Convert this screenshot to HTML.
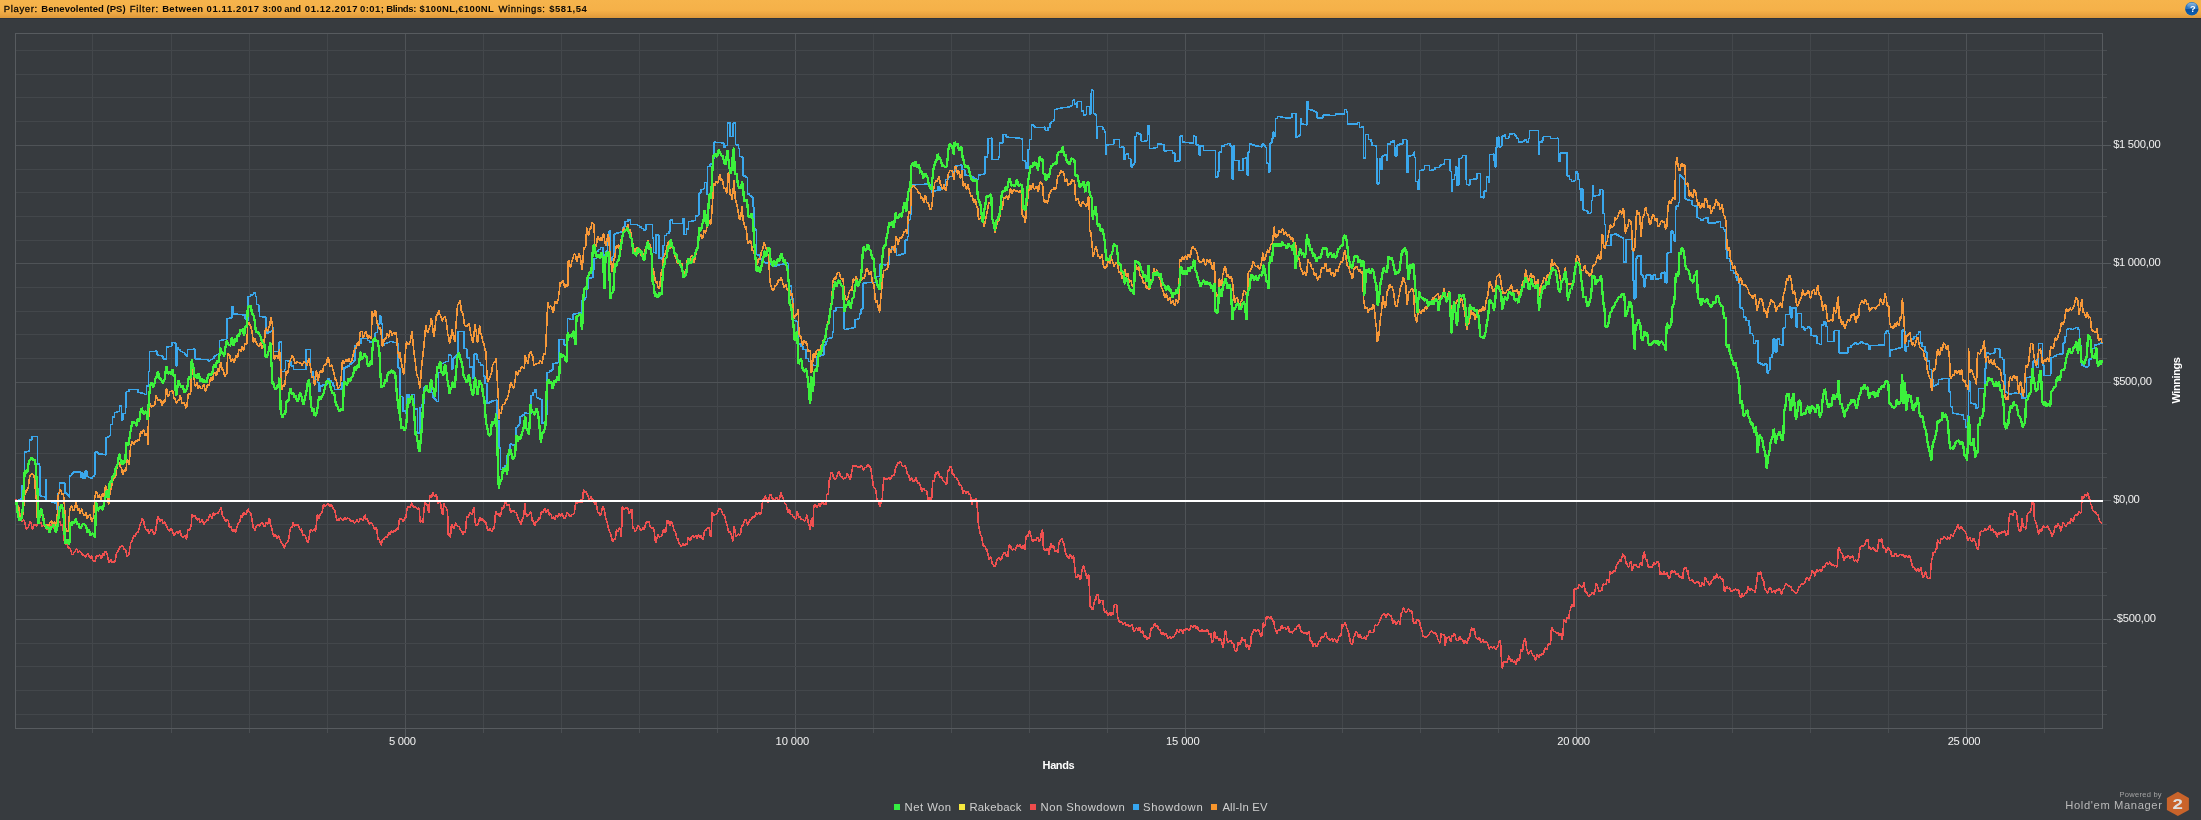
<!DOCTYPE html>
<html><head><meta charset="utf-8"><title>Graph</title><style>
html,body{margin:0;padding:0;background:#373b3f;}
body{width:2201px;height:820px;overflow:hidden;position:relative;font-family:"Liberation Sans",sans-serif;}
#hdr{position:absolute;left:0;top:0;width:2201px;height:18px;background:linear-gradient(#f6b44c 0%,#f5b149 55%,#eaa441 80%,#dc983a 100%);}
#hdrline{position:absolute;left:0;top:18px;width:2201px;height:1px;background:#2a323d;}
#hdr span{position:absolute;top:2.5px;font-size:9.5px;line-height:12px;color:#111;white-space:nowrap;}
#hdr b{font-weight:bold;}
svg{position:absolute;left:0;top:0;will-change:transform;}
svg text{font-family:"Liberation Sans",sans-serif;}
</style></head><body>
<div id="hdr"></div><div id="hdrline"></div>
<svg width="2201" height="820" viewBox="0 0 2201 820">
<g shape-rendering="crispEdges"><line x1="92.5" y1="33.5" x2="92.5" y2="728.5" stroke="#43474b"/><line x1="171.5" y1="33.5" x2="171.5" y2="728.5" stroke="#43474b"/><line x1="249.5" y1="33.5" x2="249.5" y2="728.5" stroke="#43474b"/><line x1="327.5" y1="33.5" x2="327.5" y2="728.5" stroke="#43474b"/><line x1="405.5" y1="33.5" x2="405.5" y2="728.5" stroke="#4f5357"/><line x1="483.5" y1="33.5" x2="483.5" y2="728.5" stroke="#43474b"/><line x1="561.5" y1="33.5" x2="561.5" y2="728.5" stroke="#43474b"/><line x1="639.5" y1="33.5" x2="639.5" y2="728.5" stroke="#43474b"/><line x1="717.5" y1="33.5" x2="717.5" y2="728.5" stroke="#43474b"/><line x1="795.5" y1="33.5" x2="795.5" y2="728.5" stroke="#4f5357"/><line x1="873.5" y1="33.5" x2="873.5" y2="728.5" stroke="#43474b"/><line x1="951.5" y1="33.5" x2="951.5" y2="728.5" stroke="#43474b"/><line x1="1029.5" y1="33.5" x2="1029.5" y2="728.5" stroke="#43474b"/><line x1="1107.5" y1="33.5" x2="1107.5" y2="728.5" stroke="#43474b"/><line x1="1185.5" y1="33.5" x2="1185.5" y2="728.5" stroke="#4f5357"/><line x1="1264.5" y1="33.5" x2="1264.5" y2="728.5" stroke="#43474b"/><line x1="1342.5" y1="33.5" x2="1342.5" y2="728.5" stroke="#43474b"/><line x1="1420.5" y1="33.5" x2="1420.5" y2="728.5" stroke="#43474b"/><line x1="1498.5" y1="33.5" x2="1498.5" y2="728.5" stroke="#43474b"/><line x1="1576.5" y1="33.5" x2="1576.5" y2="728.5" stroke="#4f5357"/><line x1="1654.5" y1="33.5" x2="1654.5" y2="728.5" stroke="#43474b"/><line x1="1732.5" y1="33.5" x2="1732.5" y2="728.5" stroke="#43474b"/><line x1="1810.5" y1="33.5" x2="1810.5" y2="728.5" stroke="#43474b"/><line x1="1888.5" y1="33.5" x2="1888.5" y2="728.5" stroke="#43474b"/><line x1="1966.5" y1="33.5" x2="1966.5" y2="728.5" stroke="#4f5357"/><line x1="2044.5" y1="33.5" x2="2044.5" y2="728.5" stroke="#43474b"/><line x1="15.5" y1="714.5" x2="2102.5" y2="714.5" stroke="#43474b"/><line x1="15.5" y1="690.5" x2="2102.5" y2="690.5" stroke="#43474b"/><line x1="15.5" y1="666.5" x2="2102.5" y2="666.5" stroke="#43474b"/><line x1="15.5" y1="643.5" x2="2102.5" y2="643.5" stroke="#43474b"/><line x1="15.5" y1="619.5" x2="2102.5" y2="619.5" stroke="#4f5357"/><line x1="15.5" y1="595.5" x2="2102.5" y2="595.5" stroke="#43474b"/><line x1="15.5" y1="572.5" x2="2102.5" y2="572.5" stroke="#43474b"/><line x1="15.5" y1="548.5" x2="2102.5" y2="548.5" stroke="#43474b"/><line x1="15.5" y1="524.5" x2="2102.5" y2="524.5" stroke="#43474b"/><line x1="15.5" y1="477.5" x2="2102.5" y2="477.5" stroke="#43474b"/><line x1="15.5" y1="453.5" x2="2102.5" y2="453.5" stroke="#43474b"/><line x1="15.5" y1="429.5" x2="2102.5" y2="429.5" stroke="#43474b"/><line x1="15.5" y1="406.5" x2="2102.5" y2="406.5" stroke="#43474b"/><line x1="15.5" y1="382.5" x2="2102.5" y2="382.5" stroke="#4f5357"/><line x1="15.5" y1="358.5" x2="2102.5" y2="358.5" stroke="#43474b"/><line x1="15.5" y1="334.5" x2="2102.5" y2="334.5" stroke="#43474b"/><line x1="15.5" y1="311.5" x2="2102.5" y2="311.5" stroke="#43474b"/><line x1="15.5" y1="287.5" x2="2102.5" y2="287.5" stroke="#43474b"/><line x1="15.5" y1="263.5" x2="2102.5" y2="263.5" stroke="#4f5357"/><line x1="15.5" y1="240.5" x2="2102.5" y2="240.5" stroke="#43474b"/><line x1="15.5" y1="216.5" x2="2102.5" y2="216.5" stroke="#43474b"/><line x1="15.5" y1="192.5" x2="2102.5" y2="192.5" stroke="#43474b"/><line x1="15.5" y1="169.5" x2="2102.5" y2="169.5" stroke="#43474b"/><line x1="15.5" y1="145.5" x2="2102.5" y2="145.5" stroke="#4f5357"/><line x1="15.5" y1="121.5" x2="2102.5" y2="121.5" stroke="#43474b"/><line x1="15.5" y1="97.5" x2="2102.5" y2="97.5" stroke="#43474b"/><line x1="15.5" y1="74.5" x2="2102.5" y2="74.5" stroke="#43474b"/><line x1="15.5" y1="50.5" x2="2102.5" y2="50.5" stroke="#43474b"/></g>
<g shape-rendering="crispEdges"><rect x="15.5" y="33.5" width="2087.0" height="695.0" fill="none" stroke="#575b5f"/><line x1="92.5" y1="729.0" x2="92.5" y2="732.5" stroke="#4a4e52"/><line x1="171.5" y1="729.0" x2="171.5" y2="732.5" stroke="#4a4e52"/><line x1="249.5" y1="729.0" x2="249.5" y2="732.5" stroke="#4a4e52"/><line x1="327.5" y1="729.0" x2="327.5" y2="732.5" stroke="#4a4e52"/><line x1="405.5" y1="729.0" x2="405.5" y2="737.5" stroke="#555a5e"/><line x1="483.5" y1="729.0" x2="483.5" y2="732.5" stroke="#4a4e52"/><line x1="561.5" y1="729.0" x2="561.5" y2="732.5" stroke="#4a4e52"/><line x1="639.5" y1="729.0" x2="639.5" y2="732.5" stroke="#4a4e52"/><line x1="717.5" y1="729.0" x2="717.5" y2="732.5" stroke="#4a4e52"/><line x1="795.5" y1="729.0" x2="795.5" y2="737.5" stroke="#555a5e"/><line x1="873.5" y1="729.0" x2="873.5" y2="732.5" stroke="#4a4e52"/><line x1="951.5" y1="729.0" x2="951.5" y2="732.5" stroke="#4a4e52"/><line x1="1029.5" y1="729.0" x2="1029.5" y2="732.5" stroke="#4a4e52"/><line x1="1107.5" y1="729.0" x2="1107.5" y2="732.5" stroke="#4a4e52"/><line x1="1185.5" y1="729.0" x2="1185.5" y2="737.5" stroke="#555a5e"/><line x1="1264.5" y1="729.0" x2="1264.5" y2="732.5" stroke="#4a4e52"/><line x1="1342.5" y1="729.0" x2="1342.5" y2="732.5" stroke="#4a4e52"/><line x1="1420.5" y1="729.0" x2="1420.5" y2="732.5" stroke="#4a4e52"/><line x1="1498.5" y1="729.0" x2="1498.5" y2="732.5" stroke="#4a4e52"/><line x1="1576.5" y1="729.0" x2="1576.5" y2="737.5" stroke="#555a5e"/><line x1="1654.5" y1="729.0" x2="1654.5" y2="732.5" stroke="#4a4e52"/><line x1="1732.5" y1="729.0" x2="1732.5" y2="732.5" stroke="#4a4e52"/><line x1="1810.5" y1="729.0" x2="1810.5" y2="732.5" stroke="#4a4e52"/><line x1="1888.5" y1="729.0" x2="1888.5" y2="732.5" stroke="#4a4e52"/><line x1="1966.5" y1="729.0" x2="1966.5" y2="737.5" stroke="#555a5e"/><line x1="2044.5" y1="729.0" x2="2044.5" y2="732.5" stroke="#4a4e52"/><line x1="2103.0" y1="714.5" x2="2106.5" y2="714.5" stroke="#4a4e52"/><line x1="2103.0" y1="690.5" x2="2106.5" y2="690.5" stroke="#4a4e52"/><line x1="2103.0" y1="666.5" x2="2106.5" y2="666.5" stroke="#4a4e52"/><line x1="2103.0" y1="643.5" x2="2106.5" y2="643.5" stroke="#4a4e52"/><line x1="2103.0" y1="619.5" x2="2110.5" y2="619.5" stroke="#555a5e"/><line x1="2103.0" y1="595.5" x2="2106.5" y2="595.5" stroke="#4a4e52"/><line x1="2103.0" y1="572.5" x2="2106.5" y2="572.5" stroke="#4a4e52"/><line x1="2103.0" y1="548.5" x2="2106.5" y2="548.5" stroke="#4a4e52"/><line x1="2103.0" y1="524.5" x2="2106.5" y2="524.5" stroke="#4a4e52"/><line x1="2103.0" y1="500.5" x2="2110.5" y2="500.5" stroke="#555a5e"/><line x1="2103.0" y1="477.5" x2="2106.5" y2="477.5" stroke="#4a4e52"/><line x1="2103.0" y1="453.5" x2="2106.5" y2="453.5" stroke="#4a4e52"/><line x1="2103.0" y1="429.5" x2="2106.5" y2="429.5" stroke="#4a4e52"/><line x1="2103.0" y1="406.5" x2="2106.5" y2="406.5" stroke="#4a4e52"/><line x1="2103.0" y1="382.5" x2="2110.5" y2="382.5" stroke="#555a5e"/><line x1="2103.0" y1="358.5" x2="2106.5" y2="358.5" stroke="#4a4e52"/><line x1="2103.0" y1="334.5" x2="2106.5" y2="334.5" stroke="#4a4e52"/><line x1="2103.0" y1="311.5" x2="2106.5" y2="311.5" stroke="#4a4e52"/><line x1="2103.0" y1="287.5" x2="2106.5" y2="287.5" stroke="#4a4e52"/><line x1="2103.0" y1="263.5" x2="2110.5" y2="263.5" stroke="#555a5e"/><line x1="2103.0" y1="240.5" x2="2106.5" y2="240.5" stroke="#4a4e52"/><line x1="2103.0" y1="216.5" x2="2106.5" y2="216.5" stroke="#4a4e52"/><line x1="2103.0" y1="192.5" x2="2106.5" y2="192.5" stroke="#4a4e52"/><line x1="2103.0" y1="169.5" x2="2106.5" y2="169.5" stroke="#4a4e52"/><line x1="2103.0" y1="145.5" x2="2110.5" y2="145.5" stroke="#555a5e"/><line x1="2103.0" y1="121.5" x2="2106.5" y2="121.5" stroke="#4a4e52"/><line x1="2103.0" y1="97.5" x2="2106.5" y2="97.5" stroke="#4a4e52"/><line x1="2103.0" y1="74.5" x2="2106.5" y2="74.5" stroke="#4a4e52"/><line x1="2103.0" y1="50.5" x2="2106.5" y2="50.5" stroke="#4a4e52"/></g>
<g fill="none" stroke-linejoin="bevel" stroke-linecap="butt" shape-rendering="crispEdges">
<path d="M16.1,499.0 L17.3,502.9 L18.3,507.3 L19.1,511.6 L20.4,515.5 L21.0,519.1 L22.2,521.6 L23.5,519.5 L24.7,522.0 L25.3,525.3 L26.5,529.5 L26.9,528.2 L28.1,527.8 L29.4,524.2 L30.2,521.2 L31.2,523.3 L32.0,528.1 L32.6,529.2 L33.8,525.0 L35.3,524.6 L35.7,525.3 L36.6,526.7 L37.9,521.7 L39.3,522.5 L39.5,522.9 L40.8,522.7 L42.1,526.3 L43.0,525.5 L43.8,524.6 L45.6,525.5 L46.6,528.6 L47.3,529.6 L49.1,524.0 L50.3,526.6 L50.3,526.6 L51.4,523.7 L52.8,524.9 L54.3,528.8 L54.9,527.9 L55.5,525.5 L57.0,527.1 L58.5,523.1 L58.5,523.1 L60.0,521.4 L61.5,526.2 L62.2,524.7 L63.0,527.8 L64.2,540.2 L64.9,543.9 L65.4,543.9 L66.8,544.0 L68.5,548.3 L69.5,548.0 L70.3,548.7 L71.9,554.3 L73.2,554.7 L73.4,553.6 L75.3,551.1 L75.9,549.2 L77.1,549.4 L78.3,552.7 L79.6,550.9 L80.5,551.9 L81.4,552.6 L82.5,554.7 L84.2,555.8 L85.0,556.7 L85.5,557.1 L87.2,553.9 L88.4,554.2 L89.6,557.2 L89.9,558.2 L91.5,555.5 L92.7,560.4 L94.0,561.6 L94.2,561.8 L95.2,560.9 L96.7,555.1 L97.9,556.6 L97.9,556.7 L99.6,554.5 L101.4,558.6 L101.5,558.4 L102.8,552.9 L103.9,555.4 L105.2,551.1 L105.6,551.4 L107.4,555.0 L108.8,562.5 L109.0,562.9 L110.8,559.2 L112.5,562.9 L113.8,561.9 L114.3,563.0 L115.0,561.4 L116.3,554.3 L117.1,552.3 L117.6,552.5 L119.5,547.2 L120.7,546.6 L120.8,546.6 L122.6,545.8 L123.5,547.2 L123.8,548.8 L125.6,549.9 L127.1,556.3 L127.3,556.7 L128.9,554.1 L129.0,553.5 L130.6,544.1 L130.8,542.7 L131.9,542.0 L133.7,535.5 L134.4,536.1 L135.0,536.9 L136.5,532.0 L137.2,532.6 L138.4,531.7 L139.9,525.4 L140.2,523.9 L141.6,521.9 L142.3,518.4 L143.4,519.8 L144.7,526.6 L145.4,528.3 L146.4,530.1 L147.8,529.3 L148.1,531.1 L148.9,533.2 L150.8,529.9 L151.8,530.2 L152.4,530.3 L154.1,535.1 L155.5,532.3 L155.7,530.7 L157.1,520.7 L157.7,517.0 L158.5,517.2 L159.8,521.7 L161.0,519.8 L161.6,518.9 L162.9,523.5 L164.4,521.9 L164.6,522.3 L166.1,524.9 L168.0,529.8 L168.3,530.1 L169.5,531.2 L170.9,528.2 L172.0,530.1 L173.7,535.6 L173.8,535.6 L175.0,534.3 L176.8,530.9 L178.3,533.3 L180.0,530.6 L180.2,531.0 L181.3,535.4 L182.9,537.6 L183.1,537.7 L184.9,535.8 L186.5,539.3 L186.6,539.1 L187.6,531.7 L188.4,529.3 L189.4,530.1 L190.8,526.8 L191.1,527.0 L192.0,514.4 L192.7,516.1 L194.3,516.1 L195.6,516.3 L195.7,516.8 L196.9,520.0 L198.7,518.3 L199.4,520.3 L200.2,522.6 L202.0,519.8 L203.0,522.3 L203.8,524.4 L205.7,521.9 L205.8,522.0 L206.9,519.4 L208.1,520.2 L208.5,518.3 L210.0,514.6 L211.8,518.3 L212.2,517.3 L213.5,512.6 L214.7,515.1 L216.6,513.3 L216.7,513.2 L217.9,513.4 L219.5,510.6 L221.1,507.5 L221.3,507.9 L222.4,515.5 L223.9,517.2 L224.1,517.8 L225.6,522.0 L226.9,519.6 L227.7,519.7 L228.3,520.8 L229.6,528.1 L230.7,526.1 L231.4,528.7 L232.6,531.7 L234.2,529.7 L235.0,531.9 L235.7,532.0 L236.9,527.0 L237.8,524.4 L238.1,523.4 L239.6,522.4 L241.1,515.7 L241.4,516.0 L242.3,518.0 L243.4,512.6 L244.2,513.3 L244.8,514.3 L246.4,513.9 L247.8,508.7 L247.8,508.8 L249.1,511.8 L250.4,513.0 L250.6,512.9 L251.6,517.4 L253.3,527.6 L253.3,527.6 L255.1,530.4 L256.1,527.1 L256.2,526.4 L257.7,524.7 L259.5,526.3 L259.7,525.6 L261.0,523.4 L262.5,522.9 L263.8,526.1 L265.1,526.3 L265.2,526.0 L266.2,522.3 L267.7,524.2 L269.2,518.4 L269.8,519.3 L270.4,524.4 L272.1,529.7 L272.5,532.7 L273.7,536.6 L275.5,534.3 L276.2,536.6 L277.0,538.8 L278.5,535.5 L279.7,539.1 L279.8,539.0 L281.3,542.6 L282.9,544.4 L283.5,547.1 L284.3,548.2 L285.7,543.6 L287.1,542.8 L287.2,542.9 L288.8,538.3 L290.0,529.9 L290.8,526.9 L291.8,527.6 L293.1,522.6 L294.4,526.4 L294.5,526.2 L295.6,524.2 L296.7,525.5 L298.1,524.7 L298.2,524.8 L299.9,530.1 L301.4,528.9 L303.1,535.7 L303.6,535.4 L304.4,534.5 L305.8,536.9 L307.2,541.8 L308.2,543.0 L309.0,538.0 L310.0,530.3 L310.9,529.0 L312.5,531.0 L314.4,528.8 L315.5,531.3 L316.1,527.9 L317.3,514.9 L317.4,514.6 L318.9,518.4 L320.6,513.2 L321.0,513.7 L322.1,511.9 L323.5,504.6 L323.7,504.3 L325.1,506.6 L327.0,504.2 L327.4,504.1 L328.5,504.1 L330.2,506.6 L331.0,504.5 L331.4,504.1 L333.3,508.9 L334.7,510.3 L335.0,511.3 L336.8,520.4 L337.4,520.9 L337.9,519.0 L339.2,520.4 L340.5,517.6 L341.8,519.9 L342.0,519.7 L343.3,520.4 L344.7,517.3 L345.9,519.7 L347.5,518.3 L347.7,518.2 L349.2,518.7 L350.8,521.5 L352.5,520.3 L354.3,522.9 L354.8,522.7 L355.8,522.1 L357.2,519.6 L358.5,522.7 L360.3,518.4 L361.2,519.1 L361.6,519.1 L363.2,520.5 L364.8,514.8 L364.9,515.0 L366.0,519.7 L367.2,518.2 L368.5,523.0 L368.9,524.0 L370.2,522.9 L371.8,522.9 L373.1,525.6 L373.1,525.7 L375.0,530.1 L376.1,527.0 L376.8,529.1 L377.7,536.9 L378.2,539.6 L379.2,539.6 L381.0,545.1 L381.3,544.7 L382.5,539.7 L384.1,539.0 L384.2,539.0 L385.7,536.3 L387.2,537.4 L388.7,532.4 L389.6,533.9 L390.1,534.9 L391.5,530.6 L393.0,532.8 L394.2,530.3 L395.3,531.7 L395.5,531.3 L397.0,527.9 L398.2,529.9 L398.4,528.4 L399.1,520.8 L400.0,518.9 L401.9,519.2 L403.3,522.1 L405.0,517.6 L405.5,518.8 L406.7,511.4 L406.8,510.3 L407.9,506.1 L409.2,507.5 L409.7,507.8 L411.6,503.3 L411.9,503.1 L413.0,506.3 L414.7,507.7 L414.9,507.4 L416.2,507.2 L417.4,509.4 L417.4,509.3 L418.8,507.8 L419.3,509.7 L420.2,522.3 L420.2,522.4 L421.9,520.9 L422.6,523.2 L423.4,517.5 L423.8,512.2 L424.8,502.4 L425.1,501.6 L426.5,505.1 L427.5,505.0 L427.9,508.6 L428.8,513.1 L429.6,499.0 L429.9,495.3 L431.4,497.5 L432.8,492.7 L433.0,492.9 L434.5,496.6 L436.1,494.5 L436.6,495.7 L437.6,502.3 L437.9,503.3 L439.0,501.5 L440.3,502.5 L440.7,504.5 L442.0,513.2 L442.7,515.0 L443.3,508.4 L444.0,503.4 L444.7,506.1 L445.8,507.4 L446.1,507.1 L447.5,511.4 L447.6,511.2 L448.2,535.4 L449.0,533.6 L450.4,537.6 L450.6,535.5 L451.3,526.4 L452.1,524.3 L453.8,529.1 L454.0,528.6 L455.6,522.7 L456.8,525.1 L456.8,525.1 L458.5,526.6 L459.1,526.7 L460.1,529.4 L461.3,530.6 L461.3,530.8 L463.0,534.4 L463.2,534.4 L464.1,531.5 L465.4,532.9 L465.4,532.7 L466.5,518.2 L466.9,516.7 L468.3,517.2 L468.6,516.0 L470.1,512.1 L471.4,514.3 L472.0,514.3 L473.8,507.1 L473.8,507.4 L475.0,521.0 L475.2,522.1 L476.3,525.6 L476.7,524.4 L477.9,524.8 L478.7,521.6 L479.7,517.5 L480.5,517.7 L481.3,520.5 L483.1,519.0 L483.3,519.7 L484.9,522.5 L485.5,521.6 L486.7,526.3 L486.9,527.5 L488.4,530.8 L489.7,529.2 L490.1,528.2 L491.6,532.0 L492.9,528.2 L493.3,529.5 L494.1,527.9 L494.6,524.3 L495.5,513.3 L495.7,510.7 L497.2,514.2 L497.9,514.1 L498.7,513.5 L499.7,516.9 L500.5,516.3 L501.9,508.9 L502.2,507.4 L503.6,508.0 L504.3,505.1 L505.3,501.6 L506.1,502.2 L507.2,505.7 L508.9,504.5 L509.0,504.6 L510.5,512.1 L511.6,512.4 L512.1,510.7 L513.5,510.3 L514.4,511.3 L514.6,512.3 L516.1,512.4 L517.1,514.5 L517.9,518.1 L518.9,520.7 L519.5,520.5 L520.9,524.7 L521.3,524.7 L522.1,520.3 L523.5,516.1 L523.9,513.6 L525.0,503.5 L525.6,511.5 L525.7,513.6 L526.9,516.2 L528.7,514.2 L529.0,514.5 L530.1,512.7 L531.2,511.8 L531.8,518.0 L532.3,521.1 L533.2,520.1 L534.5,525.4 L534.7,525.5 L536.0,521.8 L537.2,522.1 L537.2,521.9 L538.7,517.9 L540.0,518.9 L540.1,518.6 L541.3,511.8 L541.8,511.1 L543.1,512.8 L544.5,508.8 L544.8,508.4 L546.1,513.0 L548.0,509.3 L548.2,510.1 L549.5,515.4 L550.8,513.8 L551.0,514.4 L552.2,518.3 L553.6,516.6 L553.7,517.2 L554.7,520.2 L556.3,515.2 L557.4,517.0 L557.7,517.2 L559.2,513.1 L559.3,513.0 L560.5,516.6 L561.9,513.5 L562.0,513.5 L563.4,517.6 L563.8,518.3 L564.6,518.5 L565.7,517.3 L566.5,514.8 L567.3,512.4 L569.1,515.3 L569.2,515.3 L570.8,516.5 L572.6,514.0 L572.9,514.7 L574.1,513.7 L574.4,512.1 L575.6,502.9 L575.8,502.5 L577.2,503.9 L578.4,501.8 L578.7,501.1 L580.1,502.6 L581.1,499.5 L581.7,500.4 L582.4,502.9 L583.3,491.8 L583.5,489.7 L584.8,492.5 L585.3,491.2 L586.5,492.1 L587.2,494.8 L588.0,496.1 L589.4,499.6 L589.5,499.7 L590.8,496.6 L592.1,498.7 L592.3,499.5 L593.6,499.6 L593.9,501.2 L594.9,504.5 L595.8,502.2 L596.2,502.6 L597.6,511.6 L597.9,512.9 L599.5,512.9 L600.3,515.5 L601.2,513.8 L602.2,508.0 L602.9,506.7 L604.4,509.5 L604.7,512.5 L605.8,518.4 L605.9,518.4 L607.2,522.4 L607.6,524.2 L608.8,529.7 L609.5,531.5 L610.6,533.9 L611.3,537.0 L612.4,540.8 L613.1,541.1 L614.0,538.9 L615.2,539.9 L615.3,539.7 L616.4,530.3 L616.6,530.0 L618.2,531.7 L619.5,527.8 L620.0,528.4 L621.4,537.4 L621.4,536.9 L622.3,507.5 L622.6,506.7 L624.1,509.3 L625.6,507.7 L625.9,507.7 L626.7,507.7 L628.0,508.3 L629.3,513.4 L629.6,513.1 L630.9,509.2 L631.8,509.4 L632.5,522.7 L632.9,528.9 L633.9,528.2 L635.1,531.2 L635.7,531.1 L636.9,528.5 L637.8,525.6 L638.4,525.2 L640.1,529.0 L641.4,530.6 L641.5,530.5 L642.8,527.7 L644.1,529.4 L645.1,526.5 L645.7,523.4 L647.0,521.4 L647.3,522.4 L648.8,521.2 L649.7,524.9 L650.1,526.4 L651.8,528.6 L652.5,528.0 L653.4,528.2 L654.3,531.7 L655.1,539.8 L655.6,543.1 L656.8,538.5 L657.9,535.0 L658.0,535.0 L659.6,537.1 L661.1,536.2 L661.6,535.7 L662.8,532.5 L663.4,529.7 L664.0,529.1 L665.1,532.5 L665.8,531.6 L667.0,521.3 L667.1,520.5 L668.6,520.9 L669.5,524.5 L669.9,525.7 L671.2,521.3 L671.7,521.6 L672.8,525.1 L674.1,530.3 L674.4,530.5 L675.5,532.0 L676.2,535.8 L676.7,538.3 L677.8,538.5 L678.1,540.0 L679.0,543.3 L680.1,544.2 L680.8,546.1 L681.4,546.5 L682.8,543.8 L683.6,544.7 L684.5,545.7 L685.8,543.3 L687.0,544.1 L687.2,543.7 L688.1,537.6 L688.5,537.2 L689.9,540.9 L690.9,539.0 L691.5,536.9 L692.8,535.3 L693.6,536.3 L694.3,538.2 L695.6,535.0 L696.4,537.4 L696.8,538.4 L698.3,534.9 L699.1,536.0 L699.7,538.2 L700.9,535.8 L701.0,535.6 L702.8,539.5 L703.7,536.2 L704.0,533.7 L705.0,530.0 L705.7,530.8 L707.4,527.8 L709.0,527.8 L709.2,528.4 L710.2,535.6 L711.0,536.6 L712.0,516.4 L712.3,512.0 L713.7,515.4 L715.4,514.6 L715.6,514.8 L717.2,513.6 L718.3,510.2 L718.7,508.9 L719.9,509.6 L720.1,508.9 L721.5,509.8 L722.6,514.4 L722.9,514.6 L724.5,515.4 L725.6,520.6 L725.6,520.6 L727.5,526.8 L728.4,531.8 L728.7,532.5 L729.8,531.6 L731.1,534.0 L731.5,535.0 L732.7,540.9 L732.9,541.1 L734.2,525.8 L734.4,526.4 L735.7,536.2 L736.1,537.0 L738.0,534.1 L738.4,534.3 L739.8,535.1 L740.8,532.9 L741.3,528.5 L742.1,525.1 L743.1,525.3 L744.5,520.1 L744.8,519.3 L746.1,519.9 L747.6,524.9 L747.8,525.2 L749.5,520.4 L750.3,519.7 L751.0,519.7 L752.8,516.5 L753.1,517.0 L754.5,517.7 L755.8,512.9 L755.9,512.9 L757.0,514.8 L758.5,513.4 L758.8,512.7 L760.6,514.7 L761.3,512.4 L762.3,503.1 L763.1,499.5 L763.7,500.2 L764.9,496.0 L765.5,496.4 L767.3,501.1 L767.7,502.9 L768.9,500.2 L769.5,496.1 L770.4,493.9 L771.3,495.3 L772.0,498.1 L773.2,499.4 L773.5,498.7 L775.2,500.9 L775.9,498.7 L776.5,496.9 L778.1,500.0 L779.5,498.7 L779.6,498.4 L780.8,492.4 L781.0,492.4 L782.0,496.8 L783.2,498.0 L783.2,498.1 L784.8,503.4 L786.0,504.3 L786.4,505.3 L787.7,512.1 L787.8,512.2 L789.3,509.1 L790.0,511.4 L790.1,512.6 L790.6,515.0 L792.0,514.3 L792.8,516.0 L793.9,516.8 L795.7,519.1 L796.5,517.4 L796.9,513.2 L797.4,511.1 L798.1,515.8 L799.2,517.2 L799.9,516.2 L801.2,519.6 L802.9,519.4 L802.9,519.4 L804.5,521.1 L805.6,519.4 L806.0,517.5 L807.1,514.7 L807.8,520.3 L808.3,522.9 L808.9,524.1 L810.2,530.0 L810.8,525.6 L811.5,518.3 L812.2,521.2 L812.9,526.9 L813.8,506.0 L813.9,506.1 L815.4,504.7 L816.9,507.6 L817.5,506.7 L818.8,503.6 L820.0,507.0 L821.2,503.3 L821.2,503.2 L822.5,502.4 L824.3,504.9 L824.8,503.8 L825.9,504.1 L826.1,504.9 L826.8,493.9 L827.5,495.1 L828.5,492.3 L829.0,482.2 L829.0,481.3 L830.2,478.2 L830.8,473.0 L831.6,472.3 L833.0,475.3 L833.2,476.4 L834.9,479.3 L835.0,478.7 L836.2,478.7 L837.6,473.7 L837.8,473.3 L839.0,471.1 L839.4,471.6 L840.1,475.5 L841.3,476.6 L841.5,476.1 L843.3,479.0 L844.0,478.7 L844.6,477.4 L846.1,478.0 L846.8,474.9 L847.3,473.4 L848.7,476.1 L850.2,479.7 L850.4,479.8 L851.7,472.2 L851.7,471.9 L853.1,465.2 L853.2,465.2 L854.5,466.9 L855.4,465.5 L855.8,466.0 L857.6,466.7 L857.7,466.9 L859.2,467.9 L860.6,466.1 L861.4,465.8 L861.9,466.0 L863.6,470.1 L864.1,469.5 L864.9,467.3 L866.2,467.7 L866.9,466.0 L867.9,464.0 L868.7,465.0 L869.2,467.1 L870.5,466.4 L870.5,466.5 L872.3,478.7 L872.4,478.8 L873.6,487.6 L873.7,487.5 L875.5,489.0 L876.0,491.1 L876.7,498.2 L877.3,501.1 L878.4,500.4 L879.7,506.6 L879.8,506.8 L881.4,501.4 L882.1,501.8 L882.8,489.3 L882.8,489.1 L883.9,478.1 L884.2,477.2 L885.5,478.8 L887.0,478.8 L887.2,479.0 L889.0,477.3 L889.7,478.6 L890.4,479.3 L892.1,476.0 L893.8,474.5 L894.3,475.7 L895.0,471.8 L895.6,466.9 L896.5,466.7 L898.0,462.2 L898.0,462.2 L899.5,464.0 L900.3,461.4 L901.3,463.0 L901.6,464.9 L902.6,466.8 L904.1,466.6 L904.4,465.7 L905.4,465.3 L906.2,468.8 L907.3,474.0 L908.0,474.5 L908.5,474.2 L909.8,480.1 L910.8,479.7 L911.7,477.8 L913.0,481.1 L914.5,481.7 L916.1,477.6 L916.3,477.9 L917.8,484.0 L919.0,483.0 L919.3,483.0 L920.5,485.9 L921.7,491.3 L921.9,491.5 L923.4,488.2 L925.0,490.8 L925.4,490.0 L926.8,491.5 L927.2,494.5 L928.0,499.1 L929.1,499.2 L929.7,497.4 L930.9,500.5 L931.8,497.7 L932.2,490.1 L932.7,480.9 L933.8,481.3 L934.5,479.4 L935.2,474.7 L935.8,472.7 L936.6,474.2 L938.1,471.3 L938.2,471.4 L939.7,476.9 L941.0,476.8 L941.5,476.3 L942.8,480.6 L943.7,481.3 L944.5,481.8 L945.8,483.9 L946.8,484.1 L947.6,473.5 L947.9,470.1 L948.9,470.5 L950.1,467.3 L950.3,466.6 L951.6,466.7 L951.8,470.3 L952.3,474.4 L953.3,472.9 L954.9,478.0 L955.6,477.1 L956.4,477.9 L957.4,480.3 L958.0,480.4 L959.7,485.6 L960.2,484.9 L961.5,485.5 L962.9,493.3 L963.0,493.5 L964.2,490.3 L966.1,493.4 L966.6,492.4 L967.8,491.1 L969.1,494.3 L969.3,494.2 L970.4,495.0 L971.1,498.8 L971.6,504.6 L971.7,505.3 L972.7,499.9 L973.5,499.1 L974.4,500.6 L976.0,498.8 L976.6,499.7 L977.4,509.3 L977.9,514.0 L978.4,525.3 L979.0,526.8 L980.3,533.9 L980.3,534.1 L981.7,536.5 L982.1,539.4 L982.9,544.8 L983.9,546.2 L984.6,545.4 L986.3,550.1 L986.7,549.5 L987.9,553.6 L988.1,555.6 L989.3,560.0 L990.5,556.1 L991.2,558.4 L992.0,563.0 L993.9,566.0 L994.0,566.8 L995.5,566.4 L996.7,560.8 L996.9,560.2 L998.7,557.7 L999.5,558.6 L1000.0,560.1 L1001.5,558.3 L1001.7,558.8 L1002.8,554.2 L1002.8,554.4 L1004.6,552.5 L1005.9,554.6 L1006.3,555.9 L1007.7,556.7 L1007.7,556.4 L1009.0,545.5 L1009.5,544.7 L1010.8,546.2 L1011.3,548.4 L1012.4,549.7 L1012.6,550.2 L1013.6,548.9 L1015.4,550.1 L1015.9,548.4 L1016.9,544.9 L1018.7,546.6 L1018.7,546.7 L1020.0,544.0 L1021.4,548.3 L1021.7,549.1 L1023.1,545.5 L1024.7,549.8 L1024.8,549.5 L1026.0,537.0 L1026.4,535.5 L1027.7,536.7 L1028.4,534.3 L1028.9,531.6 L1029.7,530.8 L1030.2,533.6 L1031.4,537.1 L1032.0,540.1 L1032.6,541.7 L1033.9,540.6 L1034.4,539.0 L1035.9,541.0 L1036.1,540.5 L1037.5,537.0 L1039.3,541.9 L1040.4,538.6 L1040.6,539.0 L1041.5,532.1 L1042.3,530.7 L1042.6,529.0 L1043.4,548.2 L1043.5,548.1 L1045.3,551.0 L1046.1,550.0 L1046.5,548.7 L1047.9,548.8 L1048.1,549.7 L1049.2,554.4 L1049.2,554.4 L1050.7,542.9 L1050.7,542.9 L1052.0,547.7 L1053.4,545.3 L1053.5,545.2 L1054.9,551.7 L1055.8,551.2 L1056.1,550.4 L1057.9,552.4 L1058.0,552.4 L1058.9,543.1 L1059.3,542.9 L1060.8,539.4 L1061.7,538.5 L1062.0,538.7 L1063.6,543.7 L1063.9,543.7 L1065.1,549.9 L1065.3,551.4 L1066.5,555.9 L1067.9,556.4 L1068.1,557.0 L1069.2,558.6 L1070.3,554.5 L1070.8,555.2 L1072.1,558.5 L1073.6,555.7 L1073.6,556.0 L1074.8,568.3 L1075.2,571.6 L1075.9,577.2 L1076.7,577.4 L1078.5,574.2 L1079.0,575.8 L1080.2,579.6 L1080.9,578.8 L1081.0,577.9 L1081.9,570.4 L1082.4,568.7 L1083.5,565.8 L1083.5,565.6 L1085.0,571.0 L1085.3,571.2 L1086.8,578.7 L1086.8,578.7 L1088.6,574.8 L1088.7,574.7 L1089.4,587.8 L1090.1,606.5 L1090.4,605.9 L1091.6,608.7 L1092.9,609.4 L1093.4,607.0 L1093.8,604.2 L1095.2,599.6 L1095.6,600.6 L1096.5,594.4 L1096.5,594.4 L1098.3,595.3 L1098.3,595.3 L1099.3,604.2 L1099.7,602.3 L1101.1,600.2 L1101.1,600.3 L1102.9,600.4 L1102.9,600.5 L1103.8,609.4 L1104.7,612.4 L1106.5,610.9 L1106.6,611.4 L1108.0,615.9 L1109.3,613.3 L1109.9,612.1 L1111.0,615.4 L1112.1,612.2 L1113.0,614.7 L1113.4,612.0 L1113.9,605.8 L1114.9,604.4 L1116.6,604.4 L1116.7,605.2 L1117.6,616.7 L1118.4,619.3 L1119.0,621.4 L1119.6,622.2 L1121.2,621.1 L1123.0,624.4 L1123.1,624.6 L1124.9,622.2 L1125.8,624.5 L1126.6,625.8 L1128.0,624.6 L1129.3,626.4 L1129.4,626.4 L1130.5,626.8 L1131.6,624.4 L1132.2,625.2 L1133.1,629.1 L1133.6,631.4 L1134.6,631.5 L1136.3,627.9 L1136.8,628.2 L1137.9,630.3 L1139.5,627.1 L1139.6,627.0 L1140.7,632.4 L1142.2,631.1 L1142.6,630.9 L1144.0,636.8 L1145.0,636.6 L1145.6,635.8 L1146.8,639.6 L1147.9,637.1 L1148.6,638.9 L1149.6,637.1 L1150.5,632.4 L1151.3,628.5 L1152.7,627.8 L1152.9,628.1 L1154.5,623.4 L1155.6,625.0 L1156.1,627.0 L1157.4,625.6 L1157.4,625.6 L1158.8,630.0 L1159.6,629.2 L1160.2,630.6 L1160.5,632.3 L1161.9,634.7 L1163.2,632.0 L1163.3,632.3 L1164.4,635.6 L1166.0,633.7 L1166.2,633.7 L1167.8,638.7 L1168.8,637.8 L1169.6,636.4 L1170.8,638.8 L1172.3,637.2 L1172.4,637.3 L1174.1,636.6 L1174.3,636.7 L1175.2,633.8 L1175.5,634.2 L1177.1,629.4 L1177.9,631.1 L1178.8,633.1 L1180.0,629.9 L1181.1,629.1 L1181.6,630.0 L1182.9,633.3 L1184.2,629.2 L1184.3,629.4 L1185.6,630.1 L1186.1,629.0 L1187.0,628.3 L1188.7,630.2 L1188.9,630.2 L1189.9,629.5 L1190.7,626.7 L1191.1,625.6 L1192.9,627.6 L1193.5,626.3 L1194.6,625.1 L1196.2,628.8 L1196.2,628.9 L1197.4,626.1 L1198.6,630.8 L1198.9,630.7 L1200.4,631.8 L1200.8,631.6 L1201.9,629.5 L1203.0,631.6 L1204.9,630.6 L1205.3,631.3 L1206.4,631.7 L1207.2,629.8 L1207.7,629.6 L1209.2,634.8 L1209.4,634.6 L1210.8,633.2 L1210.9,633.6 L1211.7,641.8 L1212.2,643.1 L1213.6,640.0 L1213.9,635.5 L1214.5,631.3 L1215.5,636.7 L1216.3,638.3 L1217.2,636.8 L1218.9,640.4 L1219.1,639.9 L1220.4,638.2 L1220.9,639.4 L1222.0,643.6 L1223.3,648.0 L1223.3,647.5 L1224.5,636.4 L1224.5,635.9 L1225.5,629.7 L1226.4,634.3 L1226.9,639.9 L1227.7,642.2 L1229.0,642.0 L1229.1,641.7 L1230.8,640.4 L1231.9,642.6 L1232.0,643.0 L1233.7,643.6 L1233.7,643.6 L1234.6,650.0 L1235.5,651.3 L1236.8,650.9 L1236.9,650.4 L1238.3,642.6 L1238.5,641.9 L1240.0,644.9 L1241.0,642.1 L1241.7,637.5 L1241.9,637.2 L1243.2,641.0 L1244.6,639.2 L1244.7,639.3 L1246.2,646.7 L1246.5,646.7 L1247.9,644.8 L1249.2,649.6 L1249.2,649.5 L1250.4,644.3 L1250.7,644.6 L1251.4,634.5 L1251.8,634.9 L1253.2,631.1 L1253.8,630.3 L1254.6,629.3 L1255.6,630.6 L1255.9,631.4 L1257.6,630.1 L1258.4,630.2 L1259.4,631.4 L1259.8,633.4 L1260.9,636.3 L1262.0,635.9 L1262.1,635.1 L1263.0,624.3 L1263.4,622.7 L1264.6,626.7 L1265.3,624.1 L1265.8,618.8 L1266.1,616.9 L1267.0,618.2 L1268.3,616.6 L1268.4,616.7 L1269.5,618.5 L1271.2,616.7 L1271.2,616.7 L1272.5,620.7 L1273.8,621.6 L1273.9,621.2 L1274.8,628.7 L1275.2,628.2 L1276.7,633.5 L1276.8,633.7 L1278.6,628.9 L1280.2,631.0 L1280.3,630.7 L1281.5,625.5 L1282.2,626.0 L1283.2,628.6 L1284.7,627.2 L1285.8,629.0 L1286.3,629.7 L1288.0,626.7 L1288.6,627.9 L1289.3,631.9 L1290.4,632.1 L1290.7,631.1 L1291.9,633.0 L1293.5,631.3 L1294.1,630.6 L1295.2,628.6 L1295.9,629.7 L1296.7,626.8 L1296.8,626.4 L1298.1,625.9 L1298.6,624.6 L1299.8,626.2 L1300.1,628.3 L1301.1,632.0 L1302.3,631.0 L1303.2,632.9 L1303.7,633.7 L1305.4,632.0 L1305.9,632.9 L1307.3,634.7 L1308.7,631.2 L1309.2,632.9 L1310.0,640.0 L1310.5,641.5 L1311.7,641.1 L1312.3,644.2 L1313.1,646.4 L1314.6,643.0 L1315.1,644.3 L1316.0,646.0 L1317.1,646.2 L1317.8,645.1 L1318.8,641.8 L1319.7,641.5 L1320.0,641.4 L1321.1,637.0 L1322.4,637.3 L1322.6,637.7 L1324.0,636.9 L1325.1,633.9 L1325.3,633.0 L1326.1,632.2 L1326.9,636.9 L1327.9,638.7 L1328.4,638.3 L1330.0,640.5 L1330.6,640.2 L1331.7,638.5 L1333.2,641.4 L1333.4,640.8 L1334.3,638.9 L1335.8,640.2 L1336.1,641.5 L1337.1,642.7 L1337.9,640.8 L1338.6,637.3 L1338.9,636.1 L1340.4,636.4 L1341.1,634.8 L1342.1,624.7 L1342.2,624.2 L1343.2,626.4 L1345.1,622.3 L1345.3,622.6 L1346.9,628.5 L1347.1,628.4 L1348.5,632.4 L1348.9,634.4 L1350.4,642.0 L1350.7,643.5 L1351.7,643.9 L1352.6,644.2 L1353.0,640.7 L1353.9,635.8 L1354.4,636.6 L1355.8,631.7 L1356.2,631.3 L1357.1,632.3 L1358.1,636.0 L1358.8,637.9 L1360.0,634.7 L1360.8,636.4 L1361.7,638.7 L1363.1,638.4 L1363.6,638.4 L1364.6,636.7 L1365.9,640.2 L1366.3,639.1 L1367.2,635.5 L1368.3,635.1 L1369.0,632.1 L1369.9,629.8 L1371.0,632.9 L1371.8,632.2 L1372.7,632.7 L1374.0,631.8 L1374.5,627.2 L1375.1,624.9 L1375.8,625.8 L1376.9,625.5 L1378.2,624.2 L1378.5,623.8 L1380.3,619.4 L1380.9,618.3 L1381.6,615.7 L1383.1,614.2 L1383.1,614.1 L1384.6,613.5 L1385.5,616.5 L1385.9,617.2 L1387.7,613.2 L1389.2,614.6 L1389.3,615.1 L1391.1,615.9 L1391.5,616.9 L1392.8,623.4 L1392.8,623.4 L1394.4,620.3 L1395.9,624.9 L1396.5,624.2 L1397.4,622.4 L1399.1,620.9 L1400.1,624.6 L1400.3,623.3 L1401.0,613.2 L1402.1,612.5 L1403.5,607.6 L1403.8,608.2 L1404.9,611.5 L1406.5,612.0 L1406.7,612.0 L1408.5,608.4 L1410.1,611.7 L1410.2,611.4 L1411.5,610.6 L1412.4,614.8 L1413.0,620.2 L1413.9,624.2 L1414.2,622.8 L1415.8,623.6 L1416.6,620.4 L1417.0,619.4 L1418.7,620.2 L1419.7,622.4 L1420.4,626.4 L1421.2,628.4 L1422.2,631.6 L1422.6,634.6 L1423.3,636.6 L1424.9,637.0 L1425.7,637.1 L1426.7,636.6 L1428.6,635.0 L1429.4,633.6 L1430.2,632.2 L1431.8,631.1 L1433.1,632.8 L1433.6,634.1 L1435.1,632.4 L1436.6,635.1 L1436.7,634.8 L1438.0,640.3 L1438.3,639.6 L1439.7,643.3 L1440.4,641.0 L1440.8,636.5 L1441.3,633.6 L1442.4,634.6 L1444.2,634.9 L1444.6,634.8 L1445.3,645.7 L1446.0,641.8 L1447.1,637.4 L1447.5,638.4 L1449.0,636.6 L1450.4,641.6 L1450.7,641.5 L1451.9,635.5 L1452.6,635.5 L1453.4,636.5 L1454.1,633.5 L1454.7,633.7 L1455.9,639.0 L1456.5,640.1 L1457.7,640.8 L1458.7,639.5 L1459.6,636.5 L1460.5,637.0 L1461.1,639.3 L1462.6,639.5 L1463.2,641.9 L1464.1,643.5 L1465.2,640.2 L1466.9,643.6 L1467.0,643.7 L1468.4,637.6 L1468.7,638.3 L1469.7,637.4 L1470.0,635.4 L1470.1,633.6 L1471.5,628.1 L1471.9,628.1 L1473.1,630.9 L1474.3,628.2 L1474.4,628.6 L1475.5,636.7 L1476.2,637.8 L1478.0,639.5 L1478.3,638.8 L1479.4,636.9 L1480.6,641.9 L1481.0,642.1 L1482.0,641.7 L1483.1,638.9 L1484.3,642.6 L1484.7,642.2 L1486.2,641.8 L1487.4,643.3 L1488.0,644.6 L1489.2,649.1 L1489.3,649.1 L1490.7,646.1 L1492.0,647.6 L1492.2,648.2 L1493.8,646.8 L1493.9,646.8 L1495.6,649.8 L1496.9,647.2 L1497.5,647.9 L1498.5,644.7 L1498.8,642.4 L1499.7,640.6 L1500.6,642.7 L1501.3,657.2 L1501.3,657.7 L1502.4,669.3 L1503.1,664.1 L1503.9,661.5 L1504.5,663.0 L1505.7,661.9 L1506.6,662.7 L1507.1,661.9 L1508.8,656.1 L1509.0,656.0 L1510.6,661.3 L1511.2,661.3 L1511.9,659.8 L1513.7,662.1 L1514.0,661.2 L1514.9,661.3 L1515.8,665.2 L1516.6,662.4 L1517.1,659.3 L1518.2,658.4 L1519.4,660.8 L1519.7,659.6 L1520.7,650.0 L1521.1,649.0 L1522.6,651.9 L1522.6,651.8 L1523.1,644.6 L1524.4,639.8 L1525.5,638.3 L1525.7,640.8 L1526.8,649.8 L1526.9,649.5 L1528.3,654.3 L1529.1,653.5 L1530.2,650.9 L1531.3,650.7 L1531.8,653.3 L1533.2,655.8 L1533.6,655.2 L1535.4,660.3 L1535.5,660.4 L1536.9,654.2 L1537.7,655.2 L1538.6,657.7 L1539.9,654.6 L1541.3,655.7 L1542.5,653.2 L1543.2,655.0 L1544.1,650.7 L1544.3,651.0 L1545.5,647.8 L1546.9,649.5 L1547.3,648.3 L1547.8,645.7 L1549.0,643.4 L1550.5,645.2 L1550.5,645.1 L1551.4,628.1 L1552.0,627.3 L1553.8,631.5 L1554.2,631.6 L1555.2,631.7 L1556.7,633.5 L1556.9,633.4 L1558.0,632.6 L1559.3,635.4 L1560.2,633.5 L1560.7,633.2 L1562.4,639.9 L1562.5,638.8 L1563.9,619.6 L1564.1,619.1 L1565.7,622.5 L1567.1,617.8 L1568.2,618.0 L1568.8,618.7 L1569.7,610.8 L1570.1,610.6 L1571.6,604.8 L1571.7,604.4 L1573.5,606.9 L1573.8,606.5 L1574.3,589.3 L1574.7,588.4 L1576.2,589.6 L1577.1,588.6 L1577.9,588.5 L1579.1,584.8 L1581.0,586.1 L1581.6,587.3 L1582.4,587.9 L1584.0,582.6 L1584.0,582.6 L1585.2,591.6 L1585.3,591.9 L1586.5,591.4 L1587.1,593.1 L1588.1,595.7 L1589.5,595.7 L1590.0,594.6 L1591.3,594.9 L1591.7,593.6 L1592.6,591.9 L1594.1,594.7 L1594.4,594.3 L1595.9,584.9 L1596.3,583.2 L1597.3,585.6 L1598.7,590.8 L1599.0,591.1 L1600.4,591.0 L1601.7,590.5 L1602.3,587.3 L1603.6,583.7 L1604.1,584.5 L1605.7,584.6 L1606.3,582.8 L1607.4,579.0 L1609.0,582.1 L1609.1,582.1 L1610.0,571.2 L1610.4,572.4 L1612.1,573.9 L1612.2,574.1 L1613.8,570.6 L1614.5,571.1 L1615.3,571.0 L1616.6,564.8 L1616.9,564.4 L1618.2,562.8 L1618.2,562.8 L1619.9,559.8 L1621.0,561.2 L1621.1,561.0 L1622.7,554.1 L1622.8,554.0 L1624.4,556.5 L1624.6,555.8 L1625.6,559.9 L1626.1,563.4 L1626.9,563.5 L1628.2,567.0 L1629.2,566.3 L1630.1,562.8 L1631.0,560.9 L1631.7,567.0 L1632.3,570.8 L1633.5,564.9 L1634.7,564.3 L1635.0,565.9 L1636.4,564.7 L1637.0,567.0 L1637.8,566.9 L1639.0,567.6 L1639.2,566.7 L1640.7,562.6 L1642.0,565.6 L1642.1,565.2 L1642.9,557.4 L1643.5,553.4 L1644.4,551.6 L1644.7,554.0 L1645.6,559.2 L1646.3,560.2 L1646.9,559.5 L1647.7,563.6 L1648.4,567.8 L1649.4,567.0 L1651.0,566.9 L1651.1,566.9 L1652.3,567.7 L1653.7,562.9 L1653.9,563.0 L1655.4,565.1 L1656.1,563.3 L1656.5,562.2 L1658.4,562.1 L1659.0,563.5 L1659.7,571.0 L1660.3,574.6 L1661.5,572.8 L1662.7,575.1 L1663.0,574.2 L1664.1,571.8 L1665.4,575.1 L1665.8,574.4 L1667.1,572.7 L1668.6,577.4 L1669.4,578.4 L1669.9,577.4 L1671.6,570.3 L1672.2,570.5 L1673.2,573.0 L1674.6,570.5 L1674.9,571.2 L1676.0,574.5 L1677.6,573.3 L1677.7,573.3 L1679.3,576.6 L1680.4,577.4 L1680.9,576.9 L1682.7,578.7 L1682.8,578.6 L1683.5,569.8 L1684.5,567.8 L1686.0,567.4 L1687.1,571.4 L1687.7,570.1 L1688.6,577.2 L1688.8,577.0 L1689.9,580.8 L1691.2,580.1 L1691.4,580.2 L1692.6,580.2 L1693.8,582.1 L1694.1,582.7 L1695.5,583.9 L1695.9,582.6 L1697.3,581.7 L1698.9,582.2 L1699.6,584.6 L1700.5,586.9 L1702.3,582.6 L1703.7,585.8 L1704.2,584.4 L1705.0,577.6 L1705.1,577.0 L1706.7,581.2 L1707.8,581.6 L1708.0,581.6 L1709.4,585.5 L1710.6,584.2 L1711.2,581.2 L1712.8,579.9 L1712.9,580.0 L1714.3,576.6 L1715.4,578.6 L1716.1,576.5 L1716.6,574.1 L1717.0,574.2 L1718.1,578.0 L1719.7,576.9 L1720.0,576.4 L1721.7,579.7 L1722.5,578.1 L1723.3,582.3 L1724.3,591.1 L1724.9,591.4 L1726.7,586.3 L1727.0,586.6 L1728.0,588.7 L1729.3,588.0 L1729.8,588.7 L1731.0,591.3 L1732.5,591.0 L1732.7,590.8 L1734.5,589.7 L1735.8,589.2 L1736.2,589.7 L1737.6,590.7 L1738.4,588.8 L1739.4,594.2 L1739.5,594.9 L1740.7,597.9 L1741.9,593.0 L1742.6,594.8 L1743.3,596.9 L1745.1,593.0 L1745.3,593.3 L1746.7,592.7 L1748.1,586.8 L1748.3,586.4 L1749.8,590.9 L1750.8,588.4 L1751.0,588.0 L1752.6,590.2 L1752.7,590.5 L1754.4,590.8 L1754.8,592.5 L1755.9,588.2 L1756.3,585.5 L1757.7,574.0 L1758.1,572.4 L1759.3,574.7 L1760.5,571.8 L1760.9,572.5 L1761.9,578.3 L1763.2,580.2 L1763.7,581.4 L1764.5,586.8 L1765.0,589.4 L1766.7,591.1 L1766.9,592.2 L1768.0,593.2 L1769.1,588.3 L1769.2,588.2 L1770.6,588.1 L1772.3,592.4 L1772.8,591.7 L1773.5,590.4 L1775.3,593.2 L1775.5,592.9 L1776.8,589.2 L1778.4,590.3 L1779.2,588.7 L1779.7,589.1 L1781.2,594.1 L1781.5,594.3 L1782.8,589.5 L1784.3,588.0 L1784.6,586.5 L1786.1,583.1 L1787.4,584.9 L1787.6,585.5 L1789.4,585.9 L1790.1,586.8 L1791.0,586.6 L1792.2,590.4 L1792.9,590.3 L1793.7,591.7 L1795.3,592.4 L1795.6,593.4 L1797.0,593.0 L1798.0,589.9 L1798.7,587.2 L1800.1,586.8 L1800.2,586.4 L1801.6,583.0 L1802.9,584.0 L1803.4,584.0 L1805.1,582.2 L1805.7,580.1 L1806.6,577.7 L1807.9,578.2 L1808.4,579.2 L1809.3,580.4 L1810.9,575.6 L1811.2,575.6 L1812.1,570.5 L1812.3,570.7 L1813.5,571.7 L1814.8,575.9 L1814.9,576.0 L1816.7,569.9 L1817.6,570.1 L1818.2,571.8 L1820.0,569.5 L1820.3,570.4 L1821.5,571.8 L1822.9,566.4 L1823.1,566.5 L1824.4,568.1 L1825.6,563.9 L1825.8,563.7 L1827.2,562.1 L1828.4,564.6 L1828.5,564.1 L1830.2,561.9 L1831.7,565.5 L1832.2,565.2 L1833.1,565.0 L1834.7,565.8 L1834.9,565.9 L1836.0,565.2 L1837.1,567.3 L1837.5,562.8 L1838.2,549.4 L1839.1,547.7 L1840.4,551.6 L1840.4,551.6 L1842.1,553.3 L1842.3,553.9 L1844.0,560.5 L1844.1,560.6 L1845.3,557.6 L1845.9,557.0 L1847.1,557.5 L1848.3,555.5 L1849.6,557.6 L1850.0,558.6 L1851.3,556.6 L1852.6,555.9 L1853.2,558.0 L1854.0,561.1 L1855.8,559.8 L1856.0,560.4 L1857.4,562.2 L1858.7,558.2 L1858.9,556.8 L1860.0,547.7 L1860.4,547.4 L1860.5,547.4 L1861.8,545.8 L1863.1,546.6 L1863.2,546.6 L1864.9,545.0 L1864.9,544.9 L1866.3,540.4 L1868.0,539.8 L1868.1,540.4 L1869.1,549.0 L1869.7,547.1 L1871.3,550.1 L1871.3,549.9 L1872.6,547.3 L1874.1,549.0 L1874.3,549.0 L1875.8,550.9 L1877.1,551.1 L1877.7,549.4 L1878.9,539.8 L1879.0,539.5 L1880.2,541.5 L1881.4,538.6 L1881.9,540.1 L1883.2,547.5 L1883.3,547.7 L1885.1,548.3 L1886.0,552.0 L1886.3,552.6 L1887.8,547.3 L1888.7,548.0 L1889.6,550.1 L1890.5,550.5 L1891.4,554.9 L1891.8,557.0 L1892.6,555.6 L1894.2,556.5 L1894.2,556.6 L1895.5,552.8 L1897.0,556.8 L1898.8,555.3 L1898.8,555.3 L1900.5,554.3 L1901.7,555.6 L1902.4,554.9 L1903.3,554.0 L1904.7,557.7 L1905.9,555.1 L1906.1,555.3 L1907.6,557.4 L1909.4,555.6 L1909.5,555.8 L1911.2,561.1 L1911.4,561.9 L1912.5,566.3 L1913.0,567.1 L1914.8,568.0 L1915.2,569.4 L1916.6,571.2 L1917.7,568.0 L1918.5,570.0 L1919.3,571.6 L1920.9,567.8 L1921.1,568.1 L1922.6,576.6 L1922.9,577.7 L1923.9,576.3 L1925.3,571.8 L1925.8,572.4 L1927.1,577.9 L1927.6,578.7 L1929.1,578.6 L1930.2,578.5 L1930.6,571.8 L1931.7,559.2 L1932.0,559.4 L1933.3,552.4 L1934.4,552.3 L1934.9,553.0 L1936.2,548.6 L1936.8,549.4 L1937.5,539.1 L1937.9,540.6 L1939.7,544.0 L1939.9,543.7 L1941.0,538.5 L1942.5,539.8 L1942.7,539.2 L1943.9,536.9 L1945.3,537.7 L1945.4,537.8 L1946.6,539.6 L1948.1,536.7 L1948.1,536.9 L1949.6,539.2 L1951.1,534.2 L1951.8,535.1 L1952.9,536.7 L1954.4,532.4 L1954.5,532.6 L1955.5,529.1 L1956.0,529.8 L1957.7,524.8 L1957.8,524.5 L1959.5,529.7 L1961.0,526.8 L1961.2,526.4 L1963.0,529.7 L1963.7,530.1 L1964.9,531.7 L1965.5,532.3 L1966.3,534.1 L1967.4,539.0 L1968.0,540.4 L1969.7,537.2 L1970.1,538.1 L1971.5,541.8 L1972.3,541.6 L1973.0,538.8 L1973.8,538.2 L1974.2,540.8 L1975.6,542.4 L1975.9,544.3 L1977.1,548.7 L1978.3,549.7 L1978.7,545.9 L1979.6,536.1 L1980.2,532.9 L1981.4,530.9 L1981.9,531.7 L1983.2,531.3 L1984.7,529.3 L1985.0,528.9 L1986.2,530.4 L1987.5,529.4 L1988.0,529.1 L1989.9,524.9 L1990.2,525.9 L1991.1,530.8 L1992.0,529.6 L1992.5,528.4 L1994.2,532.6 L1994.8,531.5 L1995.5,531.4 L1997.0,537.1 L1997.2,537.0 L1998.4,532.3 L1999.4,533.7 L1999.6,534.2 L2001.0,532.9 L2001.2,532.2 L2002.3,531.4 L2003.0,532.4 L2003.5,532.4 L2004.8,530.9 L2005.8,534.4 L2006.1,535.7 L2007.3,532.9 L2008.1,534.7 L2008.9,518.7 L2008.9,518.2 L2010.1,513.9 L2011.2,513.0 L2011.2,513.1 L2012.8,515.6 L2014.0,510.4 L2014.0,510.4 L2015.2,512.9 L2016.2,511.9 L2016.8,515.3 L2017.6,522.5 L2018.1,525.6 L2019.1,530.8 L2019.9,531.5 L2020.9,530.8 L2021.7,520.9 L2022.0,517.9 L2023.0,525.0 L2023.5,527.9 L2024.8,527.4 L2025.9,529.2 L2026.5,524.2 L2027.2,515.7 L2028.1,513.2 L2029.9,512.0 L2030.5,512.6 L2031.8,504.8 L2031.9,503.5 L2033.1,500.7 L2033.7,503.0 L2034.2,514.8 L2034.5,520.3 L2035.3,520.8 L2036.3,523.4 L2036.9,525.2 L2038.5,534.0 L2038.7,534.3 L2040.3,529.5 L2041.4,531.6 L2041.5,531.7 L2043.0,526.0 L2044.7,527.8 L2044.7,527.8 L2046.0,527.4 L2046.9,526.3 L2047.4,526.0 L2049.1,529.0 L2049.2,529.1 L2050.8,531.9 L2051.5,534.9 L2052.1,536.3 L2053.4,532.6 L2053.9,532.3 L2054.7,527.9 L2055.7,525.2 L2056.5,527.4 L2057.9,524.1 L2058.1,523.9 L2060.0,527.1 L2060.6,530.8 L2061.1,531.2 L2062.9,523.0 L2063.0,522.6 L2064.4,524.1 L2065.2,526.1 L2066.2,526.5 L2067.4,523.6 L2067.9,522.9 L2069.6,523.3 L2069.8,523.3 L2071.1,518.5 L2071.2,518.5 L2072.8,521.9 L2073.4,521.3 L2074.6,516.1 L2075.8,514.6 L2076.4,515.4 L2077.5,515.6 L2078.9,511.7 L2079.1,511.3 L2080.5,513.4 L2081.3,512.3 L2082.0,496.6 L2082.1,496.4 L2083.4,498.4 L2084.4,495.4 L2084.9,494.0 L2086.4,496.4 L2087.5,493.4 L2088.1,493.1 L2089.5,499.3 L2089.9,499.0 L2090.8,504.2 L2091.1,504.0 L2092.6,510.2 L2093.0,510.4 L2093.8,511.3 L2094.8,512.1 L2095.6,511.3 L2096.8,514.9 L2097.2,514.5 L2098.0,515.0 L2099.0,519.4 L2099.7,521.0 L2101.5,523.3 L2102.1,523.1" stroke="#f05050" stroke-width="1.6"/>
<path d="M16.1,501.4 L18.6,501.4 L18.6,500.0 L21.0,500.0 L21.0,498.6 L21.9,498.6 L21.9,485.8 L23.8,485.8 L23.8,473.0 L24.7,473.0 L24.7,452.0 L26.5,452.0 L26.5,451.6 L28.3,451.6 L28.3,451.1 L29.3,451.1 L29.3,440.1 L32.0,440.1 L32.0,436.5 L34.3,436.5 L34.3,436.6 L36.6,436.6 L36.6,436.8 L37.5,436.8 L37.5,463.9 L39.3,463.9 L39.3,465.7 L39.9,465.7 L39.9,495.9 L41.9,495.9 L41.9,496.4 L43.9,496.4 L43.9,496.8 L45.4,496.8 L45.4,479.4 L46.1,479.4 L46.1,500.5 L49.0,500.5 L49.0,501.4 L51.9,501.4 L51.9,502.3 L54.9,502.3 L54.9,503.2 L56.7,503.2 L56.7,509.6 L58.2,509.6 L58.2,493.2 L59.4,493.2 L59.4,483.1 L61.3,483.1 L61.3,483.1 L63.1,483.1 L63.1,483.1 L64.9,483.1 L64.9,493.2 L66.8,493.2 L66.8,495.0 L68.6,495.0 L68.6,496.8 L69.5,496.8 L69.5,475.8 L71.3,475.8 L71.3,474.0 L73.2,474.0 L73.2,472.1 L75.9,472.1 L75.9,472.1 L78.6,472.1 L78.6,472.1 L80.5,472.1 L80.5,477.6 L81.4,477.6 L81.4,473.0 L83.2,473.0 L83.2,478.5 L85.0,478.5 L85.0,471.2 L86.9,471.2 L86.9,476.7 L88.7,476.7 L88.7,477.4 L90.5,477.4 L90.5,478.2 L92.4,478.2 L92.4,476.5 L94.2,476.5 L94.2,474.9 L95.1,474.9 L95.1,452.0 L97.9,452.0 L97.9,453.8 L100.3,453.8 L100.3,454.1 L102.7,454.1 L102.7,454.4 L105.2,454.4 L105.2,454.8 L106.1,454.8 L106.1,437.4 L107.9,437.4 L107.9,436.5 L109.7,436.5 L109.7,435.5 L110.3,435.5 L110.3,430.2 L110.3,430.0 L110.3,424.5 L112.5,424.5 L112.5,417.2 L114.3,417.2 L114.3,412.6 L116.1,412.6 L116.1,412.1 L118.0,412.1 L118.0,411.7 L119.3,411.7 L119.3,406.2 L121.6,406.2 L121.6,419.9 L122.9,419.9 L122.9,413.5 L125.3,413.5 L125.3,408.0 L126.2,408.0 L126.2,391.6 L128.9,391.6 L128.9,389.7 L131.1,389.7 L131.1,389.7 L133.2,389.7 L133.2,389.7 L135.3,389.7 L135.3,389.7 L138.1,389.7 L138.1,392.5 L140.2,392.5 L140.2,393.1 L142.4,393.1 L142.4,393.7 L144.5,393.7 L144.5,394.3 L146.3,394.3 L146.3,386.1 L148.5,386.1 L148.5,371.4 L149.6,371.4 L149.6,351.7 L152.5,351.7 L152.5,351.3 L155.5,351.3 L155.5,351.0 L156.9,351.0 L156.9,355.0 L158.9,355.0 L158.9,355.4 L161.0,355.4 L161.0,355.9 L162.8,355.9 L162.8,359.0 L165.5,359.0 L165.5,359.0 L166.4,359.0 L166.4,346.8 L168.7,346.8 L168.7,346.3 L171.0,346.3 L171.0,345.8 L171.9,345.8 L171.9,342.6 L173.6,342.6 L173.6,342.8 L175.2,342.8 L175.2,343.1 L175.9,343.1 L175.9,366.0 L177.0,366.0 L177.0,348.0 L178.6,348.0 L178.6,349.7 L180.2,349.7 L180.2,351.3 L182.4,351.3 L182.4,352.7 L184.7,352.7 L184.7,354.1 L186.2,354.1 L186.2,355.9 L187.5,355.9 L187.5,349.5 L189.5,349.5 L189.5,349.4 L191.5,349.4 L191.5,349.3 L193.5,349.3 L193.5,349.1 L194.8,349.1 L194.8,359.0 L197.8,359.0 L197.8,359.1 L200.7,359.1 L200.7,359.3 L203.7,359.3 L203.7,359.4 L206.7,359.4 L206.7,359.6 L208.1,359.6 L208.1,360.8 L210.2,360.8 L210.2,359.7 L212.2,359.7 L212.2,358.6 L214.0,358.6 L214.0,355.9 L216.3,355.9 L216.3,354.5 L218.6,354.5 L218.6,353.2 L219.5,353.2 L219.5,340.4 L221.6,340.4 L221.6,339.9 L223.7,339.9 L223.7,339.4 L225.9,339.4 L225.9,338.9 L226.8,338.9 L226.8,318.4 L229.1,318.4 L229.1,318.2 L231.4,318.2 L231.4,318.0 L231.9,318.0 L231.9,306.5 L233.2,306.5 L233.2,313.8 L235.5,313.8 L235.5,314.1 L237.8,314.1 L237.8,314.3 L240.1,314.3 L240.1,314.5 L242.3,314.5 L242.3,314.8 L245.1,314.8 L245.1,319.3 L246.9,319.3 L246.9,321.2 L247.8,321.2 L247.8,296.5 L250.6,296.5 L250.6,294.8 L253.3,294.8 L253.3,293.2 L255.7,293.2 L255.7,296.5 L256.4,296.5 L256.4,304.7 L258.3,304.7 L258.3,311.1 L258.8,311.1 L258.8,305.6 L259.7,305.6 L259.7,316.6 L262.6,316.6 L262.6,317.0 L265.6,317.0 L265.6,317.5 L266.1,317.5 L266.1,333.0 L268.4,333.0 L268.4,332.1 L270.7,332.1 L270.7,331.2 L272.5,331.2 L272.5,327.9 L273.4,327.9 L273.4,351.3 L275.7,351.3 L275.7,351.5 L278.0,351.5 L278.0,351.7 L278.9,351.7 L278.9,342.2 L280.7,342.2 L280.7,342.2 L281.7,342.2 L281.7,371.4 L284.4,371.4 L284.4,369.6 L285.3,369.6 L285.3,360.5 L287.6,360.5 L287.6,360.9 L289.9,360.9 L289.9,361.4 L290.8,361.4 L290.8,366.0 L293.6,366.0 L293.6,369.6 L296.4,369.6 L296.4,369.6 L299.3,369.6 L299.3,369.6 L302.2,369.6 L302.2,369.6 L305.1,369.6 L305.1,369.6 L305.8,369.6 L305.8,349.5 L307.6,349.5 L307.6,349.5 L309.5,349.5 L309.5,349.5 L310.4,349.5 L310.4,371.4 L312.8,371.4 L312.8,376.9 L315.0,376.9 L315.0,379.7 L317.3,379.7 L317.3,382.4 L319.2,382.4 L319.2,391.6 L320.4,391.6 L320.4,386.1 L322.5,386.1 L322.5,385.2 L324.6,385.2 L324.6,384.3 L327.4,384.3 L327.4,378.8 L329.2,378.8 L329.2,380.6 L331.0,380.6 L331.0,382.4 L332.9,382.4 L332.9,386.1 L334.7,386.1 L334.7,389.7 L337.4,389.7 L337.4,389.3 L340.2,389.3 L340.2,388.8 L342.0,388.8 L342.0,382.4 L343.9,382.4 L343.9,367.8 L345.7,367.8 L345.7,366.9 L347.5,366.9 L347.5,366.0 L349.6,366.0 L349.6,364.1 L351.8,364.1 L351.8,362.3 L353.9,362.3 L353.9,360.5 L354.8,360.5 L354.8,345.8 L357.1,345.8 L357.1,344.5 L359.4,344.5 L359.4,343.1 L361.2,343.1 L361.2,338.5 L363.5,338.5 L363.5,338.5 L365.8,338.5 L365.8,338.5 L367.6,338.5 L367.6,340.4 L369.5,340.4 L369.5,342.2 L371.3,342.2 L371.3,341.7 L373.1,341.7 L373.1,341.3 L375.2,341.3 L375.2,332.7 L377.4,332.7 L377.4,324.2 L379.5,324.2 L379.5,315.7 L380.8,315.7 L380.8,323.9 L382.3,323.9 L382.3,344.9 L384.7,344.9 L384.7,343.7 L387.1,343.7 L387.1,342.5 L389.6,342.5 L389.6,341.3 L391.7,341.3 L391.7,341.9 L393.8,341.9 L393.8,342.5 L396.0,342.5 L396.0,343.1 L397.8,343.1 L397.8,367.8 L400.0,367.8 L400.0,387.9 L400.0,379.8 L400.1,396.6 L402.8,396.6 L402.8,411.2 L405.5,411.2 L405.5,413.0 L406.8,413.0 L406.8,394.8 L409.2,394.8 L409.2,398.0 L411.9,398.0 L411.9,394.4 L414.7,394.4 L414.7,409.0 L417.4,409.0 L417.4,433.2 L419.8,433.2 L419.8,407.6 L422.0,407.6 L422.0,403.9 L423.8,403.9 L423.8,387.1 L426.6,387.1 L426.6,390.7 L429.3,390.7 L429.3,387.1 L431.2,387.1 L431.2,392.6 L433.0,392.6 L433.0,398.0 L434.8,398.0 L434.8,399.9 L436.6,399.9 L436.6,401.7 L438.5,401.7 L438.5,372.4 L441.2,372.4 L441.2,363.3 L443.5,363.3 L443.5,362.4 L445.8,362.4 L445.8,361.5 L448.5,361.5 L448.5,355.1 L451.3,355.1 L451.3,368.8 L453.1,368.8 L453.1,357.8 L454.9,357.8 L454.9,356.0 L456.8,356.0 L456.8,354.1 L458.0,354.1 L458.0,331.3 L460.1,331.3 L460.1,331.3 L462.2,331.3 L462.2,331.3 L464.1,331.3 L464.1,348.7 L466.8,348.7 L466.8,357.8 L469.6,357.8 L469.6,367.0 L472.3,367.0 L472.3,377.9 L474.1,377.9 L474.1,354.1 L476.9,354.1 L476.9,359.6 L478.7,359.6 L478.7,362.4 L480.5,362.4 L480.5,365.1 L483.3,365.1 L483.3,376.1 L485.1,376.1 L485.1,383.4 L486.9,383.4 L486.9,403.5 L489.2,403.5 L489.2,402.2 L491.5,402.2 L491.5,400.8 L493.8,400.8 L493.8,400.3 L496.1,400.3 L496.1,399.9 L497.0,399.9 L497.0,420.4 L498.8,420.4 L498.8,447.8 L500.7,447.8 L500.7,469.7 L502.5,469.7 L502.5,467.9 L504.3,467.9 L504.3,466.1 L507.1,466.1 L507.1,455.1 L509.8,455.1 L509.8,444.1 L512.1,444.1 L512.1,445.0 L514.4,445.0 L514.4,446.0 L515.8,446.0 L515.8,427.7 L517.4,427.7 L517.4,425.8 L518.9,425.8 L518.9,424.0 L519.9,424.0 L519.9,416.7 L522.1,416.7 L522.1,414.9 L524.4,414.9 L524.4,413.0 L526.7,413.0 L526.7,413.5 L529.0,413.5 L529.0,414.0 L530.8,414.0 L530.8,395.7 L532.9,395.7 L532.9,392.5 L535.0,392.5 L535.0,389.3 L536.3,389.3 L536.3,397.5 L538.1,397.5 L538.1,398.4 L540.0,398.4 L540.0,399.3 L541.8,399.3 L541.8,423.1 L544.5,423.1 L544.5,422.2 L545.5,422.2 L545.5,414.9 L546.9,414.9 L546.9,372.4 L549.4,372.4 L549.4,371.1 L551.9,371.1 L551.9,369.7 L552.8,369.7 L552.8,363.3 L555.5,363.3 L555.5,362.8 L558.3,362.8 L558.3,362.4 L559.2,362.4 L559.2,339.5 L561.0,339.5 L561.0,339.5 L562.8,339.5 L562.8,339.5 L563.8,339.5 L563.8,345.0 L566.5,345.0 L566.5,343.2 L567.4,343.2 L567.4,318.5 L569.2,318.5 L569.2,318.9 L571.1,318.9 L571.1,319.4 L572.9,319.4 L572.9,313.9 L575.6,313.9 L575.6,313.5 L578.4,313.5 L578.4,313.0 L581.1,313.0 L581.1,321.2 L582.0,321.2 L582.0,300.2 L584.8,300.2 L584.8,297.4 L586.6,297.4 L586.6,288.3 L588.4,288.3 L588.4,278.2 L591.2,278.2 L591.2,277.3 L593.0,277.3 L593.0,270.0 L594.0,270.0 L594.0,258.5 L596.7,258.5 L596.7,251.2 L598.5,251.2 L598.5,249.4 L600.4,249.4 L600.4,247.6 L603.1,247.6 L603.1,254.9 L605.8,254.9 L605.8,251.2 L607.5,251.2 L607.5,241.0 L609.1,241.0 L609.1,230.7 L610.4,230.7 L610.4,260.4 L612.2,260.4 L612.2,256.7 L614.1,256.7 L614.1,233.8 L616.2,233.8 L616.2,233.2 L618.3,233.2 L618.3,232.6 L620.5,232.6 L620.5,232.0 L623.2,232.0 L623.2,227.1 L625.0,227.1 L625.0,221.6 L627.8,221.6 L627.8,219.8 L630.5,219.8 L630.5,224.3 L632.8,224.3 L632.8,224.3 L635.1,224.3 L635.1,224.3 L637.4,224.3 L637.4,225.7 L639.7,225.7 L639.7,227.1 L641.5,227.1 L641.5,228.4 L643.3,228.4 L643.3,229.8 L646.1,229.8 L646.1,224.3 L648.4,224.3 L648.4,224.3 L650.7,224.3 L650.7,224.3 L652.5,224.3 L652.5,238.0 L653.4,238.0 L653.4,252.7 L655.6,252.7 L655.6,253.6 L656.1,253.6 L656.1,234.4 L658.0,234.4 L658.0,235.3 L658.9,235.3 L658.9,258.2 L661.6,258.2 L661.6,259.1 L662.9,259.1 L662.9,245.4 L664.4,245.4 L664.4,235.3 L666.7,235.3 L666.7,233.5 L668.9,233.5 L668.9,231.6 L670.2,231.6 L670.2,219.8 L672.6,219.8 L672.6,223.4 L675.3,223.4 L675.3,223.4 L678.1,223.4 L678.1,223.4 L680.8,223.4 L680.8,223.4 L682.7,223.4 L682.7,218.8 L684.1,218.8 L684.1,234.4 L686.3,234.4 L686.3,228.9 L688.5,228.9 L688.5,221.6 L691.1,221.6 L691.1,221.1 L693.6,221.1 L693.6,220.7 L695.5,220.7 L695.5,216.1 L697.7,216.1 L697.7,215.2 L698.8,215.2 L698.8,193.2 L701.0,193.2 L701.0,189.6 L703.7,189.6 L703.7,188.7 L704.6,188.7 L704.6,182.3 L706.4,182.3 L706.4,194.1 L707.4,194.1 L707.4,166.7 L710.1,166.7 L710.1,164.0 L712.8,164.0 L712.8,159.4 L713.8,159.4 L713.8,142.0 L716.2,142.0 L716.2,142.3 L718.6,142.3 L718.6,142.6 L721.1,142.6 L721.1,142.9 L723.8,142.9 L723.8,147.5 L725.6,147.5 L725.6,145.7 L727.5,145.7 L727.5,122.8 L729.3,122.8 L729.3,122.5 L730.2,122.5 L730.2,136.5 L732.0,136.5 L732.0,136.5 L733.0,136.5 L733.0,122.8 L734.8,122.8 L734.8,122.8 L735.7,122.8 L735.7,144.8 L738.4,144.8 L738.4,148.4 L739.4,148.4 L739.4,156.7 L742.1,156.7 L742.1,157.6 L743.0,157.6 L743.0,175.9 L745.8,175.9 L745.8,177.7 L747.6,177.7 L747.6,194.1 L749.4,194.1 L749.4,195.5 L751.2,195.5 L751.2,196.9 L753.1,196.9 L753.1,207.0 L754.0,207.0 L754.0,228.9 L755.8,228.9 L755.8,230.7 L756.7,230.7 L756.7,254.9 L759.5,254.9 L759.5,258.5 L762.2,258.5 L762.2,262.2 L765.0,262.2 L765.0,262.8 L767.7,262.8 L767.7,263.4 L770.5,263.4 L770.5,264.0 L772.3,264.0 L772.3,264.9 L774.1,264.9 L774.1,265.8 L776.9,265.8 L776.9,265.2 L779.6,265.2 L779.6,264.5 L782.3,264.5 L782.3,263.8 L785.1,263.8 L785.1,263.1 L787.8,263.1 L787.8,264.0 L788.7,264.0 L788.7,286.0 L791.5,286.0 L791.5,298.8 L793.3,298.8 L793.3,320.7 L796.1,320.7 L796.1,321.6 L797.9,321.6 L797.9,344.5 L799.4,344.5 L799.4,343.9 L801.2,343.9 L801.2,346.7 L803.0,346.7 L803.0,349.4 L805.8,349.4 L805.8,358.6 L808.5,358.6 L808.5,361.3 L810.3,361.3 L810.3,363.1 L812.2,363.1 L812.2,365.0 L814.0,365.0 L814.0,365.4 L815.8,365.4 L815.8,365.9 L816.7,365.9 L816.7,356.7 L819.0,356.7 L819.0,355.8 L821.3,355.8 L821.3,354.9 L824.0,354.9 L824.0,344.9 L825.9,344.9 L825.9,341.7 L827.7,341.7 L827.7,338.5 L829.5,338.5 L829.5,338.0 L831.4,338.0 L831.4,337.5 L832.3,337.5 L832.3,332.1 L833.6,332.1 L833.6,311.0 L835.9,311.0 L835.9,307.4 L838.4,307.4 L838.4,307.4 L840.8,307.4 L840.8,307.4 L843.2,307.4 L843.2,307.4 L844.2,307.4 L844.2,329.3 L846.7,329.3 L846.7,328.9 L849.2,328.9 L849.2,328.4 L851.7,328.4 L851.7,327.9 L854.2,327.9 L854.2,327.5 L855.1,327.5 L855.1,319.3 L857.0,319.3 L857.0,318.8 L858.8,318.8 L858.8,318.3 L859.7,318.3 L859.7,313.8 L861.0,313.8 L861.0,309.2 L862.8,309.2 L862.8,283.2 L865.1,283.2 L865.1,282.8 L867.4,282.8 L867.4,282.3 L870.1,282.3 L870.1,282.3 L872.9,282.3 L872.9,282.3 L875.6,282.3 L875.6,276.8 L877.4,276.8 L877.4,276.4 L879.3,276.4 L879.3,275.9 L880.2,275.9 L880.2,264.0 L882.0,264.0 L882.0,264.5 L883.9,264.5 L883.9,264.9 L886.1,264.9 L886.1,264.5 L888.4,264.5 L888.4,264.0 L889.3,264.0 L889.3,249.4 L892.1,249.4 L892.1,248.9 L894.8,248.9 L894.8,248.5 L896.7,248.5 L896.7,255.4 L898.8,255.4 L898.8,254.8 L900.9,254.8 L900.9,254.2 L903.1,254.2 L903.1,253.6 L904.9,253.6 L904.9,239.9 L907.6,239.9 L907.6,236.2 L908.5,236.2 L908.5,219.8 L910.4,219.8 L910.4,214.3 L911.3,214.3 L911.3,185.0 L913.8,185.0 L913.8,184.8 L916.4,184.8 L916.4,184.6 L919.0,184.6 L919.0,184.5 L921.5,184.5 L921.5,184.3 L924.1,184.3 L924.1,184.1 L926.8,184.1 L926.8,184.5 L929.6,184.5 L929.6,185.0 L931.4,185.0 L931.4,192.3 L933.2,192.3 L933.2,191.4 L935.1,191.4 L935.1,190.5 L937.8,190.5 L937.8,186.8 L940.0,186.8 L940.0,190.5 L940.1,189.7 L941.9,189.7 L941.9,187.5 L943.7,187.5 L943.7,185.2 L945.5,185.2 L945.5,179.7 L948.3,179.7 L948.3,176.9 L950.1,176.9 L950.1,176.5 L951.9,176.5 L951.9,176.0 L953.8,176.0 L953.8,171.0 L955.6,171.0 L955.6,166.0 L957.9,166.0 L957.9,165.5 L960.2,165.5 L960.2,165.0 L962.0,165.0 L962.0,169.6 L964.8,169.6 L964.8,175.1 L967.0,175.1 L967.0,175.6 L969.3,175.6 L969.3,176.0 L971.8,176.0 L971.8,177.2 L974.2,177.2 L974.2,178.5 L976.6,178.5 L976.6,179.7 L978.5,179.7 L978.5,175.1 L980.8,175.1 L980.8,174.7 L983.0,174.7 L983.0,174.2 L984.9,174.2 L984.9,156.8 L987.6,156.8 L987.6,153.2 L988.2,153.2 L988.2,138.5 L990.7,138.5 L990.7,138.2 L991.8,138.2 L991.8,159.6 L993.8,159.6 L993.8,159.6 L995.8,159.6 L995.8,159.6 L998.6,159.6 L998.6,156.8 L999.5,156.8 L999.5,143.1 L1002.2,143.1 L1002.2,142.2 L1003.2,142.2 L1003.2,134.5 L1005.9,134.5 L1005.9,137.1 L1008.9,137.1 L1008.9,137.3 L1011.8,137.3 L1011.8,137.6 L1014.8,137.6 L1014.8,137.9 L1017.8,137.9 L1017.8,138.2 L1019.6,138.2 L1019.6,138.5 L1021.4,138.5 L1021.4,138.9 L1022.4,138.9 L1022.4,160.5 L1025.1,160.5 L1025.1,162.3 L1026.0,162.3 L1026.0,168.7 L1027.9,168.7 L1027.9,149.5 L1029.7,149.5 L1029.7,139.4 L1031.5,139.4 L1031.5,124.8 L1033.3,124.8 L1033.3,126.2 L1035.2,126.2 L1035.2,127.6 L1037.5,127.6 L1037.5,127.5 L1039.7,127.5 L1039.7,127.4 L1042.0,127.4 L1042.0,127.3 L1044.3,127.3 L1044.3,127.2 L1045.2,127.2 L1045.2,130.3 L1048.0,130.3 L1048.0,127.6 L1049.8,127.6 L1049.8,123.0 L1051.6,123.0 L1051.6,121.6 L1053.5,121.6 L1053.5,120.2 L1054.4,120.2 L1054.4,109.3 L1057.1,109.3 L1057.1,108.3 L1059.9,108.3 L1059.9,108.0 L1062.6,108.0 L1062.6,107.7 L1065.3,107.7 L1065.3,107.4 L1067.5,107.4 L1067.5,106.8 L1069.6,106.8 L1069.6,106.2 L1071.7,106.2 L1071.7,105.6 L1072.7,105.6 L1072.7,100.1 L1074.5,100.1 L1074.5,103.8 L1076.3,103.8 L1076.3,107.4 L1077.2,107.4 L1077.2,101.6 L1078.8,101.6 L1078.8,101.6 L1080.3,101.6 L1080.3,101.6 L1081.4,101.6 L1081.4,111.1 L1083.6,111.1 L1083.6,115.1 L1085.5,115.1 L1085.5,114.8 L1086.4,114.8 L1086.4,106.5 L1088.8,106.5 L1088.8,106.5 L1089.5,106.5 L1089.5,113.8 L1091.0,113.8 L1091.0,113.8 L1091.3,90.1 L1093.1,90.1 L1093.1,90.6 L1093.7,90.6 L1093.7,113.8 L1095.5,113.8 L1095.5,114.8 L1096.4,114.8 L1096.4,138.2 L1097.4,138.2 L1097.4,126.6 L1099.2,126.6 L1099.2,126.6 L1101.0,126.6 L1101.0,126.6 L1102.8,126.6 L1102.8,129.4 L1104.7,129.4 L1104.7,132.1 L1105.6,132.1 L1105.6,154.1 L1106.5,154.1 L1106.5,144.9 L1108.6,144.9 L1108.6,144.6 L1110.8,144.6 L1110.8,144.3 L1112.9,144.3 L1112.9,144.0 L1113.8,144.0 L1113.8,139.4 L1115.6,139.4 L1115.6,139.4 L1117.5,139.4 L1117.5,139.4 L1119.3,139.4 L1119.3,147.7 L1121.1,147.7 L1121.1,146.8 L1123.9,146.8 L1123.9,159.6 L1125.7,159.6 L1125.7,154.1 L1128.4,154.1 L1128.4,158.6 L1130.8,158.6 L1130.8,166.9 L1132.4,166.9 L1132.4,165.0 L1133.9,165.0 L1133.9,163.2 L1134.8,163.2 L1134.8,136.7 L1136.7,136.7 L1136.7,133.0 L1138.5,133.0 L1138.5,133.8 L1140.3,133.8 L1140.3,134.5 L1141.2,134.5 L1141.2,141.3 L1144.0,141.3 L1144.0,140.8 L1146.7,140.8 L1146.7,140.4 L1147.6,140.4 L1147.6,125.7 L1149.1,125.7 L1149.1,125.7 L1149.5,148.6 L1151.6,148.6 L1151.6,148.3 L1153.7,148.3 L1153.7,148.0 L1155.9,148.0 L1155.9,147.7 L1157.7,147.7 L1157.7,144.0 L1160.0,144.0 L1160.0,144.2 L1162.3,144.2 L1162.3,144.4 L1164.1,144.4 L1164.1,151.0 L1166.9,151.0 L1166.9,150.7 L1169.6,150.7 L1169.6,150.4 L1172.3,150.4 L1172.3,153.2 L1175.1,153.2 L1175.1,161.4 L1177.4,161.4 L1177.4,160.9 L1179.7,160.9 L1179.7,160.5 L1180.2,160.5 L1180.2,135.8 L1182.4,135.8 L1182.4,142.2 L1184.7,142.2 L1184.7,142.4 L1187.0,142.4 L1187.0,142.6 L1189.3,142.6 L1189.3,142.9 L1191.5,142.9 L1191.5,143.1 L1193.4,143.1 L1193.4,135.8 L1194.8,135.8 L1194.8,136.7 L1196.1,136.7 L1196.1,144.9 L1198.9,144.9 L1198.9,155.0 L1200.7,155.0 L1200.7,145.8 L1203.4,145.8 L1203.4,150.4 L1206.2,150.4 L1206.2,150.4 L1208.9,150.4 L1208.9,150.4 L1211.7,150.4 L1211.7,150.4 L1214.4,150.4 L1214.4,150.4 L1215.3,150.4 L1215.3,176.9 L1218.1,176.9 L1218.1,171.4 L1219.0,171.4 L1219.0,152.2 L1221.7,152.2 L1221.7,145.8 L1224.5,145.8 L1224.5,144.7 L1227.2,144.7 L1227.2,143.6 L1230.0,143.6 L1230.0,145.8 L1231.8,145.8 L1231.8,178.8 L1233.6,178.8 L1233.6,145.8 L1234.5,145.8 L1234.5,160.5 L1236.4,160.5 L1236.4,160.5 L1238.2,160.5 L1238.2,160.5 L1239.1,160.5 L1239.1,170.5 L1241.8,170.5 L1241.8,170.5 L1243.1,170.5 L1243.1,158.6 L1244.8,158.6 L1244.8,158.2 L1246.4,158.2 L1246.4,157.7 L1247.0,157.7 L1247.0,175.1 L1248.2,175.1 L1248.2,152.2 L1249.7,152.2 L1249.7,144.0 L1252.2,144.0 L1252.2,144.9 L1254.6,144.9 L1254.6,145.8 L1256.8,145.8 L1256.8,146.1 L1258.9,146.1 L1258.9,146.5 L1261.0,146.5 L1261.0,146.8 L1262.0,146.8 L1262.0,144.0 L1263.8,144.0 L1263.8,145.8 L1265.6,145.8 L1265.6,147.7 L1266.5,147.7 L1266.5,163.2 L1268.4,163.2 L1268.4,172.4 L1269.8,172.4 L1269.8,143.1 L1272.0,143.1 L1272.0,138.5 L1272.9,138.5 L1272.9,132.1 L1273.9,132.1 L1273.9,136.7 L1275.3,136.7 L1275.3,118.4 L1277.5,118.4 L1277.5,116.6 L1280.3,116.6 L1280.3,117.1 L1283.0,117.1 L1283.0,117.6 L1285.7,117.6 L1285.7,118.0 L1288.5,118.0 L1288.5,117.8 L1291.2,117.8 L1291.2,117.5 L1292.1,117.5 L1292.1,113.3 L1294.9,113.3 L1294.9,113.3 L1295.8,113.3 L1295.8,137.6 L1297.6,137.6 L1297.6,136.2 L1299.5,136.2 L1299.5,134.9 L1300.4,134.9 L1300.4,118.4 L1301.3,118.4 L1301.3,123.9 L1303.6,123.9 L1303.6,124.4 L1305.9,124.4 L1305.9,124.8 L1306.8,124.8 L1306.8,101.6 L1308.6,101.6 L1308.6,109.3 L1310.7,109.3 L1310.7,110.2 L1312.9,110.2 L1312.9,111.1 L1315.0,111.1 L1315.0,112.0 L1316.8,112.0 L1316.8,118.0 L1319.1,118.0 L1319.1,118.0 L1321.4,118.0 L1321.4,118.0 L1323.2,118.0 L1323.2,115.1 L1325.5,115.1 L1325.5,115.0 L1327.7,115.0 L1327.7,114.9 L1330.0,114.9 L1330.0,114.8 L1330.1,115.7 L1331.9,115.7 L1331.9,115.7 L1333.7,115.7 L1333.7,115.7 L1335.5,115.7 L1335.5,113.8 L1338.3,113.8 L1338.3,113.8 L1341.0,113.8 L1341.0,113.8 L1343.8,113.8 L1343.8,113.8 L1344.7,113.8 L1344.7,109.3 L1346.5,109.3 L1346.5,112.0 L1347.4,112.0 L1347.4,123.9 L1350.2,123.9 L1350.2,123.9 L1352.9,123.9 L1352.9,123.9 L1355.7,123.9 L1355.7,123.9 L1357.5,123.9 L1357.5,122.4 L1359.3,122.4 L1359.3,127.6 L1361.2,127.6 L1361.2,127.1 L1363.0,127.1 L1363.0,126.6 L1363.5,126.6 L1363.5,158.6 L1364.8,158.6 L1364.8,157.7 L1365.7,157.7 L1365.7,134.5 L1367.9,134.5 L1367.9,134.9 L1368.5,134.9 L1368.5,139.4 L1371.2,139.4 L1371.2,142.2 L1372.1,142.2 L1372.1,145.5 L1373.7,145.5 L1373.7,145.7 L1375.2,145.7 L1375.2,145.8 L1376.3,145.8 L1376.3,158.6 L1377.1,158.6 L1377.1,184.3 L1378.9,184.3 L1378.9,182.4 L1379.4,182.4 L1379.4,158.6 L1380.7,158.6 L1380.7,169.6 L1382.2,169.6 L1382.2,155.9 L1384.0,155.9 L1384.0,155.0 L1386.8,155.0 L1386.8,160.5 L1387.7,160.5 L1387.7,144.0 L1390.4,144.0 L1390.4,142.2 L1393.2,142.2 L1393.2,140.4 L1394.6,140.4 L1394.6,140.7 L1395.0,155.9 L1396.5,155.9 L1396.5,155.9 L1397.2,155.9 L1397.2,144.9 L1399.7,144.9 L1399.7,144.0 L1402.3,144.0 L1402.3,143.1 L1403.2,143.1 L1403.2,139.4 L1404.8,139.4 L1404.8,139.7 L1406.3,139.7 L1406.3,140.0 L1406.9,140.0 L1406.9,172.4 L1408.2,172.4 L1408.2,172.4 L1408.7,172.4 L1408.7,155.9 L1410.5,155.9 L1410.5,155.4 L1412.4,155.4 L1412.4,155.0 L1413.6,155.0 L1413.6,152.2 L1414.7,152.2 L1414.7,157.7 L1415.5,157.7 L1415.5,181.5 L1417.9,181.5 L1417.9,189.7 L1419.1,189.7 L1419.1,178.8 L1419.7,178.8 L1419.7,170.5 L1421.5,170.5 L1421.5,170.1 L1423.3,170.1 L1423.3,169.6 L1424.3,169.6 L1424.3,165.6 L1426.1,165.6 L1426.1,165.6 L1427.9,165.6 L1427.9,165.6 L1429.7,165.6 L1429.7,170.5 L1431.6,170.5 L1431.6,170.1 L1433.4,170.1 L1433.4,169.6 L1435.2,169.6 L1435.2,167.4 L1437.1,167.4 L1437.1,167.4 L1438.9,167.4 L1438.9,167.4 L1439.8,167.4 L1439.8,165.0 L1441.6,165.0 L1441.6,164.6 L1443.5,164.6 L1443.5,164.1 L1444.4,164.1 L1444.4,159.6 L1446.9,159.6 L1446.9,159.6 L1449.5,159.6 L1449.5,159.6 L1450.2,159.6 L1450.2,171.4 L1451.3,171.4 L1451.3,191.6 L1452.6,191.6 L1452.6,179.7 L1454.4,179.7 L1454.4,175.1 L1455.7,175.1 L1455.7,166.9 L1456.8,166.9 L1456.8,185.2 L1458.1,185.2 L1458.1,184.3 L1459.0,184.3 L1459.0,158.6 L1461.7,158.6 L1461.7,157.7 L1462.7,157.7 L1462.7,155.4 L1464.3,155.4 L1464.3,155.6 L1466.0,155.6 L1466.0,155.9 L1466.3,184.3 L1468.5,184.3 L1468.5,185.2 L1470.0,185.2 L1470.0,179.7 L1472.7,179.7 L1472.7,179.2 L1475.5,179.2 L1475.5,178.8 L1476.9,178.8 L1476.9,173.6 L1478.5,173.6 L1478.5,173.6 L1480.0,173.6 L1480.0,173.6 L1480.6,173.6 L1480.6,197.1 L1483.1,197.1 L1483.1,198.0 L1484.2,198.0 L1484.2,191.2 L1486.4,191.2 L1486.4,190.7 L1486.8,176.9 L1488.6,176.9 L1488.6,182.4 L1489.7,182.4 L1489.7,154.6 L1491.3,154.6 L1491.3,154.3 L1492.8,154.3 L1492.8,154.1 L1493.8,154.1 L1493.8,160.5 L1494.7,160.5 L1494.7,166.9 L1495.9,166.9 L1495.9,147.7 L1497.0,147.7 L1497.0,137.6 L1498.3,137.6 L1498.3,137.1 L1499.2,137.1 L1499.2,146.8 L1501.4,146.8 L1501.4,145.8 L1502.0,145.8 L1502.0,135.8 L1504.7,135.8 L1504.7,134.9 L1505.6,134.9 L1505.6,138.5 L1508.4,138.5 L1508.4,137.1 L1509.3,137.1 L1509.3,134.0 L1511.1,134.0 L1511.1,133.8 L1513.0,133.8 L1513.0,133.6 L1514.8,133.6 L1514.8,135.9 L1516.6,135.9 L1516.6,138.2 L1518.4,138.2 L1518.4,142.2 L1521.2,142.2 L1521.2,142.2 L1523.0,142.2 L1523.0,140.8 L1524.8,140.8 L1524.8,139.4 L1526.7,139.4 L1526.7,142.2 L1528.5,142.2 L1528.5,138.5 L1529.4,138.5 L1529.4,130.3 L1532.2,130.3 L1532.2,130.3 L1534.9,130.3 L1534.9,130.3 L1537.6,130.3 L1537.6,130.3 L1538.6,130.3 L1538.6,154.1 L1539.5,154.1 L1539.5,142.2 L1542.2,142.2 L1542.2,140.4 L1543.1,140.4 L1543.1,136.7 L1545.9,136.7 L1545.9,136.7 L1548.6,136.7 L1548.6,136.7 L1550.5,136.7 L1550.5,138.5 L1552.6,138.5 L1552.6,138.4 L1554.7,138.4 L1554.7,138.3 L1556.9,138.3 L1556.9,138.2 L1558.3,138.2 L1558.3,161.4 L1560.0,161.4 L1560.0,153.2 L1562.0,153.2 L1562.0,153.0 L1564.0,153.0 L1564.0,152.8 L1566.0,152.8 L1566.0,152.6 L1566.9,152.6 L1566.9,176.0 L1569.7,176.0 L1569.7,179.7 L1571.5,179.7 L1571.5,181.5 L1573.3,181.5 L1573.3,181.1 L1575.1,181.1 L1575.1,180.6 L1575.7,180.6 L1575.7,171.4 L1577.0,171.4 L1577.0,173.3 L1577.9,173.3 L1577.9,179.7 L1579.4,179.7 L1579.4,188.8 L1580.6,188.8 L1580.6,200.7 L1581.9,200.7 L1581.9,188.8 L1583.0,188.8 L1583.0,209.9 L1584.6,209.9 L1584.6,210.3 L1586.1,210.3 L1586.1,210.8 L1587.9,210.8 L1587.9,213.5 L1590.3,213.5 L1590.3,212.6 L1591.6,212.6 L1591.6,200.7 L1592.5,200.7 L1592.5,186.1 L1593.4,186.1 L1593.4,196.1 L1595.7,196.1 L1595.7,195.7 L1598.0,195.7 L1598.0,195.2 L1599.8,195.2 L1599.8,189.7 L1601.7,189.7 L1601.7,189.7 L1602.8,189.7 L1602.8,208.0 L1603.0,213.5 L1604.5,213.5 L1604.5,224.5 L1605.4,224.5 L1605.4,245.7 L1608.1,245.7 L1608.1,245.7 L1610.9,245.7 L1610.9,234.8 L1612.7,234.8 L1612.7,234.3 L1614.5,234.3 L1614.5,233.8 L1616.8,233.8 L1616.8,235.2 L1619.1,235.2 L1619.1,236.6 L1621.0,236.6 L1621.0,237.5 L1622.8,237.5 L1622.8,238.4 L1623.7,238.4 L1623.7,262.2 L1625.5,262.2 L1625.5,262.2 L1626.1,262.2 L1626.1,239.3 L1628.1,239.3 L1628.1,239.3 L1630.1,239.3 L1630.1,239.3 L1631.6,239.3 L1631.6,249.4 L1632.8,249.4 L1632.8,280.5 L1633.8,280.5 L1633.8,298.8 L1635.2,298.8 L1635.2,297.9 L1635.9,297.9 L1635.9,258.5 L1637.0,258.5 L1637.0,255.8 L1638.6,255.8 L1638.6,255.8 L1640.2,255.8 L1640.2,255.8 L1641.1,255.8 L1641.1,275.0 L1642.9,275.0 L1642.9,277.7 L1643.8,277.7 L1643.8,286.9 L1645.1,286.9 L1645.1,278.6 L1646.2,278.6 L1646.2,275.0 L1648.2,275.0 L1648.2,275.0 L1650.2,275.0 L1650.2,275.0 L1651.1,275.0 L1651.1,279.6 L1653.0,279.6 L1653.0,275.0 L1655.7,275.0 L1655.7,279.0 L1657.5,279.0 L1657.5,278.8 L1659.4,278.8 L1659.4,278.6 L1661.2,278.6 L1661.2,273.2 L1663.9,273.2 L1663.9,272.2 L1664.8,272.2 L1664.8,282.3 L1666.3,282.3 L1666.3,283.2 L1667.0,283.2 L1667.0,253.0 L1668.7,253.0 L1668.7,252.6 L1670.3,252.6 L1670.3,252.1 L1671.2,252.1 L1671.2,231.1 L1673.1,231.1 L1673.1,233.8 L1674.0,233.8 L1674.0,241.2 L1675.5,241.2 L1675.5,241.2 L1675.8,206.2 L1678.4,206.2 L1678.4,202.6 L1679.3,202.6 L1679.3,175.1 L1681.1,175.1 L1681.1,177.0 L1683.0,177.0 L1683.0,178.8 L1684.8,178.8 L1684.8,198.9 L1687.1,198.9 L1687.1,199.8 L1689.4,199.8 L1689.4,200.7 L1692.1,200.7 L1692.1,205.3 L1693.9,205.3 L1693.9,205.8 L1695.8,205.8 L1695.8,206.2 L1696.9,206.2 L1696.9,217.4 L1698.7,217.4 L1698.7,218.7 L1700.5,218.7 L1700.5,220.1 L1703.3,220.1 L1703.3,218.7 L1706.0,218.7 L1706.0,217.4 L1707.8,217.4 L1707.8,222.9 L1710.6,222.9 L1710.6,222.9 L1713.3,222.9 L1713.3,222.9 L1716.1,222.9 L1716.1,222.2 L1718.8,222.2 L1718.8,221.6 L1720.6,221.6 L1720.6,227.4 L1723.4,227.4 L1723.4,229.3 L1725.2,229.3 L1725.2,232.0 L1726.1,232.0 L1726.1,249.4 L1727.0,249.4 L1727.0,258.5 L1729.8,258.5 L1729.8,261.3 L1730.7,261.3 L1730.7,270.4 L1733.4,270.4 L1733.4,273.2 L1735.3,273.2 L1735.3,276.8 L1737.1,276.8 L1737.1,280.5 L1738.9,280.5 L1738.9,284.1 L1739.8,284.1 L1739.8,307.9 L1742.6,307.9 L1742.6,309.7 L1743.5,309.7 L1743.5,317.1 L1746.2,317.1 L1746.2,320.7 L1749.0,320.7 L1749.0,326.2 L1749.9,326.2 L1749.9,333.5 L1752.6,333.5 L1752.6,335.3 L1753.6,335.3 L1753.6,343.6 L1755.4,343.6 L1755.4,340.8 L1757.2,340.8 L1757.2,340.8 L1757.2,340.8 L1758.2,340.8 L1758.2,362.9 L1760.2,362.9 L1760.2,363.8 L1762.2,363.8 L1762.2,364.8 L1764.9,364.8 L1764.9,363.8 L1766.8,363.8 L1766.8,373.0 L1768.6,373.0 L1768.6,370.2 L1769.9,370.2 L1769.9,357.4 L1772.2,357.4 L1772.2,353.8 L1773.2,353.8 L1773.2,339.1 L1775.0,339.1 L1775.0,351.9 L1776.8,351.9 L1776.8,339.1 L1779.6,339.1 L1779.6,344.6 L1781.2,344.6 L1781.2,345.1 L1782.9,345.1 L1782.9,345.5 L1783.2,328.0 L1784.7,328.0 L1784.7,327.1 L1785.6,327.1 L1785.6,314.3 L1788.3,314.3 L1788.3,314.3 L1789.3,314.3 L1789.3,307.0 L1791.1,307.0 L1791.1,317.9 L1792.0,317.9 L1792.0,307.9 L1794.4,307.9 L1794.4,307.9 L1796.2,307.9 L1796.2,327.1 L1797.5,327.1 L1797.5,313.4 L1799.0,313.4 L1799.0,313.4 L1800.6,313.4 L1800.6,313.4 L1801.7,313.4 L1801.7,327.1 L1803.9,327.1 L1803.9,329.8 L1805.7,329.8 L1805.7,328.4 L1807.5,328.4 L1807.5,327.1 L1809.7,327.1 L1809.7,328.0 L1810.8,328.0 L1810.8,335.3 L1813.3,335.3 L1813.3,335.8 L1815.8,335.8 L1815.8,336.2 L1817.1,336.2 L1817.1,343.5 L1819.4,343.5 L1819.4,344.4 L1821.3,344.4 L1821.3,325.2 L1824.0,325.2 L1824.0,321.6 L1825.8,321.6 L1825.8,326.2 L1827.3,326.2 L1827.3,341.7 L1830.2,341.7 L1830.2,341.7 L1833.2,341.7 L1833.2,341.7 L1834.1,341.7 L1834.1,330.7 L1835.9,330.7 L1835.9,330.7 L1837.7,330.7 L1837.7,330.7 L1839.0,330.7 L1839.0,352.9 L1841.4,352.9 L1841.4,352.9 L1843.9,352.9 L1843.9,352.9 L1846.3,352.9 L1846.3,352.9 L1848.1,352.9 L1848.1,347.4 L1850.9,347.4 L1850.9,345.5 L1852.7,345.5 L1852.7,344.2 L1854.5,344.2 L1854.5,342.8 L1856.4,342.8 L1856.4,344.6 L1858.2,344.6 L1858.2,343.3 L1860.0,343.3 L1860.0,341.9 L1862.8,341.9 L1862.8,343.7 L1865.1,343.7 L1865.1,344.0 L1867.4,344.0 L1867.4,344.3 L1868.3,344.3 L1868.3,349.2 L1870.1,349.2 L1870.1,345.5 L1872.8,345.5 L1872.8,345.4 L1875.6,345.4 L1875.6,345.3 L1878.3,345.3 L1878.3,345.2 L1881.1,345.2 L1881.1,345.1 L1883.8,345.1 L1883.8,345.0 L1884.7,345.0 L1884.7,333.7 L1886.2,333.7 L1886.2,330.9 L1888.4,330.9 L1888.4,333.7 L1889.3,333.7 L1889.3,356.5 L1890.6,356.5 L1890.6,350.1 L1892.7,350.1 L1892.7,349.7 L1894.8,349.7 L1894.8,349.2 L1896.6,349.2 L1896.6,348.3 L1898.9,348.3 L1898.9,347.8 L1901.2,347.8 L1901.2,347.4 L1902.1,347.4 L1902.1,330.0 L1903.4,330.0 L1903.4,330.9 L1904.8,330.9 L1904.8,351.0 L1906.7,351.0 L1906.7,346.5 L1908.5,346.5 L1908.5,341.0 L1911.2,341.0 L1911.2,338.8 L1914.0,338.8 L1914.0,336.7 L1916.7,336.7 L1916.7,334.6 L1918.6,334.6 L1918.6,331.8 L1920.4,331.8 L1920.4,342.8 L1922.2,342.8 L1922.2,346.5 L1925.0,346.5 L1925.0,351.9 L1926.8,351.9 L1926.8,361.1 L1929.5,361.1 L1929.5,369.3 L1931.4,369.3 L1931.4,379.4 L1933.2,379.4 L1933.2,385.8 L1935.0,385.8 L1935.0,384.9 L1936.9,384.9 L1936.9,384.0 L1938.7,384.0 L1938.7,379.4 L1941.0,379.4 L1941.0,378.9 L1943.3,378.9 L1943.3,378.5 L1945.5,378.5 L1945.5,378.5 L1947.8,378.5 L1947.8,378.5 L1949.1,378.5 L1949.1,392.2 L1950.6,392.2 L1950.6,406.8 L1952.4,406.8 L1952.4,413.2 L1954.2,413.2 L1954.2,413.7 L1956.1,413.7 L1956.1,414.1 L1958.8,414.1 L1958.8,414.6 L1961.5,414.6 L1961.5,415.0 L1963.4,415.0 L1963.4,419.6 L1965.6,419.6 L1965.6,426.9 L1967.4,426.9 L1967.4,416.0 L1968.5,416.0 L1968.5,391.3 L1969.2,391.3 L1969.2,381.2 L1970.3,381.2 L1970.3,403.2 L1971.9,403.2 L1971.9,403.6 L1973.4,403.6 L1973.4,404.1 L1975.8,404.1 L1975.8,408.6 L1977.6,408.6 L1977.6,407.7 L1978.4,407.7 L1978.4,388.5 L1980.9,388.5 L1980.9,388.5 L1983.5,388.5 L1983.5,388.5 L1985.0,388.5 L1985.0,368.4 L1986.2,368.4 L1986.2,352.9 L1989.0,352.9 L1989.0,353.8 L1991.3,353.8 L1991.3,353.3 L1993.6,353.3 L1993.6,352.9 L1994.8,352.9 L1994.8,348.3 L1996.5,348.3 L1996.5,348.7 L1998.1,348.7 L1998.1,349.2 L2000.0,349.2 L2000.0,357.4 L2002.7,357.4 L2002.7,359.3 L2004.0,359.3 L2004.0,374.8 L2005.1,374.8 L2005.1,392.2 L2007.1,392.2 L2007.1,393.1 L2009.1,393.1 L2009.1,394.0 L2011.8,394.0 L2011.8,393.6 L2014.6,393.6 L2014.6,393.1 L2017.3,393.1 L2017.3,393.6 L2020.1,393.6 L2020.1,394.0 L2021.9,394.0 L2021.9,398.6 L2023.5,398.6 L2023.5,398.1 L2025.2,398.1 L2025.2,397.7 L2026.5,397.7 L2026.5,377.6 L2028.8,377.6 L2028.8,377.1 L2031.0,377.1 L2031.0,376.6 L2032.9,376.6 L2032.9,361.1 L2035.6,361.1 L2035.6,360.2 L2036.5,360.2 L2036.5,367.5 L2038.4,367.5 L2038.4,364.8 L2038.7,343.7 L2041.7,343.7 L2041.7,343.7 L2042.4,343.7 L2042.4,364.8 L2043.9,364.8 L2043.9,375.7 L2045.7,375.7 L2045.7,375.7 L2047.5,375.7 L2047.5,375.7 L2050.3,375.7 L2050.3,373.9 L2050.8,373.9 L2050.8,357.4 L2053.7,357.4 L2053.7,356.1 L2056.7,356.1 L2056.7,354.7 L2058.9,354.7 L2058.9,354.2 L2061.2,354.2 L2061.2,353.8 L2063.1,353.8 L2063.1,342.8 L2064.9,342.8 L2064.9,336.4 L2066.7,336.4 L2066.7,330.0 L2067.0,329.5 L2067.9,329.5 L2067.9,328.6 L2069.8,328.6 L2069.8,329.0 L2071.6,329.0 L2071.6,329.5 L2073.4,329.5 L2073.4,328.6 L2075.3,328.6 L2075.3,327.7 L2078.0,327.7 L2078.0,329.5 L2079.5,329.5 L2079.5,346.0 L2081.7,346.0 L2081.7,365.2 L2083.5,365.2 L2083.5,366.1 L2085.3,366.1 L2085.3,367.0 L2088.1,367.0 L2088.1,366.1 L2089.0,366.1 L2089.0,358.8 L2091.7,358.8 L2091.7,348.7 L2094.5,348.7 L2094.5,345.0 L2096.3,345.0 L2096.3,344.6 L2098.1,344.6 L2098.1,344.1 L2100.1,344.1 L2100.1,343.2 L2102.1,343.2 L2102.1,342.3" stroke="#3aa7ec" stroke-width="1.5"/>
<path d="M16.1,500.6 L17.3,507.2 L18.6,506.8 L19.2,511.0 L19.9,516.1 L21.8,518.0 L21.9,519.0 L23.1,513.2 L23.8,505.2 L24.4,496.5 L25.6,490.2 L26.0,492.3 L27.2,489.1 L27.4,490.4 L28.5,486.3 L29.3,478.7 L30.3,475.0 L32.0,473.5 L32.1,474.0 L33.8,475.0 L34.8,480.7 L35.6,493.3 L36.6,501.5 L37.4,519.4 L37.5,521.5 L39.2,518.3 L40.6,515.4 L41.2,513.1 L41.9,515.1 L43.6,517.5 L43.9,519.7 L45.1,526.3 L46.6,525.7 L47.0,524.7 L48.6,526.3 L49.4,523.9 L49.8,522.4 L51.6,520.7 L52.9,525.9 L53.0,525.3 L54.6,521.4 L56.2,529.1 L56.7,527.8 L57.9,501.6 L58.5,491.9 L59.1,494.0 L60.3,489.6 L61.3,491.7 L61.6,494.2 L63.0,493.8 L64.0,498.5 L64.7,509.3 L65.8,529.1 L66.4,530.6 L67.7,531.9 L68.6,528.7 L68.9,521.3 L69.9,508.6 L70.2,509.4 L71.6,505.3 L72.8,510.1 L73.2,510.3 L74.4,509.7 L75.9,502.6 L76.3,502.1 L77.8,511.2 L79.1,507.8 L79.6,510.5 L80.3,513.4 L81.6,508.7 L82.9,513.4 L83.2,513.4 L84.5,516.1 L86.0,513.0 L86.2,512.4 L87.3,518.6 L88.5,515.5 L89.6,515.1 L90.3,515.0 L91.7,521.6 L93.1,518.2 L93.3,518.9 L94.6,501.7 L94.7,498.1 L96.1,491.2 L96.9,492.3 L98.0,497.5 L99.5,494.7 L99.7,495.6 L100.9,499.5 L102.4,494.1 L102.7,492.7 L103.8,496.9 L105.3,487.6 L106.1,485.8 L106.7,489.1 L108.4,503.2 L108.8,504.4 L109.7,494.9 L110.7,489.2 L111.3,488.9 L112.5,480.9 L113.4,479.5 L114.0,478.1 L115.8,475.9 L117.1,466.6 L117.1,466.1 L118.6,462.3 L119.8,463.1 L120.3,467.0 L121.6,468.4 L122.5,473.6 L123.1,474.2 L124.3,469.8 L125.3,471.8 L126.1,469.2 L127.1,459.8 L127.5,459.3 L128.9,464.6 L129.0,464.2 L130.6,447.2 L130.8,445.7 L132.2,441.5 L133.5,443.6 L133.8,445.0 L135.6,440.7 L136.3,442.1 L137.4,440.3 L139.0,440.1 L139.2,440.1 L140.5,432.2 L141.7,431.9 L142.2,433.5 L143.5,429.1 L144.5,432.5 L145.4,436.0 L147.1,433.1 L147.2,433.6 L148.1,445.0 L148.2,428.4 L148.8,415.6 L149.1,407.2 L149.9,403.0 L151.6,407.1 L153.3,405.6 L153.6,406.3 L154.7,404.6 L156.3,395.6 L156.4,395.6 L157.7,400.0 L159.1,400.0 L159.3,400.3 L160.5,399.4 L161.9,405.4 L162.2,406.0 L163.4,400.3 L164.6,402.6 L165.2,400.2 L166.4,388.4 L166.5,388.3 L168.3,396.5 L169.2,394.2 L169.7,392.0 L171.0,391.3 L171.9,390.6 L172.8,391.5 L174.1,398.7 L174.7,397.8 L175.8,401.6 L175.9,403.2 L177.1,402.7 L178.3,399.9 L178.8,400.9 L180.3,395.5 L181.1,398.6 L182.0,403.4 L183.9,402.4 L185.3,405.9 L185.6,408.2 L186.7,407.3 L188.4,393.5 L188.5,393.0 L189.9,394.8 L191.1,389.8 L191.3,379.0 L191.7,364.8 L192.8,373.6 L193.0,374.0 L194.1,378.6 L194.8,384.5 L195.4,386.5 L196.8,382.5 L198.2,389.1 L198.4,388.4 L199.4,384.8 L200.6,388.7 L201.2,388.3 L202.3,388.7 L203.7,384.2 L205.5,391.5 L205.8,391.1 L207.4,384.7 L208.8,386.0 L210.3,379.0 L210.7,377.5 L212.5,380.8 L213.6,374.0 L214.8,372.6 L215.8,374.5 L216.5,375.9 L217.9,368.2 L218.6,370.4 L219.1,372.0 L220.6,362.1 L221.3,363.3 L222.1,369.6 L223.4,370.2 L224.1,374.4 L225.0,376.5 L226.5,373.7 L226.8,374.1 L227.7,352.8 L228.2,355.4 L229.6,354.9 L230.5,359.7 L231.3,361.6 L232.7,358.7 L233.2,360.3 L234.3,362.4 L235.8,355.5 L235.9,355.8 L237.5,358.2 L238.9,349.1 L240.5,351.0 L240.7,351.5 L241.9,346.6 L243.3,350.0 L243.7,350.3 L245.1,343.0 L246.4,345.2 L246.9,343.5 L247.8,322.9 L247.8,322.9 L249.1,322.7 L250.4,325.9 L250.6,325.3 L251.9,331.0 L253.3,342.1 L253.5,342.2 L254.9,338.4 L256.1,342.0 L256.4,343.4 L257.7,345.0 L259.0,346.4 L259.7,344.8 L260.7,342.4 L262.0,349.1 L263.4,344.4 L263.4,344.4 L264.8,337.0 L265.2,331.1 L265.9,327.8 L267.5,331.5 L269.3,325.9 L269.8,325.8 L270.7,316.8 L271.1,318.7 L272.5,324.6 L272.9,334.1 L273.8,357.9 L274.5,359.8 L275.8,355.6 L277.4,356.0 L278.0,358.4 L278.8,356.4 L279.5,349.0 L280.1,356.8 L281.7,389.3 L281.9,389.8 L283.3,384.7 L284.4,386.3 L284.9,384.2 L286.2,371.8 L286.5,370.8 L287.7,373.3 L289.0,366.5 L289.3,362.7 L290.8,358.7 L290.9,359.1 L292.1,355.1 L293.9,358.9 L294.5,361.7 L295.5,364.1 L297.2,361.9 L297.4,362.3 L298.9,362.7 L300.0,363.9 L300.6,362.6 L302.3,365.3 L303.6,362.0 L303.9,361.7 L305.1,362.7 L306.9,364.9 L307.3,365.0 L308.0,360.8 L309.1,358.3 L309.4,361.5 L310.6,366.9 L310.9,370.2 L312.0,377.8 L313.2,376.6 L314.6,385.6 L315.0,383.9 L316.4,370.3 L316.4,370.3 L317.9,380.8 L318.2,380.8 L319.5,373.3 L320.9,370.4 L321.9,371.9 L322.5,372.7 L324.0,364.9 L324.6,365.2 L325.6,364.5 L326.8,362.9 L327.4,358.5 L328.3,356.8 L330.0,367.1 L330.1,366.9 L331.6,364.2 L333.4,371.7 L333.8,372.5 L335.2,379.3 L336.5,380.4 L337.4,387.0 L338.3,388.8 L340.0,385.3 L340.2,386.1 L341.4,375.4 L342.0,364.2 L342.8,359.9 L344.2,363.5 L345.9,359.4 L346.6,360.5 L347.5,362.1 L348.4,359.3 L348.7,358.6 L350.4,362.1 L351.6,360.9 L353.0,355.8 L353.0,355.6 L354.5,349.8 L354.8,348.4 L356.0,348.3 L357.6,342.6 L358.5,345.7 L358.8,345.3 L360.3,332.2 L360.5,331.6 L362.1,331.2 L363.1,336.7 L363.3,337.6 L364.6,334.1 L364.9,332.8 L366.2,331.6 L367.6,338.8 L367.7,339.0 L369.3,335.1 L371.0,339.0 L371.3,337.8 L372.2,311.5 L372.2,310.8 L373.4,316.9 L375.2,310.2 L375.9,311.9 L376.4,318.4 L377.7,326.2 L378.2,324.6 L379.4,329.4 L380.4,326.9 L381.0,331.0 L382.3,345.7 L382.8,345.9 L384.3,338.6 L385.7,339.4 L385.9,338.6 L387.3,333.2 L389.1,337.3 L389.6,333.6 L390.3,330.0 L392.1,335.4 L393.2,333.1 L393.5,332.4 L395.0,334.8 L396.0,332.1 L396.7,338.0 L397.8,351.8 L398.4,354.0 L399.7,359.1 L400.0,358.7 L400.0,352.3 L400.9,359.1 L401.0,360.0 L402.7,370.7 L403.7,374.7 L404.5,365.9 L406.0,345.0 L406.5,341.0 L407.2,343.9 L408.8,343.6 L409.2,344.4 L410.4,341.3 L411.9,331.3 L412.1,331.9 L413.5,348.1 L414.7,357.6 L415.0,359.5 L416.7,374.2 L417.4,376.7 L418.3,377.4 L419.7,387.9 L420.2,387.9 L421.0,373.9 L422.0,362.3 L422.6,358.1 L423.8,346.7 L423.9,345.9 L425.7,325.4 L425.7,325.4 L427.0,331.9 L428.4,332.0 L428.7,330.3 L430.4,324.8 L431.2,318.2 L431.7,319.7 L433.2,332.5 L433.9,337.0 L434.7,330.7 L436.0,318.4 L436.6,314.6 L437.5,315.6 L438.6,310.3 L439.4,311.3 L439.8,314.1 L441.4,317.7 L442.1,321.3 L443.1,318.5 L444.9,316.4 L444.9,316.5 L446.1,320.0 L447.6,332.5 L447.7,333.8 L448.9,337.2 L449.4,343.5 L450.3,342.1 L452.1,329.9 L452.2,329.5 L453.6,337.4 L454.7,341.4 L454.9,341.5 L455.9,326.2 L457.2,309.7 L457.7,303.8 L458.5,305.1 L459.9,300.1 L460.4,302.5 L461.3,310.6 L462.9,313.3 L463.2,315.4 L464.5,325.4 L465.9,326.5 L466.3,325.1 L467.7,326.2 L468.6,323.4 L469.2,324.2 L470.7,333.7 L471.4,335.8 L472.4,341.1 L473.2,342.8 L473.6,337.8 L475.0,324.5 L475.1,325.3 L476.7,334.4 L477.4,342.6 L478.0,340.4 L479.6,325.5 L479.6,325.4 L480.9,334.5 L481.4,335.0 L482.1,338.0 L483.3,343.3 L483.7,343.4 L485.5,351.6 L486.0,350.7 L486.8,372.6 L486.9,377.5 L488.1,381.9 L489.6,377.3 L489.7,377.4 L491.5,373.0 L492.4,366.5 L492.7,365.0 L494.1,362.6 L495.5,361.7 L496.1,358.1 L497.0,375.3 L497.1,376.7 L498.3,398.1 L498.6,406.8 L499.2,418.5 L499.9,412.9 L501.1,413.5 L501.6,410.5 L502.7,404.2 L504.3,404.6 L504.5,404.9 L506.2,399.0 L507.1,399.6 L508.0,396.2 L508.9,391.5 L509.5,389.0 L510.7,382.0 L511.2,382.8 L513.0,387.1 L513.5,389.2 L514.5,384.8 L516.2,371.8 L516.3,371.7 L517.5,375.4 L518.7,370.7 L519.9,371.8 L520.3,370.4 L521.7,366.4 L522.0,366.2 L523.3,368.2 L524.4,368.2 L524.6,365.8 L525.3,355.5 L526.5,359.1 L527.9,363.2 L528.1,363.1 L529.4,352.9 L530.8,351.4 L531.1,353.4 L532.7,356.1 L533.6,362.9 L534.1,366.0 L535.8,363.2 L536.3,364.7 L537.1,363.7 L538.8,363.5 L539.1,362.5 L540.4,360.0 L541.8,363.4 L542.1,363.4 L543.7,353.2 L545.0,354.4 L545.5,351.9 L546.7,326.2 L546.9,322.1 L547.7,301.9 L547.9,302.1 L549.1,308.3 L550.4,306.1 L551.0,306.3 L551.9,308.0 L552.8,312.8 L553.7,311.3 L554.6,304.2 L555.4,300.9 L556.8,303.7 L558.3,299.5 L558.4,297.4 L559.7,287.7 L560.1,282.2 L561.3,283.2 L562.8,280.5 L563.8,283.7 L564.4,286.7 L565.6,286.7 L566.1,284.7 L567.3,287.2 L567.8,285.5 L568.3,260.9 L568.9,260.3 L570.5,267.4 L571.1,266.6 L571.9,261.0 L573.6,256.3 L573.8,254.4 L575.3,254.2 L576.6,261.5 L576.7,261.8 L578.4,255.4 L579.3,252.9 L579.6,254.0 L580.8,261.0 L582.1,270.3 L582.2,269.2 L583.9,248.0 L584.0,247.6 L585.6,247.5 L585.7,247.0 L586.6,228.4 L587.1,227.8 L588.5,235.6 L589.4,231.6 L589.7,228.3 L590.9,229.2 L591.8,222.8 L592.2,222.3 L593.7,223.9 L594.0,225.0 L594.9,248.5 L595.0,248.3 L596.3,245.5 L597.6,236.5 L597.9,236.2 L599.6,240.6 L600.4,239.4 L600.9,236.7 L602.0,241.1 L603.1,234.7 L603.7,233.7 L604.9,242.4 L605.8,245.4 L606.2,244.6 L607.9,234.1 L608.6,234.9 L609.3,246.4 L610.4,258.5 L610.7,261.5 L612.2,271.0 L612.2,271.6 L613.5,261.4 L614.1,259.3 L614.9,256.8 L615.9,247.2 L616.2,245.7 L617.4,248.1 L618.6,244.7 L619.1,248.3 L620.3,252.6 L620.5,254.2 L621.4,237.8 L622.0,237.0 L623.5,228.4 L624.1,228.1 L624.9,229.7 L626.3,229.9 L627.8,224.4 L627.9,224.3 L629.2,232.0 L630.4,229.5 L630.5,230.1 L631.9,241.0 L632.4,242.2 L633.3,244.7 L634.2,252.9 L635.0,254.9 L636.6,247.0 L636.9,247.7 L638.4,253.8 L639.5,248.6 L639.7,249.0 L641.1,255.7 L642.4,254.4 L642.7,253.3 L644.2,254.8 L645.2,250.6 L645.4,248.5 L646.8,245.4 L647.0,243.4 L648.0,240.4 L649.4,245.2 L649.7,244.4 L650.7,246.9 L651.6,255.0 L652.4,266.1 L653.4,271.5 L653.7,271.3 L655.3,281.0 L656.1,282.1 L656.6,281.1 L658.1,287.3 L659.2,288.7 L659.8,286.8 L661.0,272.6 L662.3,269.3 L662.5,265.7 L663.4,257.7 L664.4,255.8 L665.1,254.2 L666.8,248.5 L667.1,246.1 L668.4,241.7 L668.9,243.6 L670.0,249.1 L671.5,246.4 L671.7,246.4 L673.3,248.5 L673.5,249.7 L674.6,256.1 L676.0,257.2 L676.3,258.4 L677.7,264.1 L679.0,263.0 L679.4,262.1 L680.7,265.7 L681.7,263.4 L682.0,263.8 L683.5,276.2 L684.5,276.5 L684.8,272.8 L686.5,268.3 L687.2,260.9 L688.1,257.9 L689.4,262.0 L690.9,256.6 L691.1,256.0 L692.6,256.1 L694.2,262.4 L694.5,261.6 L695.9,253.6 L697.3,249.7 L697.3,249.7 L699.0,239.5 L699.1,238.4 L700.8,234.0 L702.5,239.2 L702.8,237.9 L704.1,230.5 L705.4,233.4 L705.5,232.8 L707.3,225.9 L707.4,226.3 L708.5,224.9 L709.2,220.7 L710.0,223.0 L711.0,224.1 L711.6,215.3 L712.8,197.5 L713.2,191.0 L713.8,183.1 L714.7,186.0 L716.5,181.1 L716.5,181.1 L718.0,183.2 L719.7,174.5 L720.2,175.1 L721.1,180.6 L722.4,179.9 L722.9,182.0 L723.8,187.5 L724.7,189.0 L725.6,188.2 L726.6,193.6 L727.1,190.2 L728.4,172.0 L728.8,174.7 L730.0,194.1 L730.2,194.9 L731.4,194.7 L732.0,199.7 L733.0,192.2 L733.9,180.1 L734.1,182.6 L735.3,199.3 L735.8,200.3 L737.5,208.2 L737.5,208.3 L739.2,218.1 L739.4,219.4 L740.5,218.8 L742.1,206.2 L742.3,208.2 L743.0,220.4 L743.4,220.7 L745.0,227.3 L745.8,226.2 L746.6,232.3 L747.6,242.9 L748.0,244.1 L749.6,240.3 L750.3,240.7 L751.1,242.1 L752.4,251.0 L753.1,250.2 L754.2,253.5 L754.9,258.0 L755.7,259.0 L757.2,264.4 L757.6,263.6 L758.6,258.0 L759.9,260.1 L761.3,252.2 L761.5,250.8 L762.7,249.4 L764.1,242.6 L764.5,243.9 L766.0,248.0 L766.8,250.6 L767.6,253.9 L768.6,256.6 L769.3,270.3 L769.5,276.6 L770.6,284.8 L772.0,288.4 L772.3,290.1 L773.6,290.4 L774.8,286.4 L775.0,286.0 L776.4,285.2 L777.8,282.2 L778.3,280.0 L780.1,280.4 L780.5,278.2 L781.5,277.9 L783.0,284.4 L783.3,285.3 L784.2,287.3 L785.8,284.4 L786.0,285.0 L787.5,291.1 L789.1,287.2 L789.7,289.7 L790.9,295.9 L792.0,292.9 L792.4,294.5 L793.3,318.9 L793.5,319.5 L794.9,315.6 L795.1,316.6 L796.1,314.1 L796.6,315.8 L798.2,309.3 L798.3,309.4 L798.8,331.1 L799.6,337.1 L800.6,335.9 L800.7,335.8 L802.5,345.2 L803.4,344.3 L804.2,340.2 L805.5,343.9 L806.1,341.1 L807.3,345.9 L807.9,350.8 L808.8,351.7 L810.3,349.8 L810.4,351.8 L811.2,372.7 L812.2,370.4 L812.3,369.1 L813.1,355.2 L813.6,353.3 L815.0,357.4 L815.8,354.6 L816.2,351.7 L817.6,349.3 L818.0,350.2 L819.5,351.1 L820.4,348.8 L820.7,346.6 L822.6,343.9 L823.1,341.1 L824.3,339.0 L825.0,340.0 L825.9,327.9 L826.1,328.5 L827.7,324.9 L827.9,322.9 L829.5,315.1 L829.5,314.8 L830.8,303.6 L831.7,302.2 L832.4,289.1 L832.6,283.6 L833.9,277.8 L835.4,279.5 L836.3,276.5 L837.1,273.8 L838.7,272.0 L840.0,274.8 L840.4,277.4 L841.9,279.4 L842.7,277.9 L843.3,281.9 L844.5,294.7 L844.8,295.1 L846.3,300.3 L847.3,299.4 L847.4,298.8 L849.3,292.3 L850.4,289.6 L850.9,290.5 L851.9,290.2 L853.1,279.6 L853.7,278.8 L854.9,280.6 L856.3,276.4 L856.4,276.5 L858.0,284.3 L859.2,283.7 L859.8,279.9 L861.6,280.0 L861.9,279.2 L862.9,278.1 L864.6,277.7 L865.6,272.2 L866.0,269.6 L867.3,268.9 L868.3,271.3 L869.0,274.6 L870.8,271.0 L871.0,272.5 L872.4,282.1 L873.8,284.5 L874.2,287.3 L875.6,303.2 L875.6,303.3 L876.8,300.7 L877.4,302.4 L878.1,307.5 L879.5,311.8 L879.6,312.8 L881.1,294.1 L881.4,293.0 L882.8,277.0 L883.9,270.1 L884.6,270.7 L886.2,269.0 L887.5,270.0 L888.0,266.5 L889.1,249.9 L889.3,248.6 L890.7,252.6 L892.1,246.4 L892.1,246.4 L893.7,247.6 L894.8,253.0 L895.0,251.3 L895.7,237.2 L896.5,237.0 L898.1,244.4 L898.5,243.4 L899.4,238.2 L901.0,238.1 L901.2,238.3 L902.8,235.8 L904.0,230.8 L904.5,232.3 L906.1,229.8 L906.7,233.9 L907.4,228.5 L908.5,213.6 L909.2,211.3 L910.4,213.7 L910.6,209.1 L911.3,188.9 L912.0,187.4 L913.7,185.3 L914.9,187.2 L915.4,188.6 L916.6,188.8 L917.7,191.1 L918.3,193.1 L920.1,193.2 L921.2,198.7 L921.3,198.8 L922.5,197.7 L923.7,202.7 L924.1,201.5 L925.4,194.8 L925.9,196.4 L926.7,202.5 L928.5,203.3 L928.7,204.2 L929.8,209.7 L931.2,208.7 L931.4,210.1 L932.4,200.8 L933.2,190.6 L933.7,189.5 L934.8,182.7 L936.0,180.7 L936.1,180.9 L937.4,181.4 L938.7,176.8 L938.9,176.8 L940.0,181.2 L940.1,183.3 L940.7,184.1 L942.6,189.5 L943.7,186.7 L944.3,184.6 L945.6,191.3 L946.5,188.6 L946.9,183.8 L948.3,174.3 L948.4,174.2 L949.6,170.9 L951.0,170.4 L951.1,170.9 L952.5,171.1 L953.8,180.2 L954.1,177.3 L954.7,167.0 L955.8,166.6 L957.4,173.5 L957.6,174.3 L958.8,170.7 L960.2,177.8 L960.7,178.3 L961.9,170.3 L962.0,170.6 L962.9,183.2 L963.5,186.5 L965.1,183.0 L965.7,185.8 L966.6,189.9 L967.8,184.3 L969.3,189.8 L969.4,190.4 L970.6,195.6 L971.2,196.7 L972.1,195.0 L973.8,202.8 L974.8,199.7 L975.2,198.9 L977.0,208.0 L977.6,206.7 L978.4,218.8 L978.5,219.7 L979.7,219.0 L981.2,216.4 L981.2,216.5 L982.7,218.5 L984.0,226.5 L984.4,225.1 L985.8,218.6 L986.0,218.2 L987.4,210.5 L988.5,204.4 L989.1,202.8 L990.7,202.2 L991.3,204.0 L992.2,217.1 L993.1,221.8 L993.5,221.5 L994.9,232.2 L995.0,232.3 L996.7,224.4 L997.7,222.2 L997.9,221.3 L999.3,220.3 L1000.4,212.4 L1001.0,208.6 L1002.2,209.6 L1002.2,209.5 L1003.7,197.8 L1005.0,198.3 L1005.0,198.4 L1006.9,195.8 L1007.7,199.2 L1008.6,199.1 L1010.4,188.5 L1010.5,188.5 L1012.1,193.9 L1013.2,190.7 L1013.4,189.7 L1014.7,190.0 L1016.0,190.7 L1016.3,191.4 L1017.5,191.0 L1019.2,192.2 L1019.6,191.1 L1020.8,190.4 L1021.4,193.8 L1022.1,210.9 L1022.4,216.9 L1023.9,216.1 L1025.1,222.5 L1025.7,219.1 L1026.9,203.2 L1027.1,201.5 L1028.3,196.0 L1028.8,190.4 L1029.8,185.2 L1031.4,189.8 L1031.5,189.0 L1032.7,183.5 L1034.0,189.0 L1035.2,188.7 L1035.2,188.7 L1036.6,185.9 L1038.0,192.1 L1038.8,189.4 L1039.6,183.1 L1040.7,181.8 L1041.2,183.9 L1042.5,183.1 L1042.8,187.0 L1043.4,197.1 L1044.6,202.9 L1046.1,200.0 L1046.1,200.2 L1047.5,203.3 L1048.9,197.2 L1049.4,193.8 L1051.2,190.9 L1051.6,189.2 L1053.0,189.7 L1054.6,186.9 L1055.3,189.6 L1056.1,188.2 L1057.1,180.7 L1057.9,175.8 L1059.4,175.5 L1059.9,173.2 L1060.7,170.8 L1062.2,172.2 L1062.6,171.3 L1063.7,172.7 L1065.2,181.7 L1065.3,181.5 L1066.7,178.7 L1067.9,186.0 L1069.0,184.6 L1069.4,183.0 L1070.7,184.4 L1071.8,179.2 L1072.7,179.8 L1073.3,182.0 L1074.5,180.5 L1074.8,185.0 L1075.4,196.3 L1076.3,200.4 L1077.7,197.9 L1078.1,199.3 L1079.5,204.3 L1080.9,206.9 L1081.0,206.7 L1082.5,201.0 L1083.6,202.3 L1084.0,203.8 L1085.5,205.3 L1086.4,207.2 L1086.7,206.4 L1088.2,197.4 L1088.8,197.2 L1089.5,213.9 L1089.7,229.6 L1089.8,231.1 L1091.0,232.6 L1091.0,233.0 L1092.5,250.2 L1092.9,256.5 L1093.8,254.5 L1095.6,246.4 L1095.6,246.0 L1097.2,251.0 L1098.3,256.9 L1098.8,256.0 L1100.5,258.6 L1101.8,254.0 L1102.0,254.5 L1103.5,265.9 L1104.8,269.2 L1105.2,267.3 L1106.9,266.5 L1107.5,263.5 L1108.5,260.2 L1109.6,264.1 L1111.1,257.0 L1111.2,257.1 L1112.3,260.7 L1113.9,265.8 L1114.1,266.3 L1115.7,263.1 L1116.6,262.8 L1117.6,264.1 L1118.5,270.1 L1118.9,272.3 L1120.7,270.6 L1121.9,278.3 L1122.1,278.3 L1123.4,275.0 L1124.8,268.9 L1124.9,269.0 L1126.6,277.4 L1127.6,274.0 L1127.8,273.3 L1129.4,282.5 L1131.0,280.6 L1131.3,282.0 L1132.3,286.2 L1134.0,284.2 L1134.0,284.3 L1135.8,265.9 L1135.8,265.4 L1137.2,269.7 L1138.6,266.8 L1138.7,267.1 L1140.0,275.5 L1141.3,276.5 L1141.7,276.2 L1143.4,283.1 L1145.0,282.3 L1145.0,282.3 L1146.5,288.9 L1147.9,286.8 L1148.6,289.9 L1149.7,289.3 L1151.0,279.6 L1151.4,280.0 L1152.3,280.5 L1153.7,268.4 L1154.1,268.5 L1155.4,273.9 L1157.1,269.8 L1157.8,272.6 L1158.3,276.3 L1160.0,277.8 L1160.5,281.3 L1161.3,286.8 L1163.1,290.7 L1163.3,291.9 L1164.8,297.8 L1166.5,293.5 L1166.9,295.6 L1168.1,301.2 L1169.6,296.9 L1170.6,301.7 L1171.1,304.2 L1173.0,300.0 L1174.3,305.2 L1174.7,306.2 L1176.3,298.9 L1177.6,303.3 L1178.8,299.8 L1179.5,270.3 L1179.7,259.6 L1181.3,261.2 L1182.5,256.3 L1183.4,258.5 L1183.8,259.6 L1185.6,255.7 L1186.8,259.8 L1187.1,259.0 L1188.5,253.8 L1189.9,258.1 L1190.7,255.2 L1191.5,248.6 L1192.9,246.3 L1193.2,248.6 L1194.8,248.3 L1195.3,250.0 L1196.5,250.7 L1198.0,257.1 L1198.3,259.6 L1199.9,262.5 L1200.0,261.7 L1201.9,262.1 L1202.6,259.6 L1203.6,259.1 L1204.8,263.6 L1206.1,265.2 L1206.3,264.4 L1207.4,258.9 L1209.0,263.0 L1209.9,259.8 L1210.4,259.9 L1211.9,268.5 L1212.7,269.6 L1213.3,265.0 L1214.5,261.9 L1214.8,274.8 L1215.4,293.1 L1216.4,292.0 L1217.5,298.3 L1218.1,298.7 L1219.1,279.1 L1219.3,279.1 L1221.1,285.6 L1221.8,283.8 L1222.7,274.8 L1224.2,269.7 L1224.5,266.2 L1225.5,266.6 L1226.8,276.2 L1227.3,276.9 L1228.2,274.8 L1229.8,279.0 L1231.0,276.0 L1231.6,277.5 L1232.8,284.4 L1232.8,285.1 L1234.2,299.9 L1234.6,303.0 L1235.9,298.5 L1237.4,297.3 L1237.5,297.7 L1239.2,306.7 L1240.1,305.5 L1240.4,302.7 L1242.3,299.7 L1242.8,295.1 L1244.0,290.1 L1245.3,292.2 L1245.6,291.9 L1247.1,299.1 L1247.4,299.6 L1248.3,273.4 L1248.6,271.5 L1250.5,270.7 L1251.1,268.3 L1251.6,267.9 L1253.3,261.2 L1254.7,265.4 L1254.7,265.3 L1256.5,266.6 L1257.7,265.5 L1258.4,267.7 L1259.6,269.6 L1261.1,264.9 L1261.4,262.8 L1263.0,252.6 L1263.0,252.7 L1264.2,260.6 L1265.7,257.5 L1265.9,255.9 L1267.5,250.1 L1267.8,249.8 L1268.9,252.9 L1270.3,247.6 L1270.7,244.9 L1272.2,243.8 L1273.0,239.0 L1273.9,226.9 L1274.0,227.0 L1275.3,237.2 L1275.8,237.5 L1276.6,234.1 L1277.9,236.2 L1279.3,230.4 L1279.4,230.6 L1281.1,233.0 L1282.2,229.6 L1282.7,228.6 L1284.4,234.9 L1285.6,231.5 L1285.8,232.3 L1287.4,236.4 L1288.6,234.2 L1289.2,234.5 L1291.0,239.9 L1291.3,239.5 L1292.4,237.0 L1294.1,245.3 L1295.0,242.6 L1295.7,244.7 L1296.8,257.9 L1297.0,259.3 L1298.9,257.8 L1299.5,260.7 L1300.2,266.2 L1301.4,269.7 L1301.6,269.3 L1303.1,274.3 L1304.1,273.0 L1304.7,271.6 L1305.8,276.3 L1306.9,272.2 L1307.0,269.7 L1307.8,259.2 L1308.8,263.0 L1310.5,262.4 L1311.4,267.6 L1311.6,268.6 L1313.1,268.5 L1314.5,275.6 L1315.1,274.3 L1315.7,273.2 L1317.5,280.0 L1317.8,280.1 L1318.7,276.1 L1319.9,277.8 L1321.4,268.4 L1321.5,268.3 L1322.7,267.4 L1324.1,268.6 L1325.1,263.9 L1325.8,263.6 L1327.1,271.1 L1327.9,271.9 L1328.4,271.5 L1329.7,268.0 L1330.8,275.2 L1331.5,273.8 L1332.5,272.0 L1334.3,277.0 L1335.2,274.0 L1336.0,269.2 L1337.6,272.0 L1338.9,267.6 L1339.3,266.6 L1340.9,261.7 L1341.6,262.7 L1342.7,261.1 L1343.4,256.6 L1344.6,250.3 L1345.3,250.6 L1346.1,258.6 L1347.1,264.7 L1347.5,266.2 L1348.9,266.6 L1349.8,271.7 L1350.8,273.3 L1352.4,278.7 L1352.6,278.3 L1353.9,268.8 L1355.3,266.8 L1355.7,268.2 L1357.0,266.8 L1358.1,269.7 L1358.8,271.2 L1360.0,268.9 L1360.8,271.2 L1361.7,273.4 L1362.6,271.1 L1363.6,299.9 L1363.6,299.9 L1365.4,309.1 L1366.3,308.1 L1366.7,307.2 L1368.2,312.3 L1369.9,308.1 L1370.0,308.3 L1371.7,309.6 L1373.2,304.4 L1373.6,304.0 L1374.5,310.0 L1375.7,322.8 L1376.4,327.2 L1377.3,342.1 L1377.6,341.6 L1379.1,333.5 L1379.1,333.5 L1380.2,320.8 L1380.9,314.8 L1381.4,312.1 L1382.8,296.2 L1383.0,296.4 L1384.3,305.1 L1385.5,308.0 L1386.0,304.3 L1387.2,291.2 L1388.2,289.7 L1388.4,290.3 L1389.5,284.2 L1390.9,287.3 L1391.0,286.9 L1392.3,286.7 L1393.7,293.1 L1394.2,297.6 L1395.6,306.8 L1395.7,306.0 L1397.1,306.3 L1398.8,296.8 L1399.2,295.5 L1400.5,286.7 L1401.8,284.4 L1402.0,282.8 L1403.1,277.3 L1403.8,278.7 L1404.3,281.9 L1405.6,283.5 L1405.6,283.6 L1407.0,302.8 L1407.4,305.0 L1408.3,294.1 L1409.3,290.7 L1409.6,292.4 L1410.8,289.6 L1412.6,288.3 L1413.9,295.7 L1413.9,296.3 L1414.8,316.2 L1415.5,316.0 L1416.6,322.6 L1416.9,321.5 L1418.1,311.5 L1419.3,309.2 L1419.6,310.5 L1420.7,313.4 L1422.1,311.0 L1422.3,309.8 L1423.6,311.9 L1425.0,306.8 L1425.7,308.2 L1426.7,309.1 L1427.9,302.2 L1429.3,305.3 L1429.4,305.0 L1431.2,302.9 L1432.6,297.6 L1433.1,298.1 L1433.8,299.3 L1435.2,296.2 L1436.6,295.2 L1437.6,293.4 L1438.1,293.4 L1439.8,302.0 L1440.4,300.0 L1441.1,295.0 L1442.7,296.9 L1443.9,288.4 L1444.0,288.4 L1445.5,295.6 L1446.8,298.9 L1447.2,297.7 L1448.8,291.1 L1449.5,291.5 L1450.7,304.9 L1451.3,308.4 L1452.5,305.5 L1453.7,311.1 L1454.1,310.0 L1455.1,304.7 L1456.5,302.0 L1456.8,301.2 L1458.1,299.6 L1459.3,304.1 L1459.6,303.3 L1461.1,298.4 L1462.3,300.5 L1463.0,306.0 L1464.6,310.7 L1465.1,314.8 L1466.0,324.4 L1466.9,330.0 L1467.8,324.0 L1469.2,322.8 L1470.0,316.2 L1470.1,313.2 L1470.7,310.4 L1471.9,312.7 L1472.3,314.8 L1473.6,312.0 L1474.9,319.8 L1475.5,319.0 L1476.5,313.3 L1477.9,314.0 L1478.3,312.3 L1479.7,309.2 L1481.4,312.2 L1481.9,310.1 L1482.8,306.1 L1484.5,311.3 L1485.6,305.5 L1486.0,301.3 L1487.4,296.6 L1487.8,295.5 L1489.3,282.5 L1489.7,281.3 L1491.5,286.2 L1492.0,286.9 L1492.8,291.4 L1493.8,291.4 L1494.0,289.8 L1495.3,288.8 L1496.6,277.7 L1496.7,277.0 L1498.5,275.3 L1498.8,273.9 L1499.7,274.7 L1501.2,283.1 L1501.3,284.8 L1502.8,291.8 L1503.0,293.4 L1503.9,292.1 L1505.5,293.8 L1506.6,291.3 L1507.1,290.0 L1508.3,290.9 L1509.4,288.8 L1509.7,289.1 L1511.4,284.5 L1513.0,292.0 L1513.1,292.3 L1514.6,290.0 L1515.8,292.1 L1516.7,290.3 L1517.4,289.5 L1519.1,297.5 L1519.4,297.0 L1520.3,290.9 L1521.6,288.1 L1522.2,284.8 L1523.0,281.1 L1524.0,281.0 L1524.4,280.6 L1525.6,270.1 L1525.8,269.8 L1527.3,278.3 L1528.6,281.3 L1529.0,279.8 L1530.7,273.4 L1531.3,274.4 L1531.9,277.9 L1533.1,274.9 L1534.3,278.2 L1535.0,282.5 L1535.6,284.7 L1536.8,283.5 L1537.7,279.0 L1538.0,279.8 L1539.6,295.7 L1539.9,295.6 L1541.6,283.5 L1542.7,283.3 L1543.2,280.1 L1544.2,276.9 L1545.8,280.3 L1546.9,276.8 L1547.5,274.0 L1549.3,277.3 L1549.6,276.5 L1550.8,268.7 L1551.4,261.6 L1552.0,259.6 L1553.2,265.4 L1554.2,263.4 L1554.5,262.6 L1556.3,266.0 L1557.7,267.4 L1557.9,266.9 L1559.4,272.7 L1559.7,275.3 L1560.9,281.8 L1562.3,280.4 L1562.4,281.2 L1564.0,277.5 L1565.1,268.0 L1565.2,268.0 L1566.5,281.2 L1567.7,282.8 L1567.9,284.6 L1569.2,284.3 L1570.6,284.1 L1570.7,284.1 L1572.0,284.3 L1573.2,279.9 L1573.4,280.2 L1575.0,268.8 L1575.2,266.9 L1576.2,259.4 L1576.7,255.1 L1577.8,256.1 L1578.9,258.8 L1579.3,260.5 L1580.5,268.3 L1581.6,270.9 L1581.7,270.7 L1583.4,270.6 L1584.4,265.5 L1584.7,265.3 L1586.4,273.3 L1587.1,272.6 L1587.7,271.7 L1589.0,276.1 L1589.9,275.6 L1590.3,273.2 L1591.5,274.4 L1592.6,267.7 L1593.3,265.0 L1595.0,264.7 L1596.3,260.8 L1596.8,258.6 L1598.1,255.1 L1598.3,255.1 L1599.6,259.4 L1600.8,258.5 L1601.4,250.0 L1602.3,234.0 L1602.6,234.6 L1603.8,245.5 L1604.5,249.0 L1605.0,248.0 L1606.3,242.3 L1607.2,241.5 L1607.5,239.0 L1609.1,230.6 L1609.2,231.0 L1610.5,224.6 L1612.1,227.7 L1613.6,226.1 L1613.9,225.7 L1615.2,217.5 L1617.1,219.1 L1617.3,218.2 L1618.8,213.3 L1620.2,210.2 L1621.0,212.2 L1621.6,214.4 L1623.2,208.7 L1623.7,209.5 L1625.1,229.8 L1625.5,233.6 L1626.3,227.5 L1627.6,227.9 L1628.3,223.9 L1629.3,219.5 L1630.9,221.0 L1631.0,220.6 L1632.2,237.2 L1632.8,250.1 L1633.4,251.4 L1634.5,248.1 L1634.7,248.3 L1635.6,232.6 L1636.5,212.2 L1636.9,210.3 L1638.1,214.8 L1639.2,212.5 L1639.8,216.8 L1641.0,236.6 L1641.1,237.1 L1642.6,218.2 L1642.9,216.8 L1644.2,215.2 L1644.7,210.3 L1645.6,206.9 L1647.0,214.2 L1647.5,213.1 L1648.8,218.1 L1649.3,223.2 L1650.5,224.9 L1652.2,216.0 L1653.0,215.0 L1654.0,216.0 L1655.3,220.6 L1656.6,218.1 L1656.7,218.0 L1658.0,226.6 L1659.4,226.2 L1659.6,224.8 L1661.0,221.2 L1662.1,220.5 L1662.7,222.8 L1664.2,221.3 L1664.8,224.6 L1665.6,229.5 L1666.7,227.3 L1666.8,224.8 L1668.0,208.5 L1668.1,205.9 L1669.6,200.6 L1670.9,204.1 L1672.2,199.6 L1672.6,198.1 L1673.8,197.1 L1674.9,199.9 L1675.5,171.0 L1675.6,165.5 L1676.9,157.2 L1676.9,157.2 L1678.5,168.1 L1679.3,170.5 L1680.0,169.9 L1681.1,165.2 L1681.6,162.9 L1683.0,165.0 L1683.2,166.7 L1684.8,164.8 L1684.8,165.1 L1685.7,183.2 L1686.6,184.9 L1687.5,182.4 L1688.0,183.9 L1689.4,196.6 L1689.4,196.9 L1691.3,192.6 L1692.1,196.4 L1692.7,197.9 L1694.3,189.3 L1695.8,192.1 L1696.1,195.0 L1697.8,205.0 L1697.9,205.4 L1699.1,202.5 L1700.5,208.7 L1700.5,208.7 L1702.3,203.6 L1703.3,206.5 L1703.7,207.6 L1705.0,199.0 L1706.0,198.4 L1706.8,200.5 L1708.2,208.2 L1708.7,207.0 L1709.6,204.8 L1711.1,213.6 L1711.5,213.3 L1712.9,207.0 L1714.2,208.2 L1714.3,208.3 L1716.0,199.7 L1717.0,201.5 L1717.8,205.5 L1719.1,202.8 L1719.7,206.6 L1720.3,209.7 L1722.0,204.6 L1722.5,206.0 L1723.4,213.9 L1724.3,216.3 L1724.7,216.1 L1726.1,221.5 L1726.4,229.6 L1727.0,247.8 L1727.7,251.0 L1729.2,247.4 L1729.8,250.8 L1730.5,259.2 L1731.6,262.9 L1731.8,262.6 L1733.0,268.8 L1734.3,266.5 L1734.8,265.9 L1736.5,275.0 L1737.1,274.1 L1738.1,274.5 L1738.9,281.2 L1739.3,282.6 L1740.4,277.2 L1741.7,279.8 L1742.3,284.5 L1743.5,285.0 L1743.6,284.7 L1745.4,284.8 L1746.8,287.9 L1747.2,287.2 L1748.5,290.9 L1749.0,293.1 L1750.2,294.9 L1751.7,295.5 L1752.6,298.4 L1753.1,298.9 L1754.8,294.0 L1755.4,295.3 L1756.2,304.6 L1757.2,310.8 L1758.1,305.3 L1759.7,300.4 L1760.0,298.8 L1761.4,298.7 L1762.7,302.5 L1763.0,304.3 L1764.3,311.7 L1764.5,311.6 L1765.8,310.8 L1766.9,317.9 L1767.1,317.6 L1768.3,308.0 L1769.6,305.7 L1770.0,303.2 L1771.1,299.7 L1771.8,299.9 L1772.3,301.8 L1774.1,302.4 L1774.6,304.3 L1775.9,311.0 L1776.4,311.7 L1777.5,306.6 L1779.0,306.3 L1779.2,305.1 L1780.5,302.7 L1781.9,308.2 L1782.0,307.7 L1783.2,296.2 L1784.6,290.7 L1785.0,290.0 L1786.5,279.6 L1786.7,278.7 L1788.1,280.4 L1789.2,275.5 L1789.9,275.9 L1791.0,279.5 L1791.4,281.6 L1792.7,293.1 L1792.9,293.5 L1794.4,290.7 L1795.6,296.9 L1796.0,301.3 L1797.4,306.4 L1797.5,306.4 L1798.7,304.2 L1799.3,301.1 L1800.1,300.1 L1801.6,296.2 L1802.7,290.3 L1803.0,289.8 L1804.4,295.3 L1805.5,295.2 L1806.0,293.8 L1807.5,292.8 L1808.2,290.4 L1808.9,291.2 L1810.1,298.1 L1811.0,297.8 L1812.0,292.3 L1813.7,289.1 L1813.7,289.1 L1815.5,295.1 L1816.5,292.6 L1817.4,286.5 L1817.7,284.9 L1818.9,293.0 L1819.2,295.2 L1820.6,296.0 L1821.9,302.3 L1822.3,307.3 L1822.9,310.6 L1824.2,304.9 L1825.5,304.9 L1825.6,304.7 L1826.8,313.7 L1827.4,320.0 L1828.5,321.9 L1829.9,320.7 L1830.2,320.5 L1831.0,319.0 L1832.5,321.2 L1832.9,319.7 L1833.8,307.5 L1834.0,307.0 L1835.6,313.3 L1836.6,310.7 L1837.1,303.3 L1838.4,296.4 L1838.6,302.9 L1839.3,318.7 L1840.4,316.6 L1841.7,325.3 L1842.1,324.2 L1843.3,321.6 L1844.6,328.4 L1844.8,328.6 L1846.4,323.4 L1847.6,320.1 L1848.2,319.1 L1850.1,321.1 L1850.3,320.0 L1851.5,314.2 L1853.0,315.9 L1853.0,315.7 L1854.2,313.7 L1855.8,322.0 L1855.9,322.4 L1857.6,314.8 L1858.5,317.7 L1858.9,314.7 L1859.4,306.1 L1860.7,302.9 L1862.0,300.7 L1862.2,301.1 L1863.7,303.6 L1864.9,299.7 L1865.3,299.2 L1867.1,304.6 L1867.7,303.6 L1868.4,305.3 L1869.5,311.3 L1869.8,310.5 L1871.2,308.9 L1871.3,308.2 L1872.8,307.6 L1874.1,307.3 L1874.3,306.9 L1875.7,309.3 L1877.6,305.4 L1877.7,305.7 L1879.0,305.3 L1880.3,298.9 L1880.5,298.7 L1882.2,302.9 L1883.2,305.1 L1883.7,302.7 L1884.9,294.9 L1885.0,293.5 L1886.2,297.1 L1886.9,304.2 L1887.6,306.5 L1888.7,305.5 L1889.4,318.4 L1889.6,322.8 L1890.6,326.1 L1891.4,327.7 L1891.8,326.6 L1893.5,328.5 L1895.0,322.9 L1895.1,323.1 L1896.2,326.7 L1897.3,321.7 L1898.8,325.8 L1898.8,325.9 L1900.4,316.7 L1901.5,318.7 L1901.9,310.7 L1902.4,298.0 L1903.6,314.3 L1903.9,318.4 L1905.2,344.0 L1905.5,343.3 L1907.2,335.1 L1907.9,334.8 L1908.4,336.2 L1909.7,332.0 L1910.0,332.6 L1911.6,344.0 L1912.5,345.2 L1913.1,342.6 L1914.9,346.2 L1916.1,341.5 L1916.6,337.9 L1918.0,337.3 L1918.1,338.5 L1919.8,347.1 L1919.9,347.2 L1921.7,349.1 L1922.5,349.6 L1923.5,351.7 L1924.7,359.6 L1925.3,358.6 L1925.9,358.0 L1927.3,369.5 L1928.0,372.1 L1928.6,374.9 L1930.2,379.0 L1930.5,380.1 L1931.7,391.2 L1932.0,386.6 L1932.6,372.5 L1933.6,368.6 L1934.8,370.2 L1935.3,368.5 L1936.6,356.7 L1937.2,351.0 L1938.2,349.5 L1939.4,355.4 L1939.9,353.8 L1940.9,347.3 L1941.7,349.0 L1942.1,350.6 L1943.6,343.0 L1944.5,343.4 L1945.4,345.1 L1946.6,350.3 L1948.0,345.1 L1948.1,345.4 L1949.6,360.1 L1949.6,360.6 L1950.3,376.5 L1950.9,378.8 L1952.7,375.2 L1952.7,375.2 L1954.2,375.1 L1954.5,373.1 L1955.5,369.9 L1957.2,373.5 L1958.6,370.4 L1959.1,371.5 L1960.1,374.4 L1961.5,369.5 L1961.9,371.5 L1962.9,380.5 L1963.7,381.0 L1964.8,380.4 L1966.3,386.7 L1966.4,386.7 L1967.6,385.7 L1968.3,389.9 L1968.6,348.5 L1968.8,352.4 L1969.7,373.0 L1970.6,369.4 L1971.9,370.2 L1972.4,372.6 L1973.6,375.7 L1973.8,376.3 L1975.3,379.6 L1976.5,384.6 L1976.9,372.1 L1977.4,354.9 L1978.3,352.3 L1979.6,354.2 L1980.2,353.5 L1981.2,349.5 L1982.0,349.2 L1982.7,348.8 L1983.9,341.3 L1984.4,340.8 L1985.3,358.4 L1985.6,362.6 L1986.8,357.9 L1987.9,356.8 L1988.4,358.2 L1989.5,364.0 L1990.8,359.3 L1991.1,360.9 L1992.6,365.2 L1993.9,359.7 L1993.9,359.6 L1995.7,367.0 L1996.6,366.6 L1997.1,366.1 L1999.0,369.2 L1999.4,368.8 L2000.4,369.6 L2001.2,375.1 L2001.7,379.8 L2003.4,382.1 L2003.9,386.8 L2005.2,397.8 L2005.8,399.7 L2006.8,396.8 L2008.1,399.4 L2008.3,396.5 L2008.9,382.7 L2010.1,376.8 L2011.2,378.5 L2011.8,380.3 L2013.6,375.7 L2014.0,376.0 L2015.1,378.4 L2016.7,376.0 L2016.8,376.3 L2018.6,392.9 L2018.7,392.9 L2020.2,382.6 L2021.3,381.9 L2021.9,389.2 L2022.8,396.3 L2023.8,393.0 L2024.1,392.7 L2025.5,370.3 L2025.9,364.9 L2027.3,367.3 L2028.6,363.2 L2029.0,358.7 L2030.7,344.3 L2030.8,343.5 L2032.4,343.6 L2032.6,343.0 L2034.1,357.8 L2034.2,357.9 L2035.8,365.4 L2036.9,365.0 L2037.1,362.6 L2038.7,350.2 L2038.7,350.1 L2040.4,349.1 L2040.5,348.5 L2041.7,356.9 L2042.3,363.2 L2042.8,363.6 L2044.7,359.1 L2045.1,359.4 L2046.1,361.5 L2047.6,357.4 L2048.7,361.9 L2049.1,361.1 L2050.6,347.7 L2050.9,346.1 L2052.2,348.7 L2053.3,347.9 L2053.8,346.3 L2055.0,338.1 L2055.1,337.8 L2056.4,340.8 L2057.9,337.1 L2058.1,335.7 L2059.7,331.9 L2059.8,331.9 L2061.5,322.5 L2062.5,322.9 L2063.2,324.4 L2064.3,321.7 L2064.9,317.5 L2066.1,308.9 L2066.4,308.8 L2068.2,311.8 L2068.9,310.8 L2069.9,307.9 L2071.5,310.4 L2071.6,310.2 L2072.9,308.3 L2074.3,305.2 L2074.6,303.4 L2076.2,297.0 L2076.2,296.9 L2078.0,301.0 L2078.0,301.4 L2078.9,314.5 L2079.3,312.7 L2081.0,305.2 L2081.7,299.0 L2082.4,304.4 L2083.1,312.4 L2084.1,312.3 L2085.3,316.1 L2085.7,317.6 L2087.0,312.0 L2088.1,315.3 L2088.6,318.2 L2090.2,316.9 L2090.8,321.8 L2091.3,328.2 L2092.5,330.9 L2092.6,331.5 L2093.7,330.9 L2094.8,332.5 L2095.0,331.7 L2096.3,332.1 L2096.7,328.1 L2097.5,331.1 L2098.1,338.6 L2099.3,340.7 L2100.0,338.8 L2100.8,338.4 L2102.0,342.7 L2102.1,343.0" stroke="#f79838" stroke-width="1.6"/>
<path d="M16.1,499.6 L17.7,513.5 L18.3,517.2 L19.4,520.0 L20.9,520.2 L21.0,521.0 L22.1,515.3 L22.9,506.9 L23.8,486.7 L24.7,471.1 L25.4,470.7 L26.9,473.1 L27.4,471.3 L28.7,462.7 L30.2,459.1 L30.5,459.6 L31.8,457.3 L32.9,459.4 L33.2,460.6 L34.7,459.6 L35.7,465.0 L36.5,477.9 L37.5,489.3 L37.8,500.6 L38.4,524.1 L39.3,518.1 L40.9,509.0 L41.2,508.4 L42.8,515.9 L43.0,516.4 L44.0,523.4 L44.8,525.6 L45.2,524.4 L46.5,528.9 L47.6,527.6 L48.4,527.1 L49.6,533.1 L50.3,530.6 L50.8,527.2 L52.6,527.0 L53.0,525.1 L54.2,525.0 L55.7,532.5 L55.8,532.6 L57.4,526.3 L58.5,518.0 L58.9,513.7 L60.4,506.6 L60.5,507.2 L61.7,504.1 L63.0,510.8 L63.1,510.7 L64.2,525.2 L64.9,540.2 L65.7,543.7 L67.0,539.6 L68.4,543.9 L69.5,543.1 L70.1,527.8 L70.4,522.2 L71.4,526.2 L72.6,521.7 L73.2,522.9 L74.1,523.3 L75.7,519.1 L75.9,519.3 L76.9,524.1 L78.7,523.6 L79.6,527.3 L80.3,528.4 L81.6,526.2 L83.1,523.7 L83.2,523.5 L84.3,524.2 L86.0,526.4 L86.2,526.6 L87.5,532.3 L89.0,529.6 L89.6,532.7 L90.1,535.1 L91.3,534.6 L93.1,533.1 L93.3,533.6 L94.8,537.4 L95.1,536.4 L96.0,502.8 L96.3,502.2 L97.7,511.0 L98.8,509.4 L99.4,507.6 L101.1,507.1 L102.4,510.0 L102.9,509.3 L104.6,500.1 L105.2,499.9 L106.1,491.9 L106.2,492.3 L107.3,490.6 L108.5,497.3 L108.8,497.4 L109.7,482.2 L110.0,481.2 L111.6,482.8 L112.9,474.9 L113.4,475.6 L114.3,475.5 L115.9,467.0 L117.1,465.4 L117.5,464.8 L119.2,453.9 L119.8,454.6 L120.5,459.7 L121.9,464.3 L122.5,464.2 L123.3,460.5 L124.8,463.1 L125.3,461.3 L126.2,443.5 L126.6,442.4 L128.1,445.9 L128.9,443.6 L129.4,439.0 L130.4,431.4 L130.6,431.1 L130.8,430.1 L132.3,422.1 L133.5,421.5 L134.1,423.4 L135.2,422.4 L136.3,425.7 L136.4,425.7 L137.8,418.3 L139.0,421.5 L139.1,421.6 L140.5,412.1 L141.7,408.2 L141.9,408.4 L143.4,414.0 L144.5,413.8 L145.1,411.6 L146.3,411.5 L146.7,414.4 L147.8,420.3 L148.3,409.3 L149.1,397.4 L150.0,386.5 L150.0,386.5 L151.6,382.0 L153.4,387.2 L154.5,383.8 L155.2,378.8 L156.3,377.8 L156.4,377.3 L157.7,371.6 L159.1,375.5 L159.6,378.4 L161.3,379.7 L161.9,382.0 L163.0,382.9 L164.6,379.7 L164.8,377.7 L166.4,366.3 L166.5,366.4 L167.8,373.7 L169.2,372.4 L169.5,371.5 L171.2,374.4 L171.9,370.7 L172.4,369.0 L173.8,376.9 L174.7,374.6 L175.2,381.7 L175.9,396.1 L176.8,392.9 L178.0,381.7 L178.3,380.0 L179.8,383.9 L181.1,387.3 L181.2,387.6 L182.8,385.8 L184.5,392.8 L185.6,391.2 L185.7,390.7 L187.3,387.6 L188.4,379.2 L188.9,376.6 L190.2,378.8 L191.1,375.6 L191.7,359.9 L191.8,359.9 L193.3,367.7 L193.5,367.7 L194.8,378.0 L195.0,377.5 L196.3,374.7 L197.5,378.3 L198.4,374.2 L198.9,373.4 L200.6,381.9 L201.2,380.5 L201.9,377.9 L203.6,382.8 L205.3,380.0 L205.8,381.5 L206.5,382.3 L208.1,375.1 L209.2,373.7 L210.3,375.1 L210.6,375.6 L212.5,372.4 L214.0,364.8 L215.7,367.9 L215.8,367.1 L217.1,360.2 L218.6,362.7 L218.6,362.5 L220.4,348.2 L220.5,348.2 L222.1,353.5 L222.2,353.1 L223.3,352.7 L224.1,356.8 L225.0,349.9 L226.6,341.2 L226.8,339.9 L228.0,343.8 L229.5,345.5 L229.5,346.0 L230.6,344.1 L231.4,338.3 L232.1,337.3 L233.7,345.8 L234.1,345.0 L235.1,338.7 L236.5,341.8 L237.8,334.4 L239.1,336.3 L239.6,333.4 L240.3,329.5 L241.4,331.6 L241.5,332.1 L242.7,328.6 L243.8,335.1 L244.2,334.7 L245.7,326.0 L246.9,326.2 L246.9,325.8 L247.8,307.5 L248.1,306.5 L249.6,306.8 L250.2,305.4 L250.9,306.4 L252.1,314.5 L252.4,313.9 L253.2,314.1 L254.4,319.0 L254.6,320.8 L255.7,329.9 L256.1,331.9 L257.5,331.8 L258.8,333.4 L259.0,334.2 L260.8,336.6 L261.5,340.2 L262.4,342.4 L264.1,344.1 L264.3,343.8 L265.5,355.8 L265.6,356.6 L267.0,357.6 L268.6,351.1 L268.9,350.7 L269.8,345.7 L270.3,341.8 L271.5,364.0 L272.5,383.4 L273.3,383.1 L274.7,388.2 L276.1,389.8 L277.3,385.6 L278.0,387.5 L279.0,382.8 L279.5,377.6 L280.6,406.2 L280.7,412.1 L282.4,417.5 L284.1,413.0 L284.4,414.3 L285.4,412.9 L286.2,404.4 L286.6,401.4 L288.1,400.4 L288.4,400.4 L290.1,389.1 L290.8,389.0 L291.9,394.2 L293.1,392.1 L294.4,397.7 L294.5,397.5 L295.6,394.9 L297.1,401.5 L297.2,401.7 L298.7,399.6 L300.0,392.7 L300.1,392.6 L301.3,395.7 L303.2,404.1 L303.6,404.4 L304.6,399.4 L306.1,393.1 L307.3,386.2 L307.9,381.3 L309.1,379.4 L309.1,380.1 L310.7,400.4 L310.9,404.0 L312.2,411.4 L313.5,408.4 L314.6,415.1 L314.7,415.8 L316.4,414.2 L316.6,412.6 L317.8,406.7 L318.2,401.7 L319.3,396.4 L320.8,399.6 L321.9,397.0 L322.1,395.9 L323.7,393.3 L324.6,389.1 L324.9,388.0 L326.6,381.5 L327.4,381.1 L327.8,382.8 L329.3,381.2 L330.1,385.0 L331.0,389.5 L332.5,393.4 L333.8,392.6 L334.2,393.0 L335.9,405.1 L337.3,405.4 L337.4,406.4 L339.1,411.4 L339.3,411.5 L340.9,408.4 L342.4,410.6 L342.9,408.9 L343.9,382.8 L344.3,381.6 L345.7,382.7 L346.6,384.9 L347.0,385.2 L348.4,378.9 L348.7,378.0 L349.9,382.1 L351.2,377.5 L352.9,376.1 L353.0,376.1 L354.7,366.4 L354.8,366.2 L356.0,370.4 L357.3,364.9 L358.5,367.4 L358.7,366.6 L360.3,352.4 L360.6,352.2 L361.8,359.0 L363.1,358.0 L363.4,356.4 L364.9,353.2 L365.2,355.0 L366.5,356.5 L367.6,364.4 L368.4,366.8 L370.2,361.7 L371.3,365.3 L371.4,364.1 L373.1,340.8 L373.1,340.8 L374.7,337.9 L376.5,341.6 L376.8,340.5 L377.8,341.1 L379.0,349.0 L379.5,353.3 L380.3,372.0 L381.3,388.0 L382.0,385.4 L383.7,386.7 L384.1,385.2 L385.2,379.4 L386.5,381.9 L387.7,373.7 L387.7,373.6 L389.1,371.8 L390.5,372.9 L391.4,370.8 L392.3,370.4 L393.8,373.7 L395.1,371.8 L395.2,373.2 L396.7,392.9 L397.8,402.6 L398.3,406.7 L400.0,415.9 L400.0,395.2 L400.0,415.3 L400.1,415.4 L401.3,427.7 L401.9,428.3 L402.9,426.4 L404.4,429.5 L404.6,430.9 L405.9,427.1 L406.5,421.6 L407.4,407.4 L408.3,397.7 L409.1,403.3 L410.1,402.1 L410.4,399.3 L411.9,395.1 L412.2,397.4 L413.7,406.2 L413.8,407.2 L415.5,433.4 L415.6,434.8 L416.9,436.1 L417.4,440.1 L418.2,447.0 L419.8,451.8 L420.0,448.0 L421.8,427.8 L422.0,424.7 L423.0,405.0 L423.8,391.6 L424.8,392.0 L426.4,385.8 L426.6,386.0 L427.5,390.5 L428.9,391.2 L429.3,392.3 L430.6,382.3 L431.2,378.9 L432.2,386.7 L434.1,391.1 L434.8,396.4 L435.5,390.6 L436.9,370.6 L437.6,366.7 L438.4,369.1 L440.2,361.1 L440.3,361.4 L441.5,372.4 L442.8,374.2 L443.0,376.0 L444.1,372.3 L444.9,364.1 L445.6,365.8 L447.4,380.4 L447.6,380.9 L448.6,386.7 L449.4,393.9 L450.4,389.1 L451.6,387.4 L452.2,383.0 L452.9,382.0 L454.6,387.4 L454.9,387.3 L456.0,371.3 L457.7,355.2 L457.7,355.3 L459.1,352.5 L460.4,358.7 L460.4,358.9 L462.1,363.5 L463.2,372.8 L463.7,376.6 L465.5,379.0 L465.9,381.8 L467.3,382.4 L468.6,375.1 L469.1,375.5 L470.4,384.3 L471.4,389.0 L472.0,393.2 L473.2,395.8 L473.5,391.8 L474.9,378.7 L475.0,377.0 L476.1,383.3 L477.4,395.1 L477.9,391.3 L479.6,380.4 L479.7,380.7 L481.3,383.5 L482.4,388.8 L482.9,393.9 L484.2,398.8 L484.3,399.4 L486.0,422.2 L486.0,422.6 L487.4,427.9 L487.9,432.6 L488.9,435.5 L490.1,435.7 L490.6,433.7 L491.6,424.8 L492.4,421.1 L492.9,422.7 L494.3,423.8 L494.4,422.2 L495.7,417.7 L496.1,413.6 L497.0,435.2 L497.0,435.4 L497.9,463.2 L498.8,488.2 L498.8,489.0 L500.1,480.3 L500.7,481.3 L501.8,479.2 L502.5,472.5 L503.3,467.9 L504.8,471.2 L505.2,468.7 L506.1,467.8 L507.1,475.2 L507.3,472.4 L508.0,457.2 L509.0,450.3 L510.6,450.0 L510.7,449.6 L512.3,457.6 L512.5,459.3 L514.2,458.0 L515.3,452.6 L515.4,449.9 L516.2,435.8 L516.7,436.1 L517.9,441.5 L519.3,436.8 L519.9,438.6 L520.6,438.8 L522.3,432.1 L522.6,431.8 L523.6,427.4 L525.1,417.4 L525.3,416.5 L526.4,428.0 L527.2,431.2 L527.8,429.5 L529.0,435.2 L529.2,432.5 L530.5,404.0 L530.5,404.0 L531.8,411.9 L533.4,411.3 L533.6,412.6 L534.8,415.2 L536.3,407.9 L536.3,407.9 L537.9,413.4 L539.1,421.5 L539.2,423.2 L540.7,440.8 L540.9,442.9 L542.1,433.4 L542.7,432.1 L543.8,432.7 L545.4,425.2 L545.5,425.4 L546.7,390.4 L546.9,383.8 L548.6,379.0 L549.8,383.9 L551.0,382.1 L551.3,382.4 L552.8,389.2 L552.8,389.2 L554.4,380.6 L554.6,380.2 L556.0,382.4 L557.1,376.2 L558.6,380.7 L559.2,379.2 L560.1,353.5 L560.3,353.3 L561.7,357.9 L563.2,355.1 L563.8,355.6 L564.5,356.0 L566.0,361.9 L566.5,361.3 L567.7,333.5 L567.8,332.4 L569.0,337.5 L570.6,334.9 L571.1,337.0 L572.3,335.4 L572.9,330.9 L573.8,332.6 L575.4,343.3 L575.6,344.7 L576.6,315.7 L577.2,316.6 L578.9,314.9 L580.2,313.3 L580.7,316.0 L582.0,330.3 L582.2,327.9 L583.5,294.5 L583.6,294.4 L584.9,287.0 L586.3,289.4 L586.6,289.3 L587.5,277.2 L588.1,276.8 L589.4,271.9 L590.7,273.5 L591.2,272.9 L592.2,259.3 L593.0,246.2 L593.9,245.2 L594.0,245.2 L595.2,249.7 L595.8,255.2 L597.0,257.5 L597.6,255.4 L598.2,254.2 L600.0,258.2 L600.4,256.7 L601.6,252.5 L603.0,259.4 L603.1,259.4 L604.2,285.7 L604.4,289.2 L605.6,257.3 L605.8,252.5 L607.0,256.8 L608.3,251.7 L608.6,252.7 L610.0,290.2 L610.4,298.9 L611.8,292.2 L613.2,292.9 L613.5,288.6 L614.7,267.1 L615.0,263.6 L616.1,267.0 L618.0,259.5 L618.6,261.0 L619.7,254.7 L620.5,247.5 L621.5,243.3 L622.6,235.1 L623.2,233.0 L624.1,231.6 L625.7,230.8 L626.0,229.9 L627.5,228.0 L628.8,232.6 L629.6,233.3 L630.5,237.3 L631.4,238.1 L631.8,239.5 L633.3,252.7 L633.5,253.4 L635.0,252.9 L636.0,255.5 L636.2,255.4 L637.9,248.2 L638.8,249.0 L639.6,252.9 L641.4,250.9 L642.4,255.3 L643.1,258.6 L644.3,260.6 L644.8,257.2 L646.5,247.7 L647.0,242.9 L647.9,241.6 L649.5,249.5 L649.7,248.9 L651.0,249.4 L651.9,257.4 L652.5,280.2 L652.5,281.2 L653.7,285.4 L654.9,295.7 L655.2,296.5 L656.2,293.3 L657.7,297.9 L658.9,295.1 L659.6,292.6 L661.2,295.0 L661.6,293.6 L662.7,275.9 L663.5,266.7 L664.0,266.8 L665.5,257.9 L666.2,257.7 L666.7,257.2 L668.0,247.6 L668.1,247.3 L669.3,246.8 L670.8,239.5 L670.9,239.7 L672.2,246.0 L673.5,248.0 L673.5,248.0 L674.8,254.8 L676.3,254.1 L676.6,254.6 L678.1,262.8 L678.2,263.0 L679.4,260.1 L681.1,267.6 L681.7,266.7 L682.7,272.3 L683.6,277.6 L684.1,275.4 L685.8,275.7 L686.3,273.5 L687.3,265.3 L688.1,259.4 L688.7,258.7 L689.8,262.9 L691.4,262.7 L692.7,257.7 L692.9,256.6 L694.7,256.8 L696.1,249.7 L696.4,250.2 L697.8,247.4 L698.2,243.9 L699.1,228.1 L699.2,228.0 L700.7,231.1 L701.9,226.5 L702.0,224.9 L703.4,221.9 L704.6,210.3 L705.0,210.8 L706.4,223.3 L707.4,226.4 L708.1,213.4 L709.2,194.1 L709.9,194.0 L711.0,198.8 L711.1,198.1 L712.4,170.4 L712.8,163.9 L713.4,155.3 L713.7,156.5 L715.4,153.4 L716.5,156.4 L717.2,156.8 L718.9,149.6 L720.1,153.6 L720.2,153.4 L721.5,155.4 L722.9,156.0 L722.9,156.1 L724.2,163.4 L725.6,164.9 L726.0,161.0 L727.5,150.5 L727.7,154.0 L729.2,165.2 L729.3,167.4 L730.4,173.3 L731.1,173.0 L731.7,167.1 L733.1,152.4 L733.9,147.6 L734.8,174.3 L734.9,174.5 L736.5,173.3 L736.6,173.9 L737.8,184.1 L739.4,188.9 L739.6,187.7 L741.2,187.7 L742.1,181.3 L743.0,185.9 L743.9,199.6 L744.1,200.9 L745.3,201.2 L746.7,199.4 L747.1,201.4 L748.5,216.7 L748.6,217.0 L749.9,216.8 L751.2,213.3 L751.5,213.6 L753.1,221.1 L753.3,225.5 L754.0,237.9 L754.9,251.8 L755.0,252.6 L756.6,270.5 L756.7,271.3 L758.3,266.7 L759.5,271.3 L760.1,272.4 L762.0,263.3 L762.2,263.8 L763.7,256.3 L764.1,252.4 L764.9,250.9 L766.2,256.2 L766.8,255.5 L768.1,247.8 L769.5,248.2 L769.7,251.6 L770.8,262.6 L771.3,260.9 L772.8,266.3 L774.1,261.1 L774.2,260.9 L776.0,265.5 L777.8,258.5 L777.8,258.1 L779.1,261.7 L780.7,254.7 L781.4,253.6 L782.0,254.9 L783.1,262.1 L784.2,260.8 L784.7,259.7 L786.3,265.9 L786.9,265.9 L787.6,270.5 L788.7,282.1 L789.4,300.2 L789.7,304.8 L790.7,304.8 L791.5,309.2 L792.5,319.3 L793.3,323.1 L793.7,328.7 L794.2,339.7 L795.1,339.8 L796.8,331.3 L797.0,331.7 L797.9,348.4 L798.3,351.7 L798.4,364.3 L799.3,360.2 L800.5,360.7 L801.2,358.6 L801.7,362.3 L803.0,370.8 L803.4,369.7 L805.1,371.9 L805.8,368.2 L806.7,371.4 L807.6,377.6 L808.4,383.8 L809.5,399.4 L810.3,403.4 L811.2,376.8 L811.3,376.8 L812.4,386.0 L813.1,392.0 L814.0,371.7 L814.2,372.2 L815.9,368.8 L816.7,371.5 L817.6,365.5 L818.6,353.9 L819.2,351.3 L820.7,354.6 L821.3,352.9 L822.4,345.7 L823.5,342.2 L823.8,340.9 L825.3,338.3 L826.2,331.2 L827.1,325.1 L828.6,323.2 L829.0,320.5 L830.3,309.8 L831.7,303.8 L832.1,300.9 L833.6,288.0 L833.9,287.8 L835.1,281.5 L836.3,285.3 L836.8,286.7 L837.9,280.5 L839.4,281.0 L840.0,281.2 L841.1,285.7 L842.7,285.8 L842.9,287.8 L844.4,311.4 L844.5,312.2 L845.7,305.7 L847.3,304.7 L847.6,305.6 L848.8,300.4 L850.6,308.2 L850.9,307.3 L852.1,298.9 L853.5,298.0 L853.7,296.9 L854.8,289.2 L856.4,280.2 L856.6,280.3 L857.8,286.1 L859.2,284.7 L859.6,281.1 L860.8,279.2 L861.0,277.9 L862.3,260.2 L862.8,251.1 L863.8,246.7 L864.9,251.0 L866.3,249.7 L867.6,244.3 L868.3,245.2 L868.9,248.3 L870.8,250.9 L871.0,252.4 L872.1,259.0 L873.4,258.0 L873.8,260.6 L874.9,274.9 L875.6,279.0 L876.0,278.9 L877.4,284.5 L877.9,286.4 L879.3,287.9 L879.6,290.1 L880.9,275.9 L881.1,271.9 L882.2,259.6 L883.6,247.3 L883.9,245.8 L885.4,245.5 L886.6,237.7 L886.7,236.8 L888.2,230.6 L888.4,227.5 L889.6,222.2 L891.2,225.5 L891.2,225.5 L892.4,221.0 L893.7,228.1 L893.9,227.6 L895.1,215.0 L895.7,212.6 L896.7,217.5 L898.5,217.9 L898.5,217.7 L899.9,213.2 L901.2,216.4 L901.6,216.3 L903.3,209.6 L904.0,203.8 L904.6,202.7 L906.0,210.6 L906.7,210.8 L907.5,199.5 L908.5,191.1 L908.8,191.5 L910.0,186.4 L910.4,187.1 L911.2,167.3 L911.3,165.7 L912.9,162.3 L914.4,167.1 L915.6,161.7 L917.1,167.9 L917.7,165.8 L918.8,164.0 L920.4,173.4 L920.4,173.3 L922.0,170.9 L923.2,178.0 L923.3,178.3 L924.5,173.8 L925.9,174.3 L926.2,175.6 L927.6,177.5 L928.7,183.8 L928.8,184.8 L930.0,188.0 L931.4,189.7 L931.6,186.7 L933.1,172.4 L933.2,170.7 L934.8,163.5 L936.0,161.0 L936.3,161.2 L937.6,153.9 L937.8,154.4 L938.8,159.2 L940.0,156.9 L940.1,159.7 L940.6,159.0 L942.4,166.9 L943.6,164.9 L943.7,165.3 L945.0,167.6 L946.3,166.7 L946.5,167.2 L947.7,157.9 L948.3,150.1 L949.4,144.1 L951.0,144.6 L951.2,145.7 L952.4,147.1 L953.8,154.9 L953.9,153.1 L954.7,141.8 L955.8,144.8 L957.4,143.5 L957.4,143.7 L959.2,150.3 L960.2,150.1 L961.0,146.3 L962.0,148.7 L962.2,153.2 L962.9,160.3 L963.4,159.1 L965.1,167.5 L965.7,167.1 L966.5,165.8 L968.1,166.2 L969.3,171.0 L969.8,173.7 L971.1,178.3 L972.1,180.0 L972.3,179.7 L974.0,181.7 L975.9,179.2 L976.6,180.6 L977.6,194.2 L977.9,198.0 L979.3,201.4 L980.3,204.0 L980.6,205.5 L982.2,219.7 L983.0,222.9 L983.9,213.7 L984.9,206.0 L985.4,204.2 L986.6,196.6 L986.7,196.3 L988.4,196.8 L990.1,194.2 L991.3,195.6 L991.7,206.9 L992.2,219.4 L993.0,220.7 L994.8,229.9 L994.9,229.9 L996.3,220.2 L996.8,219.9 L997.8,220.7 L999.0,214.4 L999.5,214.5 L1000.3,210.1 L1001.3,198.6 L1001.7,194.6 L1003.2,190.1 L1003.2,190.4 L1004.4,191.3 L1005.8,186.7 L1006.8,189.9 L1007.1,189.7 L1008.7,181.4 L1009.6,178.7 L1010.0,179.1 L1011.4,186.0 L1012.9,184.2 L1013.2,185.3 L1014.3,186.6 L1015.7,184.3 L1016.0,183.3 L1017.0,179.1 L1018.2,185.8 L1019.6,185.7 L1019.7,185.7 L1021.3,184.1 L1022.4,188.6 L1022.6,193.2 L1023.6,208.9 L1023.7,208.2 L1025.5,210.0 L1026.0,207.1 L1027.2,190.3 L1028.8,176.5 L1028.9,176.4 L1030.7,165.7 L1031.5,166.0 L1032.1,167.7 L1033.6,161.9 L1035.0,165.6 L1035.2,164.9 L1036.5,162.9 L1037.9,170.7 L1037.9,170.6 L1039.7,156.4 L1039.7,156.2 L1041.2,160.0 L1042.5,158.8 L1042.8,164.0 L1043.4,174.1 L1044.6,173.7 L1045.2,178.1 L1046.1,181.1 L1047.5,174.3 L1048.8,177.6 L1048.9,177.4 L1050.6,167.9 L1051.6,165.2 L1052.3,166.1 L1054.0,163.2 L1055.2,164.4 L1055.3,164.9 L1056.4,163.6 L1057.1,157.4 L1058.0,152.4 L1059.3,152.1 L1059.9,151.3 L1061.1,152.2 L1062.6,147.0 L1062.8,146.9 L1064.2,156.2 L1065.3,154.8 L1065.5,154.4 L1067.1,163.1 L1068.6,161.2 L1069.0,163.5 L1069.8,165.0 L1071.2,158.0 L1072.6,159.3 L1072.7,159.3 L1074.5,160.2 L1074.5,160.1 L1075.4,175.7 L1075.8,176.0 L1077.5,175.3 L1078.1,178.0 L1079.2,185.8 L1080.0,187.8 L1080.8,183.7 L1082.5,185.9 L1083.6,181.8 L1084.0,182.7 L1085.2,191.5 L1085.5,192.0 L1086.8,183.5 L1088.1,182.5 L1088.2,181.2 L1089.2,189.2 L1089.5,192.7 L1090.5,195.4 L1091.9,197.9 L1092.1,203.2 L1092.8,219.5 L1093.4,214.3 L1094.6,212.4 L1095.5,206.3 L1096.4,213.2 L1097.4,223.7 L1098.0,226.2 L1099.5,223.9 L1100.1,227.9 L1100.7,231.4 L1102.2,228.6 L1102.8,230.1 L1102.9,228.7 L1103.5,234.2 L1104.6,240.1 L1104.8,241.6 L1105.9,256.1 L1106.6,260.4 L1107.2,258.0 L1109.1,260.6 L1110.7,254.7 L1111.2,255.5 L1112.3,252.6 L1113.9,244.1 L1114.1,244.0 L1115.2,246.6 L1116.6,245.6 L1116.9,247.3 L1118.5,263.5 L1118.7,264.3 L1120.3,263.3 L1121.7,271.7 L1122.1,271.4 L1123.5,272.9 L1124.8,283.7 L1124.9,283.7 L1126.3,277.6 L1127.6,281.3 L1128.0,283.9 L1129.5,288.1 L1131.0,290.9 L1131.3,291.0 L1132.6,289.3 L1134.0,295.0 L1134.2,288.0 L1134.9,263.5 L1135.7,260.4 L1137.4,262.6 L1137.7,262.0 L1138.7,263.4 L1140.0,264.0 L1140.4,265.8 L1141.5,271.0 L1142.7,272.2 L1143.2,274.8 L1143.9,278.1 L1145.3,274.3 L1146.5,281.8 L1147.7,279.2 L1147.7,279.3 L1148.6,265.2 L1149.1,276.1 L1149.6,287.5 L1150.9,282.2 L1152.2,282.2 L1153.2,275.2 L1153.7,272.5 L1155.4,275.6 L1156.0,273.3 L1157.1,271.7 L1158.9,276.3 L1159.6,274.7 L1160.6,273.7 L1161.8,281.1 L1162.4,282.4 L1163.0,284.5 L1164.9,285.8 L1165.1,287.1 L1166.3,290.3 L1168.0,285.4 L1168.8,287.7 L1169.5,291.2 L1170.8,288.8 L1172.2,297.8 L1172.4,297.4 L1173.4,292.9 L1175.0,294.5 L1176.2,289.4 L1177.5,294.0 L1177.9,292.1 L1178.9,285.5 L1179.7,285.0 L1180.4,272.8 L1180.7,267.2 L1181.7,267.5 L1183.4,274.7 L1183.5,274.8 L1185.3,270.0 L1186.5,274.3 L1188.0,268.5 L1188.2,267.8 L1189.4,271.4 L1190.8,266.5 L1191.6,268.2 L1192.1,268.3 L1193.7,261.3 L1194.4,260.0 L1195.3,270.3 L1195.5,270.7 L1196.6,272.3 L1198.0,280.0 L1198.0,280.0 L1199.2,281.0 L1199.9,285.2 L1200.6,286.3 L1202.4,282.9 L1202.6,282.1 L1203.9,280.0 L1205.7,284.7 L1206.3,283.8 L1207.2,281.6 L1208.6,284.7 L1209.9,282.8 L1210.0,282.8 L1211.4,289.0 L1212.5,285.4 L1213.6,291.7 L1213.8,290.6 L1214.5,283.0 L1215.4,310.7 L1215.4,311.7 L1217.1,313.4 L1218.1,310.4 L1218.9,290.1 L1219.1,287.4 L1220.1,294.4 L1221.6,296.2 L1221.8,296.2 L1222.7,288.1 L1224.5,281.0 L1224.6,281.3 L1225.8,278.3 L1227.3,287.3 L1227.5,288.3 L1229.4,284.3 L1231.0,290.3 L1231.2,296.1 L1232.4,320.4 L1232.9,313.6 L1233.7,307.6 L1234.2,310.3 L1235.5,307.9 L1235.8,306.2 L1237.5,303.3 L1238.3,303.8 L1239.1,309.3 L1240.7,308.8 L1241.0,309.6 L1242.2,304.2 L1243.5,303.2 L1243.8,301.0 L1244.9,304.9 L1246.1,317.7 L1246.5,320.3 L1247.4,295.1 L1247.8,292.5 L1249.2,289.0 L1249.5,288.3 L1251.1,274.9 L1251.1,274.6 L1252.7,275.9 L1254.1,280.4 L1254.7,278.3 L1255.9,275.5 L1257.4,280.7 L1258.4,279.0 L1259.0,276.4 L1260.4,274.8 L1261.1,275.7 L1262.1,275.3 L1263.6,265.4 L1263.9,265.0 L1265.2,273.7 L1266.5,281.1 L1266.6,281.2 L1267.6,282.2 L1268.4,288.7 L1269.3,266.5 L1269.4,263.4 L1270.5,256.7 L1271.7,261.4 L1272.1,259.0 L1273.1,246.2 L1273.9,243.6 L1274.4,246.4 L1275.9,243.0 L1277.0,246.5 L1277.6,245.9 L1278.6,243.1 L1280.5,246.8 L1282.0,241.9 L1282.2,242.0 L1283.5,245.2 L1285.3,245.2 L1285.8,246.7 L1287.0,248.9 L1288.4,243.4 L1289.5,245.8 L1289.7,246.9 L1290.9,245.5 L1292.2,250.2 L1292.7,249.2 L1294.1,242.5 L1294.5,250.8 L1295.3,268.6 L1295.7,268.2 L1297.0,256.5 L1297.7,255.5 L1298.6,256.1 L1300.2,249.3 L1300.8,248.9 L1301.8,254.5 L1302.3,254.7 L1303.1,252.4 L1304.5,257.4 L1305.9,252.8 L1306.0,251.9 L1306.9,234.3 L1307.3,238.3 L1308.9,240.5 L1309.6,246.6 L1310.3,250.4 L1311.4,248.0 L1313.2,256.4 L1313.3,256.3 L1314.8,253.9 L1316.1,260.9 L1316.9,261.0 L1317.9,257.4 L1319.4,258.4 L1320.6,256.8 L1321.1,256.4 L1322.9,247.5 L1324.6,249.1 L1325.1,247.6 L1326.4,248.6 L1327.9,257.0 L1328.0,257.4 L1329.4,253.2 L1331.0,253.1 L1331.5,254.7 L1332.6,258.1 L1333.9,253.6 L1335.1,257.5 L1335.2,257.7 L1336.5,256.9 L1338.1,249.5 L1338.9,248.5 L1339.4,248.7 L1341.1,245.0 L1341.6,246.0 L1342.6,244.9 L1343.4,238.7 L1344.0,235.2 L1345.2,235.5 L1345.3,235.4 L1346.8,240.9 L1347.1,243.8 L1348.6,258.4 L1349.7,261.9 L1349.8,263.0 L1351.5,268.0 L1352.6,266.6 L1353.1,263.2 L1354.6,256.7 L1355.3,255.1 L1355.9,257.1 L1357.3,255.9 L1358.1,259.7 L1358.6,262.4 L1360.2,259.5 L1360.8,263.3 L1361.4,266.4 L1363.2,260.7 L1363.6,261.6 L1364.1,296.1 L1365.0,288.3 L1366.3,268.9 L1366.3,268.9 L1367.5,272.1 L1369.0,268.8 L1370.0,272.2 L1370.8,273.9 L1372.1,268.2 L1373.3,271.7 L1373.6,271.3 L1374.9,280.2 L1376.4,285.2 L1376.8,293.6 L1377.3,305.3 L1378.1,304.3 L1379.1,298.2 L1379.9,288.4 L1380.9,280.7 L1381.3,280.6 L1383.0,269.5 L1383.7,267.7 L1384.8,271.3 L1386.0,270.8 L1386.4,273.2 L1387.3,269.4 L1388.2,257.7 L1388.5,256.4 L1390.4,259.5 L1391.0,257.7 L1392.1,258.5 L1393.7,266.0 L1393.9,267.6 L1395.6,275.0 L1395.6,274.5 L1397.0,272.2 L1398.8,272.5 L1399.2,271.5 L1400.3,264.5 L1402.0,250.0 L1402.0,249.7 L1403.4,252.2 L1403.8,250.4 L1404.9,247.5 L1406.5,252.0 L1406.8,257.0 L1408.1,275.2 L1408.4,280.2 L1409.4,274.0 L1410.2,265.0 L1410.6,264.1 L1411.9,268.6 L1413.2,263.6 L1413.9,266.3 L1414.8,282.6 L1415.7,292.8 L1416.1,295.8 L1417.4,311.9 L1417.5,312.7 L1418.5,298.0 L1419.3,291.5 L1420.2,295.7 L1421.9,298.3 L1422.1,298.7 L1423.3,297.8 L1424.7,301.2 L1424.8,300.7 L1426.4,299.2 L1428.2,306.2 L1428.5,305.5 L1429.4,301.6 L1430.9,304.4 L1432.1,300.2 L1433.1,303.6 L1433.5,304.9 L1434.9,299.8 L1436.4,299.4 L1437.6,301.3 L1438.2,308.8 L1438.5,311.0 L1440.0,301.0 L1441.3,298.2 L1441.8,298.6 L1443.1,292.8 L1444.3,292.9 L1444.9,293.4 L1446.0,300.6 L1446.8,302.2 L1447.2,299.3 L1448.6,297.7 L1449.5,291.9 L1450.3,307.0 L1451.3,333.4 L1451.5,332.4 L1452.9,311.2 L1454.1,301.4 L1454.7,308.2 L1456.1,315.7 L1456.8,325.8 L1457.3,323.0 L1459.0,299.3 L1459.6,294.6 L1460.5,296.0 L1462.0,296.7 L1462.3,295.5 L1463.6,294.2 L1465.1,302.5 L1465.2,305.1 L1466.9,326.0 L1466.9,325.8 L1468.8,315.6 L1470.0,304.4 L1470.1,306.9 L1470.2,306.3 L1471.7,310.0 L1471.9,309.1 L1473.4,307.3 L1474.8,311.3 L1475.5,310.6 L1476.4,309.4 L1477.7,315.5 L1478.3,314.3 L1479.4,324.7 L1480.1,335.0 L1480.7,337.0 L1482.3,336.8 L1482.9,338.2 L1483.9,338.1 L1485.3,333.1 L1485.6,332.4 L1486.8,323.0 L1487.4,320.8 L1488.3,314.8 L1489.3,301.1 L1490.0,298.9 L1491.6,303.3 L1492.0,302.4 L1493.3,305.9 L1493.8,310.4 L1494.7,306.7 L1495.9,292.2 L1496.6,286.9 L1497.6,285.7 L1498.8,286.8 L1498.9,287.4 L1500.3,291.5 L1501.2,292.1 L1502.0,309.6 L1502.1,310.2 L1503.4,304.3 L1503.9,300.3 L1505.1,296.8 L1506.9,300.5 L1507.6,297.8 L1508.7,292.6 L1510.2,291.9 L1511.2,292.9 L1511.9,295.3 L1513.2,292.5 L1514.9,300.8 L1514.9,301.0 L1516.8,298.2 L1518.5,303.3 L1518.5,303.2 L1519.8,295.2 L1520.9,295.6 L1521.3,292.8 L1522.3,286.4 L1523.4,287.3 L1524.0,284.9 L1525.0,279.5 L1525.8,277.2 L1526.5,281.1 L1528.0,283.6 L1528.6,288.8 L1529.6,289.7 L1531.3,278.6 L1531.3,278.6 L1533.2,286.8 L1534.5,285.3 L1535.0,287.0 L1535.8,288.7 L1537.6,284.5 L1537.7,285.1 L1538.9,309.3 L1539.0,311.1 L1540.4,298.2 L1541.4,293.1 L1541.8,293.4 L1543.1,285.9 L1544.9,288.5 L1545.0,287.6 L1546.6,281.0 L1548.3,284.9 L1548.7,283.2 L1549.8,275.4 L1551.1,274.0 L1551.4,271.4 L1552.5,267.1 L1553.9,270.3 L1554.2,269.8 L1555.5,270.1 L1556.9,276.5 L1557.2,280.4 L1558.8,290.8 L1558.8,290.4 L1560.0,292.4 L1561.5,282.0 L1561.7,281.0 L1563.3,280.3 L1564.3,274.2 L1565.1,271.0 L1566.1,273.4 L1567.0,288.2 L1567.9,300.5 L1568.2,299.2 L1570.1,290.0 L1570.7,289.2 L1571.5,289.5 L1572.9,283.0 L1573.4,282.4 L1574.7,272.0 L1575.2,268.3 L1576.5,263.3 L1576.7,262.0 L1578.0,263.4 L1578.9,264.2 L1579.8,266.3 L1580.7,274.6 L1581.0,278.0 L1582.2,284.8 L1582.9,293.6 L1583.6,297.4 L1585.5,296.4 L1586.2,300.2 L1587.3,306.5 L1588.9,304.7 L1589.1,303.3 L1590.8,297.8 L1591.3,293.3 L1592.6,275.4 L1592.6,275.4 L1594.4,276.3 L1595.6,284.4 L1596.3,283.5 L1597.2,279.7 L1599.0,281.0 L1599.0,280.9 L1600.8,275.6 L1601.2,275.7 L1602.3,290.1 L1602.7,295.7 L1603.7,305.5 L1604.5,309.1 L1605.3,322.8 L1605.4,326.0 L1606.5,327.7 L1608.1,325.7 L1608.3,324.6 L1609.9,313.9 L1610.0,313.6 L1611.6,311.5 L1612.9,306.8 L1613.6,306.7 L1614.0,306.5 L1615.8,301.9 L1616.9,301.2 L1617.3,300.1 L1618.7,297.1 L1620.5,297.1 L1621.0,296.1 L1622.3,293.3 L1623.6,294.5 L1624.2,293.2 L1625.0,306.4 L1625.5,317.0 L1626.8,313.5 L1627.9,309.6 L1628.0,309.5 L1629.5,301.7 L1631.0,302.6 L1631.2,304.5 L1631.9,308.9 L1632.7,318.4 L1633.4,330.0 L1634.3,345.9 L1634.7,349.8 L1635.6,324.6 L1635.6,324.0 L1637.0,325.9 L1637.4,323.4 L1638.5,319.6 L1639.9,323.3 L1640.2,322.7 L1641.1,336.8 L1641.1,336.6 L1642.4,340.8 L1643.8,335.2 L1644.2,331.8 L1644.7,331.1 L1645.7,336.1 L1646.9,332.0 L1647.5,335.3 L1648.2,343.4 L1649.3,345.1 L1649.6,343.5 L1651.0,345.8 L1652.0,343.5 L1652.8,343.1 L1654.4,340.8 L1656.1,343.2 L1657.5,340.2 L1657.5,340.2 L1658.8,345.2 L1660.1,341.9 L1660.3,342.2 L1661.9,341.5 L1663.0,342.9 L1663.3,344.0 L1664.5,345.1 L1665.8,350.5 L1665.8,350.1 L1666.7,324.6 L1667.1,322.8 L1668.9,329.0 L1670.8,324.7 L1671.2,326.0 L1672.0,311.8 L1672.2,308.7 L1673.2,303.9 L1674.0,304.8 L1674.7,295.9 L1675.8,274.0 L1676.0,273.2 L1677.9,276.7 L1678.6,273.3 L1679.2,257.6 L1679.5,251.8 L1680.6,254.8 L1681.8,247.5 L1683.1,248.8 L1683.1,248.8 L1684.5,257.1 L1685.0,262.7 L1685.9,268.4 L1687.6,269.4 L1687.7,269.5 L1689.3,272.3 L1690.5,279.4 L1690.6,280.3 L1692.2,280.9 L1693.2,283.1 L1694.0,277.0 L1695.0,273.9 L1695.4,275.7 L1696.8,270.5 L1696.9,270.5 L1697.8,296.6 L1698.0,298.3 L1699.8,299.2 L1700.5,303.9 L1701.3,305.6 L1702.7,298.0 L1703.9,301.5 L1704.2,301.2 L1705.3,302.0 L1706.9,298.4 L1707.0,298.4 L1708.8,304.3 L1710.1,304.9 L1710.6,306.5 L1711.8,306.8 L1713.4,301.4 L1714.2,301.9 L1715.2,303.5 L1716.7,296.2 L1717.9,296.2 L1718.5,297.3 L1719.6,302.8 L1721.2,306.3 L1721.5,305.7 L1722.7,306.8 L1724.1,317.9 L1724.3,318.0 L1725.9,317.7 L1726.1,319.1 L1726.1,319.1 L1726.2,343.1 L1727.1,347.6 L1728.4,344.2 L1729.3,348.6 L1729.8,353.6 L1731.1,356.0 L1732.0,360.1 L1732.3,360.0 L1733.8,365.1 L1735.4,362.6 L1735.7,363.3 L1736.8,369.8 L1737.5,371.7 L1738.0,374.8 L1739.2,382.2 L1739.3,383.3 L1739.9,401.2 L1740.5,403.3 L1742.0,400.6 L1742.1,400.7 L1743.0,413.5 L1743.8,416.5 L1745.4,413.9 L1745.7,413.7 L1746.7,410.1 L1747.6,411.1 L1748.1,415.9 L1749.4,418.2 L1749.7,417.9 L1751.0,425.0 L1752.1,423.2 L1752.3,423.2 L1753.6,428.0 L1754.0,431.5 L1754.8,432.8 L1755.8,425.9 L1756.6,434.3 L1757.6,452.5 L1757.9,451.5 L1759.3,436.2 L1759.4,434.9 L1761.0,436.7 L1762.2,439.6 L1762.5,441.3 L1763.9,449.6 L1764.9,450.9 L1765.4,454.4 L1766.8,469.1 L1766.8,469.1 L1768.3,456.0 L1768.6,455.6 L1769.7,450.2 L1770.4,443.5 L1771.2,439.6 L1772.2,438.2 L1772.4,438.1 L1773.6,429.2 L1774.1,429.5 L1774.8,438.3 L1775.9,443.6 L1776.6,437.9 L1777.7,434.6 L1778.0,435.6 L1779.3,431.3 L1780.5,434.7 L1781.1,437.6 L1782.4,440.2 L1783.2,439.1 L1784.1,411.7 L1784.1,411.4 L1785.4,406.6 L1786.0,399.9 L1786.8,393.8 L1788.4,395.4 L1788.7,393.3 L1789.6,400.7 L1790.5,410.7 L1791.3,407.1 L1793.0,394.5 L1793.3,392.9 L1794.2,400.7 L1796.0,420.2 L1796.0,420.1 L1797.2,414.0 L1797.9,407.0 L1798.5,401.5 L1800.2,399.9 L1800.2,400.2 L1801.5,416.0 L1802.1,414.6 L1803.8,412.9 L1804.3,413.9 L1805.4,413.3 L1807.0,407.6 L1807.2,408.1 L1808.3,405.9 L1809.7,413.1 L1810.1,413.0 L1811.5,406.1 L1812.5,406.8 L1812.7,407.8 L1814.4,408.1 L1815.2,412.1 L1815.6,412.2 L1817.2,405.8 L1817.4,404.4 L1818.4,406.1 L1819.8,416.9 L1820.0,417.6 L1821.4,412.0 L1821.6,413.0 L1822.8,397.9 L1822.9,396.4 L1824.6,389.0 L1825.3,390.2 L1825.7,395.3 L1827.1,402.4 L1827.1,402.7 L1828.4,407.9 L1829.6,403.0 L1830.8,406.7 L1831.4,406.1 L1832.9,395.1 L1833.5,394.5 L1834.6,399.3 L1835.8,395.3 L1836.3,397.2 L1837.1,397.4 L1837.5,395.2 L1838.3,383.6 L1838.6,380.2 L1839.9,404.4 L1840.0,404.5 L1841.4,403.4 L1842.7,408.6 L1843.0,410.5 L1844.4,416.5 L1844.5,416.5 L1845.9,409.4 L1847.1,410.0 L1847.2,409.4 L1848.5,404.6 L1850.0,404.8 L1850.0,404.8 L1851.4,399.5 L1852.7,403.0 L1853.6,400.2 L1854.5,399.8 L1856.0,408.2 L1856.4,408.8 L1857.8,403.8 L1859.0,395.8 L1859.1,395.8 L1860.3,394.4 L1861.5,387.8 L1861.9,387.5 L1862.8,389.7 L1864.3,383.9 L1865.5,387.8 L1865.9,389.9 L1867.4,387.1 L1867.6,387.3 L1868.9,398.4 L1869.2,399.0 L1870.6,392.0 L1871.8,395.1 L1871.9,394.5 L1873.3,391.1 L1874.7,396.5 L1875.1,397.5 L1876.5,391.9 L1877.6,396.3 L1878.3,392.9 L1878.8,389.2 L1880.6,389.3 L1881.1,386.8 L1882.5,386.1 L1883.8,387.7 L1884.1,385.5 L1885.4,382.7 L1885.6,380.7 L1887.3,380.7 L1888.4,384.4 L1888.8,394.8 L1889.3,403.5 L1890.7,403.5 L1892.0,406.8 L1892.3,406.8 L1894.1,407.6 L1894.8,407.1 L1895.5,406.7 L1896.8,399.7 L1898.2,404.2 L1898.4,404.0 L1899.9,403.0 L1901.2,399.4 L1901.6,385.6 L1902.1,373.9 L1903.4,403.6 L1903.4,403.3 L1904.8,381.7 L1905.1,385.6 L1906.3,410.4 L1906.4,410.2 L1908.2,395.2 L1908.5,394.4 L1909.3,397.4 L1910.7,395.8 L1911.2,398.3 L1912.2,407.5 L1913.1,411.0 L1913.5,410.0 L1914.7,403.7 L1915.8,406.8 L1915.9,406.9 L1917.4,397.9 L1918.0,397.8 L1919.3,411.6 L1919.5,413.3 L1920.8,417.0 L1922.2,415.8 L1922.5,416.0 L1924.2,426.4 L1925.0,427.9 L1926.1,431.0 L1927.7,443.5 L1927.8,444.4 L1929.6,451.1 L1930.1,454.0 L1931.3,460.0 L1931.4,460.1 L1932.5,445.7 L1933.2,441.5 L1933.8,442.8 L1935.6,435.0 L1935.9,435.2 L1937.0,427.7 L1937.8,420.3 L1938.6,422.4 L1939.6,421.5 L1939.9,419.5 L1941.5,420.8 L1942.3,414.3 L1942.6,412.6 L1944.1,417.8 L1945.1,414.6 L1945.7,414.0 L1947.6,421.2 L1947.8,420.7 L1949.1,440.6 L1949.2,440.4 L1950.4,448.8 L1951.5,448.1 L1951.7,447.2 L1953.6,449.1 L1954.2,447.3 L1955.3,443.3 L1957.0,441.2 L1957.2,441.4 L1959.0,440.3 L1959.7,443.2 L1960.1,445.1 L1961.4,441.4 L1962.5,442.0 L1963.1,444.6 L1964.3,453.5 L1964.6,455.5 L1966.2,455.5 L1967.0,461.2 L1967.7,446.7 L1968.9,416.1 L1969.5,426.2 L1970.3,443.4 L1970.9,445.0 L1972.3,444.5 L1973.4,438.2 L1973.8,439.5 L1975.2,457.2 L1975.3,457.3 L1976.7,452.2 L1977.6,452.8 L1978.1,433.3 L1978.4,423.8 L1979.4,425.8 L1980.7,416.9 L1980.7,417.0 L1982.0,418.9 L1983.5,410.9 L1983.6,408.9 L1984.9,389.5 L1985.3,384.5 L1986.6,385.6 L1988.1,378.9 L1988.4,377.8 L1989.9,380.9 L1990.8,378.9 L1991.7,379.0 L1992.8,382.2 L1993.6,385.1 L1994.5,386.2 L1996.1,381.8 L1996.3,382.1 L1997.7,386.4 L1999.0,381.6 L1999.0,381.6 L2000.4,391.2 L2001.8,389.9 L2001.9,390.2 L2003.2,402.8 L2003.6,404.5 L2004.5,425.4 L2004.5,425.3 L2006.4,429.1 L2007.5,423.6 L2008.2,425.8 L2009.1,413.3 L2009.2,413.6 L2010.6,405.8 L2012.0,408.7 L2012.8,404.9 L2013.5,401.8 L2015.0,405.7 L2015.5,404.1 L2016.8,405.6 L2018.2,414.9 L2018.2,415.0 L2019.4,416.1 L2020.9,418.8 L2021.0,419.0 L2022.6,427.2 L2022.8,427.2 L2024.0,424.3 L2025.2,423.2 L2025.8,403.2 L2025.9,400.1 L2027.6,399.9 L2028.8,394.9 L2029.2,394.2 L2030.1,394.4 L2031.0,390.3 L2031.9,374.9 L2032.5,368.0 L2033.1,375.4 L2034.6,383.1 L2034.7,384.8 L2036.1,391.7 L2037.2,388.5 L2037.4,389.7 L2039.0,379.3 L2039.3,375.3 L2040.5,370.6 L2041.1,373.3 L2041.9,397.3 L2042.0,400.3 L2043.5,405.0 L2044.8,403.7 L2045.3,401.8 L2046.8,407.0 L2048.3,403.9 L2049.7,406.2 L2050.3,406.5 L2051.1,393.4 L2051.2,391.4 L2052.6,390.5 L2054.4,386.7 L2054.8,387.8 L2055.8,385.9 L2056.7,379.1 L2057.1,377.6 L2058.6,377.6 L2059.4,380.9 L2060.2,379.4 L2061.2,371.0 L2061.6,369.9 L2063.0,369.6 L2064.0,370.4 L2064.7,368.3 L2065.8,360.7 L2066.1,358.4 L2067.5,354.6 L2067.6,353.6 L2069.2,347.9 L2070.6,353.1 L2071.3,353.0 L2072.2,352.8 L2074.0,346.3 L2074.0,346.3 L2074.9,347.5 L2075.5,344.7 L2076.2,341.1 L2076.9,346.2 L2078.0,353.6 L2078.3,352.0 L2079.8,338.0 L2080.0,339.6 L2081.1,357.7 L2081.7,363.2 L2082.2,360.7 L2084.0,365.0 L2084.4,363.8 L2085.3,359.6 L2086.2,359.8 L2086.9,353.6 L2088.1,335.4 L2088.3,334.8 L2090.1,337.8 L2090.8,340.7 L2091.7,353.6 L2092.3,358.0 L2093.5,355.3 L2094.5,359.0 L2095.3,355.9 L2096.3,347.6 L2096.7,352.2 L2097.8,366.2 L2098.2,366.6 L2099.4,360.8 L2100.0,362.3 L2100.7,365.1 L2102.1,359.7" stroke="#3cf23c" stroke-width="2.3"/>
</g>
<rect x="15" y="500" width="2088" height="2" fill="#ffffff" shape-rendering="crispEdges"/>
<defs>
<linearGradient id="hg" x1="0" y1="0" x2="0" y2="1"><stop offset="0" stop-color="#2b78c2"/><stop offset="0.48" stop-color="#2a74bd"/><stop offset="0.52" stop-color="#0d4f9c"/><stop offset="1" stop-color="#0b62b4"/></linearGradient>
<linearGradient id="hh" x1="0" y1="0" x2="0" y2="1"><stop offset="0" stop-color="#ffffff" stop-opacity="0.45"/><stop offset="1" stop-color="#ffffff" stop-opacity="0.05"/></linearGradient>
</defs>
<circle cx="2191.8" cy="8.8" r="7.2" fill="#f9bb4c" opacity="0.6"/>
<circle cx="2191.8" cy="8.8" r="6.75" fill="url(#hg)"/>
<ellipse cx="2191.8" cy="5.6" rx="4.6" ry="2.9" fill="url(#hh)"/>
<polygon points="2177.9,791.7 2188.9,797.9 2188.9,810.0 2177.9,816.1 2166.9,810.0 2166.9,797.9" fill="#c9632a"/>
<text transform="translate(2172.6,808.9) scale(1.28,1)" x="0" y="0" font-size="14.6" font-weight="bold" fill="#dedede">2</text>

<text x="3.80" y="12.0" font-size="9.5" font-weight="normal" letter-spacing="0.617" fill="#0b0804" stroke="#0b0804" stroke-width="0.3">Player:</text>
<text x="41.30" y="12.0" font-size="9.5" font-weight="bold" letter-spacing="0.025" fill="#0b0804">Benevolented (PS)</text>
<text x="129.80" y="12.0" font-size="9.5" font-weight="normal" letter-spacing="0.767" fill="#0b0804" stroke="#0b0804" stroke-width="0.3">Filter:</text>
<text x="162.20" y="12.0" font-size="9.5" font-weight="bold" letter-spacing="0.317" fill="#0b0804">Between</text>
<text x="206.50" y="12.0" font-size="9.5" font-weight="bold" letter-spacing="0.611" fill="#0b0804">01.11.2017</text>
<text x="262.40" y="12.0" font-size="9.5" font-weight="bold" letter-spacing="0.233" fill="#0b0804">3:00</text>
<text x="284.20" y="12.0" font-size="9.5" font-weight="bold" letter-spacing="0.050" fill="#0b0804">and</text>
<text x="304.80" y="12.0" font-size="9.5" font-weight="bold" letter-spacing="0.567" fill="#0b0804">01.12.2017</text>
<text x="360.00" y="12.0" font-size="9.5" font-weight="bold" letter-spacing="0.425" fill="#0b0804">0:01;</text>
<text x="386.20" y="12.0" font-size="9.5" font-weight="bold" letter-spacing="-0.317" fill="#0b0804">Blinds:</text>
<text x="419.60" y="12.0" font-size="9.5" font-weight="bold" letter-spacing="0.325" fill="#0b0804">$100NL,€100NL</text>
<text x="498.50" y="12.0" font-size="9.5" font-weight="normal" letter-spacing="0.588" fill="#0b0804" stroke="#0b0804" stroke-width="0.3">Winnings:</text>
<text x="549.20" y="12.0" font-size="9.5" font-weight="bold" letter-spacing="0.550" fill="#0b0804">$581,54</text>
<text x="389.10" y="745.0" font-size="11.2" font-weight="normal" letter-spacing="-0.300" fill="#f0f0f0">5 000</text>
<text x="775.60" y="745.0" font-size="11.2" font-weight="normal" letter-spacing="-0.100" fill="#f0f0f0">10 000</text>
<text x="1166.00" y="745.0" font-size="11.2" font-weight="normal" letter-spacing="-0.120" fill="#f0f0f0">15 000</text>
<text x="1557.30" y="745.0" font-size="11.2" font-weight="normal" letter-spacing="-0.300" fill="#f0f0f0">20 000</text>
<text x="1947.65" y="745.0" font-size="11.2" font-weight="normal" letter-spacing="-0.300" fill="#f0f0f0">25 000</text>
<text x="2113.20" y="147.69999999999996" font-size="11.2" font-weight="normal" letter-spacing="-0.294" fill="#f0f0f0">$1 500,00</text>
<text x="2113.20" y="266.24999999999994" font-size="11.2" font-weight="normal" letter-spacing="-0.294" fill="#f0f0f0">$1 000,00</text>
<text x="2113.20" y="384.79999999999995" font-size="11.2" font-weight="normal" letter-spacing="-0.283" fill="#f0f0f0">$500,00</text>
<text x="2113.20" y="503.34999999999997" font-size="11.2" font-weight="normal" letter-spacing="-0.350" fill="#f0f0f0">$0,00</text>
<text x="2113.20" y="621.9" font-size="11.2" font-weight="normal" letter-spacing="-0.214" fill="#f0f0f0">-$500,00</text>
<text x="1042.60" y="769.0" font-size="11" font-weight="bold" letter-spacing="-0.400" fill="#ffffff">Hands</text>
<text transform="translate(2180.0,380.5) rotate(-90)" x="-23.00" y="0" font-size="11" font-weight="bold" letter-spacing="-0.429" fill="#ffffff">Winnings</text>
<text x="904.60" y="811.2" font-size="11.3" font-weight="normal" letter-spacing="0.467" fill="#cfcfcf">Net Won</text>
<text x="969.40" y="811.2" font-size="11.3" font-weight="normal" letter-spacing="0.257" fill="#cfcfcf">Rakeback</text>
<text x="1040.60" y="811.2" font-size="11.3" font-weight="normal" letter-spacing="0.455" fill="#cfcfcf">Non Showdown</text>
<text x="1143.00" y="811.2" font-size="11.3" font-weight="normal" letter-spacing="0.629" fill="#cfcfcf">Showdown</text>
<text x="1222.40" y="811.2" font-size="11.3" font-weight="normal" letter-spacing="0.150" fill="#cfcfcf">All-In EV</text>
<text x="2119.60" y="796.8" font-size="7.5" font-weight="normal" letter-spacing="0.267" fill="#a4a4a4">Powered by</text>
<text x="2065.30" y="808.8" font-size="11.2" font-weight="normal" letter-spacing="0.621" fill="#b9b9b9">Hold'em Manager</text>
<text x="2189.90" y="12.1" font-size="9.3" font-weight="bold" letter-spacing="0.000" fill="#ffffff">?</text>
<rect x="894" y="804" width="6" height="6" fill="#35ee42"/>
<rect x="959" y="804" width="6" height="6" fill="#f6e83e"/>
<rect x="1030" y="804" width="6" height="6" fill="#ee4c4c"/>
<rect x="1133" y="804" width="6" height="6" fill="#36a6f0"/>
<rect x="1211" y="804" width="6" height="6" fill="#f7952c"/>
</svg>

</body></html>
